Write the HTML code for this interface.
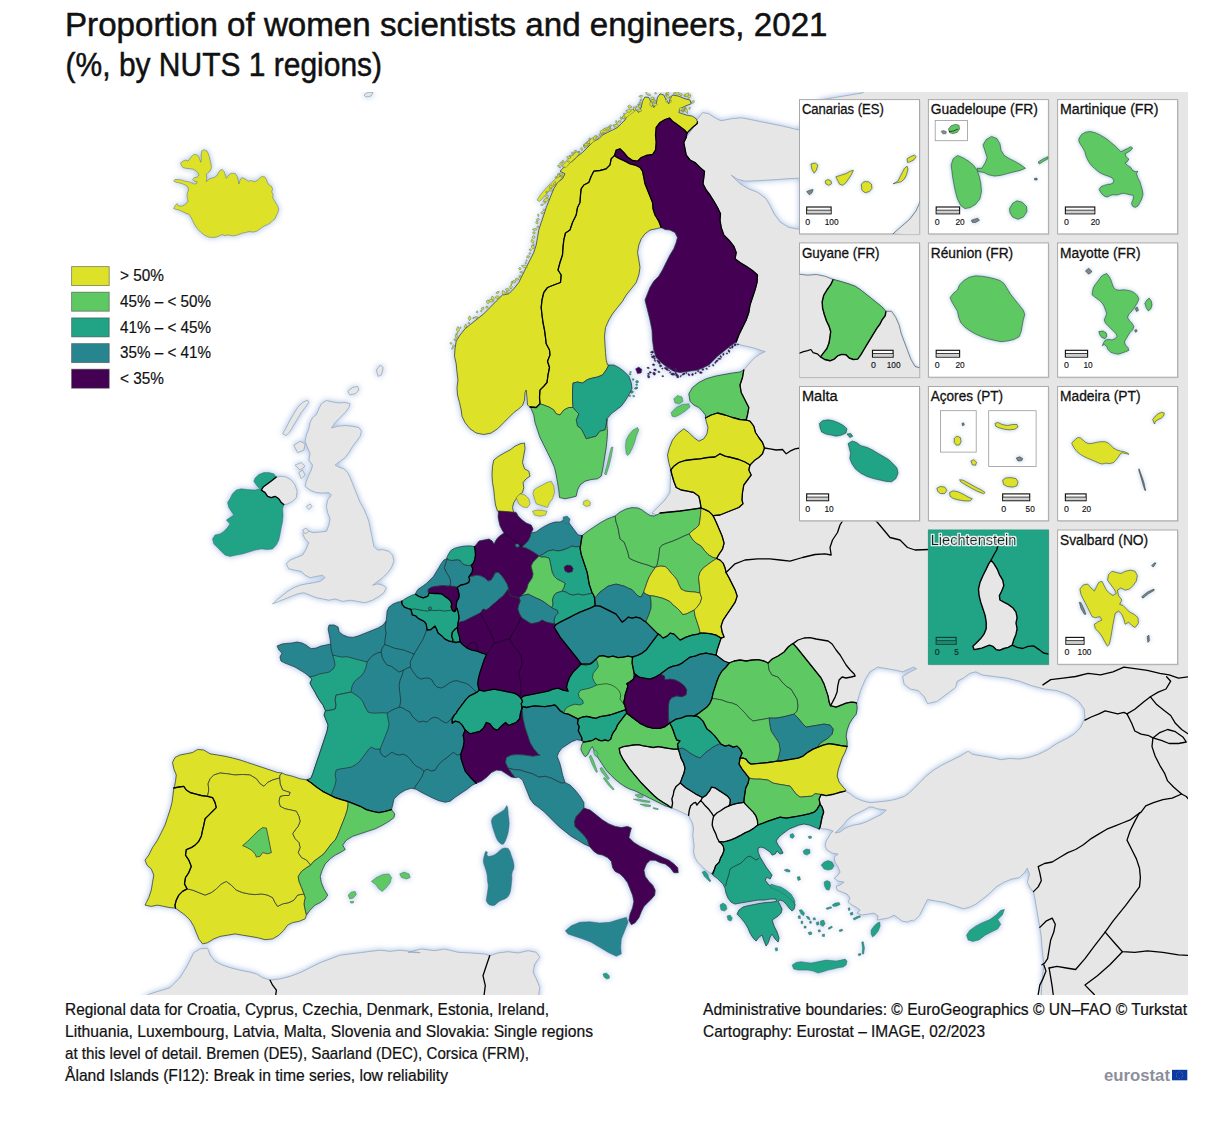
<!DOCTYPE html>
<html lang="en"><head><meta charset="utf-8"><title>Proportion of women scientists and engineers, 2021</title>
<style>html,body{margin:0;padding:0;background:#fff}body{width:1224px;height:1123px;overflow:hidden;position:relative;font-family:"Liberation Sans", sans-serif}svg{position:absolute;left:0;top:0;display:block}text{font-family:"Liberation Sans", sans-serif}</style></head><body>
<svg width="1224" height="1123" viewBox="0 0 1224 1123">
<defs>
<clipPath id="mapclip"><rect x="66" y="92" width="1122" height="903"/></clipPath>
<filter id="glow" x="-5%" y="-5%" width="110%" height="110%" color-interpolation-filters="sRGB">
<feGaussianBlur in="SourceAlpha" stdDeviation="3.3" result="b"/>
<feFlood flood-color="#c2d2ec" flood-opacity="1"/><feComposite in2="b" operator="in" result="g"/>
<feComponentTransfer in="g" result="g2"><feFuncA type="linear" slope="1.6"/></feComponentTransfer>
<feMerge><feMergeNode in="g2"/><feMergeNode in="SourceGraphic"/></feMerge>
</filter>
<filter id="glow2" x="-20%" y="-20%" width="140%" height="140%" color-interpolation-filters="sRGB">
<feGaussianBlur in="SourceAlpha" stdDeviation="2" result="b"/>
<feFlood flood-color="#b9d3ea" flood-opacity="1"/><feComposite in2="b" operator="in" result="g"/>
<feComponentTransfer in="g" result="g2"><feFuncA type="linear" slope="1.5"/></feComponentTransfer>
<feMerge><feMergeNode in="g2"/><feMergeNode in="SourceGraphic"/></feMerge>
</filter>
<filter id="wglow" x="-10%" y="-30%" width="120%" height="160%"><feMorphology in="SourceAlpha" operator="dilate" radius="1.2" result="d"/><feGaussianBlur in="d" stdDeviation="0.6" result="b"/><feFlood flood-color="#fff"/><feComposite in2="b" operator="in" result="w"/><feMerge><feMergeNode in="w"/><feMergeNode in="SourceGraphic"/></feMerge></filter>
</defs>
<g clip-path="url(#mapclip)">
<rect x="66" y="92" width="1122" height="903" fill="#fff"/>
<g filter="url(#glow)">
<g fill="#e6e6e6" stroke="#8ea3b8" stroke-width="0.7" stroke-linejoin="round">
<polygon points="670.8,470 672,475 673.8,481.2 676.2,487.5 681.2,490 687.5,491.2 693.8,492.5 698.8,496.2 700,501.2 701.1,508 690.1,509.6 680.1,511 670.1,512 660.1,513 657.1,515 652.1,513 655.1,510 665,500 670,492.5"/>
<polygon points="276.3,477.1 272.6,480.1 267.6,483.8 263.1,487.1 261.3,490.1 265.1,492.6 267.6,496.3 271.3,497.6 275.1,496.3 278.8,498.8 281.3,502.6 283.8,504.6 287.6,503.9 292.6,501.3 296.3,497.6 297.1,491.3 295.1,485.1 291.3,480.1 286.3,477.1 281.3,476.3"/>
<polygon points="272.6,603.9 278.8,601.4 285.1,598.9 291.3,596.4 297.6,593.9 303.8,592.7 310.1,595.2 316.4,597.7 322.6,598.9 328.9,600.2 335.1,598.9 342.6,601.4 350.1,600.2 357.6,601.4 365.1,602.7 372.6,600.2 378.9,596.4 383.9,592.7 386.4,587.7 382.7,585.2 377.6,583.9 372.6,585.2 377.6,581.4 382.7,577.7 387.7,572.7 391.4,567.6 393.9,561.4 392.7,555.1 388.9,551.4 382.7,549.6 377.6,550.1 373.9,546.4 372.6,540.1 371.4,533.9 370.1,527.6 368.9,521.4 366.4,515.1 363.9,508.9 360.1,502.6 357.6,496.3 355.1,490.1 352.6,483.8 350.1,477.6 347.6,472.6 343.9,468.8 338.9,467.1 335.1,465.1 340.1,461.3 345.1,457.6 348.9,452.6 352.6,446.3 356.4,441.3 360.1,436.3 361.4,431.3 358.9,427.5 352.6,426.3 345.1,425.5 337.6,426.3 331.4,428 335.1,422.5 340.1,417.5 345.1,412.5 348.9,407.5 350.1,403.8 345.1,402.5 338.9,403 332.6,402 326.4,400.5 321.4,403.8 318.9,408.8 316.4,414.5 312.6,417.5 310.1,422.5 308.8,428.8 306.3,435 305.1,441.3 307.6,447.6 310.1,453.8 308.8,460.1 312.6,465.1 311.3,470.1 308.8,475.1 306.3,481.3 305.1,486.3 310.1,490.1 316.4,492.6 322.6,493.1 328.9,492.6 331.4,495.1 327.6,500.1 326.4,506.4 327.6,512.6 330.1,518.9 328.9,525.1 326.4,531.4 320.1,532.1 312.6,532.6 306.3,530.1 302.6,533.9 305.1,538.9 308.8,542.6 306.3,548.9 302.6,555.1 296.3,557.6 290.1,560.1 286.3,563.9 288.8,568.9 295.1,570.2 301.3,571.4 305.1,575.2 310.1,577.7 316.4,576.4 322.6,575.2 325.1,577.7 320.1,581.4 313.9,582.7 306.3,583.9 300.1,585.2 293.8,587.7 287.6,591.4 281.3,596.4 276.3,600.2"/>
<polygon points="282.6,433.8 286.3,427.5 290.1,420 293.8,413.8 297.6,407.5 302.6,402.5 307.6,400 308.8,402.5 305.1,407.5 301.3,412.5 297.6,418.8 293.8,425 290.1,431.3 286.3,435.5"/>
<polygon points="293.8,445.1 300.1,441.3 305.1,443.8 303.8,450.1 297.6,452.6"/>
<polygon points="295.1,465.1 301.3,462.6 305.1,466.3 300.1,470.1"/>
<polygon points="298.8,472.6 302.6,470.1 305.1,475.1 301.3,478.8"/>
<polygon points="347.6,391.3 352.6,387.5 357.6,386.3 358.9,390 355.1,393.8 350.1,395"/>
<polygon points="376.4,370 380.2,365 383.2,367.5 381.4,375 378.1,376.3"/>
<polygon points="306.3,506.4 310.1,503.9 312.1,506.4 308.8,509.6"/>
<polygon points="302.6,530.1 306.3,528.1 308.8,531.4 305.1,533.9"/>
<polygon points="364,95 368,92.3 373,92.6 371,96 366,97"/>
<polygon points="670.8,807.5 667.5,805 663.3,802.5 658.3,799.2 654.2,795.8 650,791.7 645.8,787.5 641.7,783.3 637.5,778.3 633.3,773.3 629.2,768.3 625.8,763.3 622.5,758.3 620,753.3 619.2,748.3 623.3,746.7 628.3,745.8 633.3,745 638.3,744.7 643.3,745.8 648.3,746.7 653.3,747.5 658.3,746.7 663.3,747.5 668.3,748.3 673.3,749.2 678.3,749.2 679.6,753.1 681,758.1 683.6,763.1 685,768.1 684,773.1 682,778.1 680.3,782.9 676.1,786.4 674,790.6 673.3,794.7 671.9,798.9 672.6,803.1 671.7,807.9"/>
<polygon points="680.3,782.9 685.8,787.8 691.4,791.2 696.9,794.7 702.5,797.5 700.7,800.7 699.7,801.7 696.9,805.1 695.6,802.4 693.5,803.1 690.7,805.8 689.3,810 688.6,815.3 684.4,813.5 680.3,811.4 676.1,809.7 671.7,807.9 672.6,803.1 671.9,798.9 673.3,794.7 674,790.6 676.1,786.4 680.3,782.9"/>
<polygon points="702.5,797.5 706,795.4 709.4,791.2 711.5,787.1 715,787.8 719.2,790.6 723.3,793.3 727.5,796.1 730.3,799.6 730,803.8 728.9,805.8 724.7,807.9 720.6,810.7 717.1,812.8 713.6,816.2 711.5,812.8 708.8,809.3 705.3,805.8 702.5,802.4 700.7,800.7"/>
<polygon points="713.6,816.2 717.1,812.8 720.6,810.7 724.7,807.9 728.9,805.8 733.1,804.4 737.2,803.3 740.7,802.8 743.9,802.4 745.6,804.4 749.7,808.6 753.2,812.1 756,816.2 757.4,820.4 757.8,825 753.9,828.1 749.7,830.8 744.9,832.9 740,835.7 735.8,837.8 731,839.9 726.8,841.2 723.3,841.9 719.2,841.7 717.1,837.8 715.7,833.6 713.6,829.4 712.2,825.3 712.5,821.1 713.6,816.2"/>
<polygon points="700.7,800.7 699.7,801.7 696.9,805.1 695.6,802.4 693.5,803.1 690.7,805.8 689.3,810 688.6,815.3 690.7,819.7 692.8,823.9 693.5,829.4 692.8,835 693.5,840.6 694.2,846.1 693.5,851.7 694.9,857.2 697.6,862.1 701.1,865.6 705.3,869.7 709.4,872.5 712.9,873.9 714.3,869.7 715.7,865.6 719.2,862.1 720.6,857.9 722.6,854.4 724,850.3 723.3,846.1 721.2,843.3 719.2,841.7 717.1,837.8 715.7,833.6 713.6,829.4 712.2,825.3 712.5,821.1 713.6,816.2 711.5,812.8 708.8,809.3 705.3,805.8 702.5,802.4 700.7,800.7"/>
<path fill-rule="evenodd" d="M697.5,122 L697,123.8 L693,127 L690,130 L687,133 L702.5,112.6 L708.7,113.7 L714.8,117.8 L721,120.8 L731.2,118.8 L741.4,117.8 L751.7,119.8 L761.9,121.9 L772.1,123.9 L782.4,126 L790.6,128 L798.8,130 L820,100 L862,93 L870,88 L1192,88 L1192,1000 L1041,1000 L1041.9,983.5 L1042.9,974.2 L1043.8,964.8 L1042.9,955.5 L1041.9,946.1 L1041.3,936.8 L1039.8,927.4 L1038.2,918.1 L1036.6,908.7 L1035.1,899.4 L1033.5,891.6 L1030.4,888.5 L1027.3,882.2 L1029.5,874.4 L1027.3,868.2 L1024.2,872.9 L1019.5,877.6 L1011.7,879.1 L1003.9,882.2 L996.1,886.9 L989.9,893.1 L982.1,899.4 L975.9,904.1 L969.6,907.2 L963.4,908.7 L954,905.6 L944.7,902.5 L935.3,900.9 L927.5,899.4 L924.4,905.6 L919.8,915 L913.5,921.2 L912.2,920.1 L907.2,922.1 L902.2,921.1 L898.2,918.1 L894.2,915.1 L888.2,918.1 L882.2,919.1 L877.1,920.1 L878.2,916.1 L874.1,913.1 L868.1,914.1 L862.1,915.1 L857.1,913.1 L860.1,910.1 L856.1,907.1 L852.1,905.1 L848.1,902.1 L850.1,898.1 L847.1,894.1 L842.1,892.1 L837.1,890.1 L836.1,886.1 L840.1,885.1 L844.1,882.1 L838.1,881.1 L834.1,878.1 L837.1,876.1 L840.1,872.1 L838.1,867.1 L835.1,862.1 L834.1,857.1 L838.1,854.1 L832.1,853.1 L827.1,850 L825.1,846 L826.1,841 L828.1,838 L830.1,834.4 L833.1,831 L830.1,830 L827.1,829 L823.1,829 L820.1,828 L819.1,829 L820.1,827 L821.1,822 L822.1,817 L823.7,812 L822.1,807 L820.1,804.1 L800,780 L770,720 L740,680 L718,665 L712,650 L713,628 L715,600 L712,570 L705,540 L708,512 L715,470 L720,440 L725,410 L740,385 L743.8,370 L746.9,366.3 L750.6,361.9 L755,357.5 L760,354.1 L765.3,351.6 L760,350.1 L753.5,347.9 L747.6,346.5 L741.8,345.3 L737,343.5 L736.2,342 L738.8,335 L742.5,327.5 L746.2,320 L748.8,312.5 L750,305 L752.5,297.5 L755,290 L757,282.5 L757.5,275 L752.5,270.5 L746.2,266.2 L740,262.5 L735,258.8 L736.2,252.5 L733.8,246.2 L728.8,240 L723.8,235 L721.2,227.5 L720,220 L720.5,213.8 L717.5,207.5 L713.8,201.2 L710,195 L706.2,190 L703,183.8 L703.8,177.5 L704.5,171.2 L700,167.5 L695,162.5 L690,160 L686.2,155 L685,148.8 L683.8,142.5 L686.2,137.5Z M856.6,703.1 L857.2,708.1 L856.2,714.1 L852.2,719.1 L849.2,724.1 L847.1,730.1 L846.1,736.1 L847.1,742.1 L847.1,746.5 L845.1,752.1 L842.1,758.1 L840.1,764.1 L838.1,770.1 L837.1,776.1 L839.1,782.1 L843.1,787.1 L846.1,790.1 L845.1,791.1 L849.6,793.4 L855.8,798.1 L863.6,801.2 L869.9,802.7 L876.1,802.1 L885.5,801.2 L894.8,799.6 L904.2,796.5 L908.8,793.4 L913.5,788.7 L919.8,782.5 L926,776.2 L933.8,770 L941.6,765.3 L950.9,760.7 L960.3,756 L968.1,751.3 L972.7,754.4 L982.1,756 L991.4,757.5 L1000.8,759.7 L1010.1,758.5 L1019.5,759.1 L1028.9,757.5 L1038.2,754.4 L1047.6,749.8 L1056.9,743.5 L1066.3,738.8 L1074.1,734.2 L1080.3,727.9 L1085,718.6 L1084.3,709.2 L1078.7,701.4 L1069.4,695.2 L1056.9,690.5 L1044.4,689 L1032,685.8 L1019.5,681.2 L1007,678.1 L994.6,676.5 L982.1,674.9 L975.9,671.8 L969.6,673.4 L963.4,678.1 L957.2,681.2 L955.6,687.4 L949.4,692.1 L943.1,696.8 L936.9,701.4 L927.5,703.6 L924.4,696.8 L918.2,690.5 L910.4,689 L904.2,684.3 L902.6,676.5 L910.4,671.8 L916.6,668.7 L913.5,667.1 L902.6,671.8 L896.4,670.3 L887,668.7 L877.7,667.1 L869.9,671.8 L865.2,679.6 L860.5,690.5 L857.4,701.4Z M869.1,807 L864.1,810 L858.1,813 L852.1,816 L847.1,820 L844.1,824 L841.1,827 L838.1,830 L835.1,833 L840.1,832 L844.1,829 L848.1,827 L854.1,825 L860.1,824 L866.1,822 L870.1,820 L876.1,817 L882.2,814 L886.2,810 L878.2,809 L872.1,807Z M731.2,175.1 L737.3,179.2 L745.5,181.2 L755.8,180.8 L766,180.2 L776.2,179.6 L786.5,178.8 L798.8,178.2 L800,178 L800,230 L798.8,229.3 L788.5,227.3 L780.3,222.2 L774.2,214 L770.1,205.8 L766,198.6 L757.8,192.5 L747.6,188.4 L739.4,183.3Z"/>
<polygon points="140,1000 150,993.9 170,987.7 180,977.7 187.6,965.2 193.8,952.7 200.1,948.9 207.6,948.2 210.1,955.2 215.1,961.4 222.6,965.2 230.1,967.7 240.1,970.2 250.1,972.2 256.4,973.9 262.6,977.7 270.1,980.2 280.1,978.9 290.1,976.4 300.1,972.7 310.1,967.7 320.2,962.7 330.2,958.9 340.2,955.2 350.2,953.9 360.2,952.7 370.2,951.4 380.2,950.2 390.2,951.4 400.2,950.2 410.2,951.4 420.2,952.7 408,952.3 421.3,949 434.7,950.7 444.7,949 458,952.3 471.3,953 484.7,954 489.7,955.7 498,953 508,951.7 518,953 528,950.7 536.3,952.3 539.7,957.3 534.7,964 533,972.3 536.3,979 539.7,987.3 538.7,995 538.7,1000"/>
</g>
<g stroke="#26303a" stroke-opacity="0.75" stroke-width="0.95" stroke-linejoin="round">
<polygon fill="#dde228" stroke="#3f566e" stroke-opacity="0.6" stroke-width="0.7" points="180.6,162.9 182.9,161.2 185.7,160 188,161.2 189.7,158.9 192,156 194.3,154.3 197.2,154.9 198.9,157.2 200,160 200.6,162.3 201.4,159.4 201.2,154.9 201.7,150.9 204,149.7 206.9,150.9 208.6,154.3 209.8,158.9 210.9,163.4 211.5,167.5 210.3,170.9 208,172.6 206.3,174.3 206.9,177.7 206.3,181.7 208,180 210.9,178.3 213.8,177.7 216.6,176 218.3,173.2 220,170.3 222.3,169.5 224.1,171.5 225.2,174.9 226.3,178.3 228.1,176 230.3,173.7 233.2,173.2 235.5,173.7 237.2,176.6 238.3,180.6 238.9,184 240.1,180 241.8,177.7 244.1,178.3 246.4,180 248.6,181.2 251.5,180.6 254.4,181.7 257.2,180.6 259.5,178.3 261.8,176.6 264.7,176.8 266.4,179.5 267.5,182.9 269.2,185.2 271.5,186.3 272.7,189.2 271.5,192 273.2,194.3 272.7,197.8 274.4,200.6 276.1,203.5 277.8,206.3 278.7,209.2 277.8,212.6 276.1,216.1 274.9,218.9 272.7,220.6 270.4,222.9 267.5,224.6 264.7,225.8 261.8,227.5 258.9,229.8 256.1,231.5 252.6,232.1 249.2,231.5 245.8,232.4 242.4,233.2 238.9,234.4 235.5,235.5 232.1,235.8 228.6,234.9 225.2,235.5 221.8,234.7 218.9,236.1 216,237.2 212.6,237.4 209.2,237.2 206.3,236.1 203.5,234.4 200.6,232.1 198.3,229.8 196,226.9 194.3,224.1 192.6,220.6 190.9,217.2 189.2,214.3 185.7,213.2 182.3,211.5 178.9,210 175.4,209.2 173.7,208.6 175.4,205.2 177.2,203.5 178.3,205.8 181.2,206.3 184,205.2 186.3,203.5 188,201.2 187.5,198.3 186.9,195.5 187.5,192.6 188.6,189.8 188,186.9 185.7,185.2 182.9,184 179.4,182.9 176,182.3 173.7,181.2 174.9,179.5 178.3,179.5 181.7,180 185.2,181.2 188.6,181.7 191.5,182.9 194.3,184 196.6,183.5 197.2,181.7 194.3,181.2 192.6,179.5 194.3,177.7 197.2,177.2 198.9,175.5 198.3,173.2 196,170.9 193.2,169.2 189.7,168.6 186.3,168.4 182.9,167.5 181.2,165.2"/>
<polygon fill="#440154" points="614.5,155.5 616.2,150 620,148.8 623.8,152.5 627.5,157 632.5,160.5 637.5,161.2 641.2,157.5 646.2,155.5 652.5,154.5 655.5,150 656.2,142.5 655.5,135 656.2,127.5 660,122.5 665,119.5 669.5,118 672.5,121.2 676.2,123.8 680.5,127 684.5,130 687,133 686.2,137.5 683.8,142.5 685,148.8 686.2,155 690,160 695,162.5 700,167.5 704.5,171.2 703.8,177.5 703,183.8 706.2,190 710,195 713.8,201.2 717.5,207.5 720.5,213.8 720,220 721.2,227.5 723.8,235 728.8,240 733.8,246.2 736.2,252.5 735,258.8 740,262.5 746.2,266.2 752.5,270.5 757.5,275 757,282.5 755,290 752.5,297.5 750,305 748.8,312.5 746.2,320 742.5,327.5 738.8,335 736.2,342 736.2,342 730,346.2 723.8,351.2 717.5,356.2 712.5,361.2 708.8,365 702.5,368 697.5,370 680,372.5 673.8,371.2 667.5,367.5 661.2,362.5 656.2,357.5 653.8,350 652.5,340 652,330 650,320 647.5,310 645,300 647.5,293.8 650,287.5 653.8,281.2 658.8,276.2 662.5,270 666.2,262.5 670,255 673.8,248.8 676.2,242.5 677.5,237.5 675,232.5 670,230 665,229.5 661.2,227.5 658.8,221.2 655,215 653,208.8 652.5,202.5 650,196.2 647.5,190 645,183.8 643.8,177.5 642.5,171.2 640,167.5 635,165 630,163.8 625,161.2 620,158.8 616.2,157 614.5,155.5"/>
<polygon fill="#440154" stroke="#3f566e" stroke-opacity="0.6" stroke-width="0.7" points="635.5,368.8 638.8,367 642,369.5 641.2,373 637.5,373.8"/>
<polygon fill="#dde228" points="614.5,155.5 611.2,158.8 610,165 606.2,168.8 600,170.5 593.8,171.2 591.2,176.2 588.8,182.5 583.8,185 581.2,188.8 580.5,195 580,202.5 577.5,207.5 576.2,215 572.5,222.5 570,230 565.5,233 563.8,240 563,247.5 562.5,255 560,262.5 558,270 561.2,275 560.5,282.5 553.8,285 547.5,287.5 543.8,292.5 542,300 541.2,307.5 542,315 543,322.5 544.5,330 545.5,337.5 546.2,343.8 549.5,350 550,355 547.5,361.2 549.5,367.5 548,375 547,382.5 543.8,386.2 540,390 539.5,397.5 540,403.8 536.2,407.5 530,407 527.5,405 527,397.5 526.2,390 525,392.5 524.5,400 522.5,405.5 518.8,408.8 513.8,412.5 508.8,417.5 503.8,422.5 497.5,428.8 491.2,433 483.8,434.5 476.2,433 470,428.8 465,422.5 462,416.2 461.2,410 459.5,402.5 457.5,395 457,387.5 458,380 457,372.5 456.2,363.8 454.5,356.2 455,348.8 456.2,341.2 460,335 465,328.8 471.2,323.8 477.5,318.8 483.8,313.8 490,307.5 496.2,301.2 502.5,295 508.8,293.8 513.8,288.8 518.8,282.5 522.5,275 526.2,267.5 530,260 533.8,252.5 536.2,245 537.5,237.5 538.8,230 541.2,222.5 543.8,215 546.2,207.5 548.8,201.2 551.2,195 553.8,188.8 557.5,182.5 562.5,178.8 565,173.8 560,171.2 563.8,167.5 568.8,163.8 573.8,160 577.5,156.2 582.5,152.5 586.2,148.8 590,145 593.8,141.2 598.8,138.8 602.5,135 607.5,132.5 612.5,130 617.5,127.5 621.2,123.8 625,120 627.5,115 631.2,111.2 635,108.8 638.8,112.5 641.2,107.5 642.5,101.2 645,97 648.8,97.5 651.2,102.5 653.8,107.5 656.2,103.8 657.5,97.5 660,93.8 663.8,95 666.2,100 668.8,103.8 670,98.8 672.5,95 678.8,96.2 685,98.8 690,100 691.2,103.8 685,106.2 680,108.8 678.8,112.5 682.5,113.8 686.2,115 692.5,116.2 696.2,118.8 697.5,122 697,123.8 693,127 690,130 687,133 684.5,130 680.5,127 676.2,123.8 672.5,121.2 669.5,118 665,119.5 660,122.5 656.2,127.5 655.5,135 656.2,142.5 655.5,150 652.5,154.5 646.2,155.5 641.2,157.5 637.5,161.2 632.5,160.5 627.5,157 623.8,152.5 620,148.8 616.2,150 614.5,155.5"/>
<polygon fill="#dde228" stroke="#3f566e" stroke-opacity="0.6" stroke-width="0.7" points="537,200 541.2,193.8 546.2,188 551.2,183 556.2,178 561.2,173.8 563.8,175.5 559.5,180.5 554.5,185.5 549.5,190.5 544.5,196.2 539.5,201.5"/>
<polygon fill="#dde228" stroke="#3f566e" stroke-opacity="0.6" stroke-width="0.7" points="562,166.5 566.5,160.8 571.5,155.8 577,151.5 580.2,152.5 576,157.5 571,162 566,167.5"/>
<polygon fill="#dde228" stroke="#3f566e" stroke-opacity="0.6" stroke-width="0.7" points="583.2,145 588.2,140.8 593.2,137.5 595.8,140 590.8,144 585.8,147.5"/>
<polygon fill="#dde228" stroke="#3f566e" stroke-opacity="0.6" stroke-width="0.7" points="600,131.5 605,128.2 610,126.5 611.2,129 606.2,132 601.2,134.5"/>
<polygon fill="#dde228" stroke="#3f566e" stroke-opacity="0.6" stroke-width="0.7" points="622.5,116.5 627.5,112 632.5,109 634.5,111.5 629.5,115 624.5,119"/>
<polygon fill="#dde228" stroke="#3f566e" stroke-opacity="0.6" stroke-width="0.7" points="451.8,349.2 451.5,348.4 451.9,347.8 452.6,347.6 452.9,348.3 452.7,349"/>
<polygon fill="#dde228" stroke="#3f566e" stroke-opacity="0.6" stroke-width="0.7" points="452.6,346.7 452.6,345.6 453.5,344.9 454.6,345.5 454.4,346.6 453.6,347.4"/>
<polygon fill="#dde228" stroke="#3f566e" stroke-opacity="0.6" stroke-width="0.7" points="451.8,343.8 450.9,344.4 450.2,343.8 449.9,342.9 450.8,342.4 451.6,342.8"/>
<polygon fill="#dde228" stroke="#3f566e" stroke-opacity="0.6" stroke-width="0.7" points="456,340.6 454.9,340.5 454.3,340.1 453.9,339.1 455.1,339.2 455.7,339.5"/>
<polygon fill="#dde228" stroke="#3f566e" stroke-opacity="0.6" stroke-width="0.7" points="456.1,338.8 455.4,336.7 455.2,335.4 456.5,334.1 457.4,335.7 457.4,337"/>
<polygon fill="#dde228" stroke="#3f566e" stroke-opacity="0.6" stroke-width="0.7" points="456.1,334.7 456,333.5 456.5,332.9 457.6,332.2 457.6,333.5 457.2,334.2"/>
<polygon fill="#dde228" stroke="#3f566e" stroke-opacity="0.6" stroke-width="0.7" points="458.2,332 456.7,330.6 456.6,329 457.8,326.5 459.4,328.7 459.3,330.3"/>
<polygon fill="#dde228" stroke="#3f566e" stroke-opacity="0.6" stroke-width="0.7" points="460.6,328.4 460,328.1 459.8,327.4 460.4,327 461,327.3 461.1,328"/>
<polygon fill="#dde228" stroke="#3f566e" stroke-opacity="0.6" stroke-width="0.7" points="465.2,328.4 464.4,326.4 464.8,325.4 465.9,323.9 466.5,325.6 466.5,326.8"/>
<polygon fill="#dde228" stroke="#3f566e" stroke-opacity="0.6" stroke-width="0.7" points="469.6,323.7 468.6,323.9 468.1,323.3 468.2,322.4 469,322.2 469.6,322.8"/>
<polygon fill="#dde228" stroke="#3f566e" stroke-opacity="0.6" stroke-width="0.7" points="469.5,320.7 468.6,318.8 468.3,317.5 469.7,315.8 470.9,317.6 470.8,319.1"/>
<polygon fill="#dde228" stroke="#3f566e" stroke-opacity="0.6" stroke-width="0.7" points="473.1,318.7 472.7,318.2 473,317.5 473.7,317.4 474,318 473.8,318.6"/>
<polygon fill="#dde228" stroke="#3f566e" stroke-opacity="0.6" stroke-width="0.7" points="478.3,317.6 476.5,318.2 475.6,318.2 474.2,317.3 475.8,316.6 476.7,316.7"/>
<polygon fill="#dde228" stroke="#3f566e" stroke-opacity="0.6" stroke-width="0.7" points="477.2,313.1 476.3,312.6 476.3,311.6 477.1,310.7 478,311.5 478,312.5"/>
<polygon fill="#dde228" stroke="#3f566e" stroke-opacity="0.6" stroke-width="0.7" points="481.3,311.9 480.5,311.4 480.7,310.5 481.5,310.2 482.1,310.8 482,311.5"/>
<polygon fill="#dde228" stroke="#3f566e" stroke-opacity="0.6" stroke-width="0.7" points="481.4,309.4 481.4,308.1 482.3,307.2 483.9,307.4 483.8,309 482.8,309.8"/>
<polygon fill="#dde228" stroke="#3f566e" stroke-opacity="0.6" stroke-width="0.7" points="487.3,308.2 486.3,308.1 485.8,307.2 486.3,306.1 487.6,306.2 488,307.4"/>
<polygon fill="#dde228" stroke="#3f566e" stroke-opacity="0.6" stroke-width="0.7" points="488.4,303.6 486.9,303.1 486.4,301.9 486.9,300.2 488.7,300.6 489.4,302.2"/>
<polygon fill="#dde228" stroke="#3f566e" stroke-opacity="0.6" stroke-width="0.7" points="493.7,301.4 491.4,302.1 489.9,301.7 488.6,300 490.7,299.4 492.1,299.5"/>
<polygon fill="#dde228" stroke="#3f566e" stroke-opacity="0.6" stroke-width="0.7" points="493.5,300.6 491.6,299.3 491.3,297.8 492,296.2 493.6,297.1 494.4,298.4"/>
<polygon fill="#dde228" stroke="#3f566e" stroke-opacity="0.6" stroke-width="0.7" points="495.1,297.2 496.6,295.9 498,296 499.5,296.9 498.4,298.4 496.8,298.4"/>
<polygon fill="#dde228" stroke="#3f566e" stroke-opacity="0.6" stroke-width="0.7" points="495.9,293.2 496.9,291.8 497.8,291.4 499.4,291.7 498.5,293.1 497.6,293.4"/>
<polygon fill="#dde228" stroke="#3f566e" stroke-opacity="0.6" stroke-width="0.7" points="504.7,294.8 502.7,294.1 502.2,292.6 502.5,290.4 504.5,291.5 505.1,292.8"/>
<polygon fill="#dde228" stroke="#3f566e" stroke-opacity="0.6" stroke-width="0.7" points="508.1,293.2 507,293.5 506.1,293 506.1,291.9 507.1,291.4 508,292.1"/>
<polygon fill="#dde228" stroke="#3f566e" stroke-opacity="0.6" stroke-width="0.7" points="509.5,290.5 507.8,291 506.4,290.8 505.4,289 507.3,288.4 508.7,288.8"/>
<polygon fill="#dde228" stroke="#3f566e" stroke-opacity="0.6" stroke-width="0.7" points="510.9,289.2 509.8,287.7 509.8,286.4 510.9,285.1 512.1,286.4 512,287.7"/>
<polygon fill="#dde228" stroke="#3f566e" stroke-opacity="0.6" stroke-width="0.7" points="511.4,285 511,283.1 511.2,282.4 512.1,281 512.5,282.6 512.4,283.4"/>
<polygon fill="#dde228" stroke="#3f566e" stroke-opacity="0.6" stroke-width="0.7" points="512.5,282.2 513,280.7 514.4,280.5 515.9,281.1 515.3,282.7 513.9,282.9"/>
<polygon fill="#dde228" stroke="#3f566e" stroke-opacity="0.6" stroke-width="0.7" points="515,279.3 516.4,278.3 517.5,278.3 519,279.2 517.5,280.1 516.5,280.2"/>
<polygon fill="#dde228" stroke="#3f566e" stroke-opacity="0.6" stroke-width="0.7" points="520.2,277.6 519.1,277.3 518.9,276.1 519.8,275.5 521.1,275.6 521.2,276.9"/>
<polygon fill="#dde228" stroke="#3f566e" stroke-opacity="0.6" stroke-width="0.7" points="523.3,272.5 522,273.1 521.1,273.1 519.7,272.1 521.3,271.4 522.2,271.7"/>
<polygon fill="#dde228" stroke="#3f566e" stroke-opacity="0.6" stroke-width="0.7" points="519.2,269.5 518.6,268.5 519.4,267.5 520.5,267.7 521.2,268.7 520.4,269.7"/>
<polygon fill="#dde228" stroke="#3f566e" stroke-opacity="0.6" stroke-width="0.7" points="527.5,267 525.1,267.7 523.7,267.5 521.4,265.7 524.3,265.2 525.5,265.5"/>
<polygon fill="#dde228" stroke="#3f566e" stroke-opacity="0.6" stroke-width="0.7" points="526.3,263.5 525.7,263.8 525.1,263.5 524.9,262.7 525.7,262.4 526.3,262.7"/>
<polygon fill="#dde228" stroke="#3f566e" stroke-opacity="0.6" stroke-width="0.7" points="527,261.1 526.3,261.2 525.9,260.7 526,260.1 526.7,259.8 527.1,260.4"/>
<polygon fill="#dde228" stroke="#3f566e" stroke-opacity="0.6" stroke-width="0.7" points="526.6,257.6 527,256.2 528,255.5 529.4,256 529.1,257.4 528,258"/>
<polygon fill="#dde228" stroke="#3f566e" stroke-opacity="0.6" stroke-width="0.7" points="530.7,253.7 530.1,254.6 529.2,254.2 528.8,253.4 529.5,252.8 530.5,252.7"/>
<polygon fill="#dde228" stroke="#3f566e" stroke-opacity="0.6" stroke-width="0.7" points="531.2,250.7 530.1,250.7 529.4,250.1 529.4,249.1 530.5,248.8 531.3,249.6"/>
<polygon fill="#dde228" stroke="#3f566e" stroke-opacity="0.6" stroke-width="0.7" points="533.9,248.6 532.3,248.4 531.4,247.2 531.7,245.3 533.5,245.8 534.5,247"/>
<polygon fill="#dde228" stroke="#3f566e" stroke-opacity="0.6" stroke-width="0.7" points="533.7,245.5 533.1,245.4 532.9,244.8 533.3,244.1 534.1,244.3 534.4,245.1"/>
<polygon fill="#dde228" stroke="#3f566e" stroke-opacity="0.6" stroke-width="0.7" points="533.2,243.5 531.6,242.3 530.9,241 531.7,239.3 533.2,240.4 534,241.6"/>
<polygon fill="#dde228" stroke="#3f566e" stroke-opacity="0.6" stroke-width="0.7" points="532.2,238.1 532.3,236.6 533.4,235.7 534.9,236.2 534.8,237.8 533.6,238.6"/>
<polygon fill="#dde228" stroke="#3f566e" stroke-opacity="0.6" stroke-width="0.7" points="534.9,233.7 533.7,234.2 532.9,233.3 532.9,232 534.2,231.7 535.3,232.5"/>
<polygon fill="#dde228" stroke="#3f566e" stroke-opacity="0.6" stroke-width="0.7" points="537,229.4 535.2,230.4 534,230.4 532.3,229.4 534.2,228.6 535.2,228.4"/>
<polygon fill="#dde228" stroke="#3f566e" stroke-opacity="0.6" stroke-width="0.7" points="537.1,227.8 536.9,226.7 537.6,226 538.6,226.1 538.8,227.1 538.2,227.8"/>
<polygon fill="#dde228" stroke="#3f566e" stroke-opacity="0.6" stroke-width="0.7" points="538.3,222.8 537.4,223.8 536.2,223.3 535.6,222.1 536.8,221.5 537.8,221.7"/>
<polygon fill="#dde228" stroke="#3f566e" stroke-opacity="0.6" stroke-width="0.7" points="536.9,221.1 536.5,219.6 537.2,218.5 538.6,218.3 539.2,219.6 538.3,220.6"/>
<polygon fill="#dde228" stroke="#3f566e" stroke-opacity="0.6" stroke-width="0.7" points="538.4,216.7 537.7,215.5 537.6,214.8 538.1,213.8 538.9,214.6 538.8,215.3"/>
<polygon fill="#dde228" stroke="#3f566e" stroke-opacity="0.6" stroke-width="0.7" points="540.9,213 541.6,211.9 542.8,211.6 543.7,212.6 543,213.6 541.9,214"/>
<polygon fill="#dde228" stroke="#3f566e" stroke-opacity="0.6" stroke-width="0.7" points="543.8,210.8 543.3,210.1 543.2,209.5 543.8,208.8 544.4,209.4 544.3,210"/>
<polygon fill="#dde228" stroke="#3f566e" stroke-opacity="0.6" stroke-width="0.7" points="540.5,205.1 541.6,204.2 542.3,204 543.5,204.4 542.7,205.4 541.9,205.5"/>
<polygon fill="#dde228" stroke="#3f566e" stroke-opacity="0.6" stroke-width="0.7" points="545.9,202.7 545.1,203.3 544.1,203.3 543.9,202.4 544.5,201.7 545.4,201.8"/>
<polygon fill="#dde228" stroke="#3f566e" stroke-opacity="0.6" stroke-width="0.7" points="543.1,201.3 544.6,199 546.3,198.4 548.9,199 547.3,201.2 545.8,201.4"/>
<polygon fill="#dde228" stroke="#3f566e" stroke-opacity="0.6" stroke-width="0.7" points="546.4,197.8 545.5,196.6 546.4,195.5 547.9,194.9 548.4,196.4 547.8,197.5"/>
<polygon fill="#dde228" stroke="#3f566e" stroke-opacity="0.6" stroke-width="0.7" points="546,193.1 545.7,192 546.2,191.3 547.1,191 547.4,191.9 547.2,192.8"/>
<polygon fill="#dde228" stroke="#3f566e" stroke-opacity="0.6" stroke-width="0.7" points="548.7,190 550,188.9 551.3,188.9 552.9,190 551.4,191.1 550.1,191.2"/>
<polygon fill="#dde228" stroke="#3f566e" stroke-opacity="0.6" stroke-width="0.7" points="549.3,188 549.4,186.1 550.4,185.1 552.2,185 552,186.8 551.1,187.8"/>
<polygon fill="#dde228" stroke="#3f566e" stroke-opacity="0.6" stroke-width="0.7" points="553.7,185.4 553.5,183.7 553.9,182.7 555.4,181.5 555.7,183.4 555.3,184.6"/>
<polygon fill="#dde228" stroke="#3f566e" stroke-opacity="0.6" stroke-width="0.7" points="557.4,177.6 556.2,178.1 555.5,178 554.9,177.3 555.7,176.8 556.4,176.8"/>
<polygon fill="#dde228" stroke="#3f566e" stroke-opacity="0.6" stroke-width="0.7" points="560.3,176.1 558.9,176.6 557.7,175.5 557.8,173.7 559.7,173.5 560.8,174.6"/>
<polygon fill="#dde228" stroke="#3f566e" stroke-opacity="0.6" stroke-width="0.7" points="563.1,174.4 561.6,175.4 560.4,175.1 559,173.9 560.7,173.2 561.8,173.3"/>
<polygon fill="#dde228" stroke="#3f566e" stroke-opacity="0.6" stroke-width="0.7" points="562.8,177.1 561.8,177.6 561.1,177.4 560.3,176.6 561.4,176.2 562.1,176.3"/>
<polygon fill="#dde228" stroke="#3f566e" stroke-opacity="0.6" stroke-width="0.7" points="556.5,176.9 557.3,175.6 558.4,174.8 560.1,175.5 559.1,177 558,177.3"/>
<polygon fill="#dde228" stroke="#3f566e" stroke-opacity="0.6" stroke-width="0.7" points="560.5,167.9 558.7,167.3 558.1,166.6 557.7,165.1 559.2,165.4 560,166.1"/>
<polygon fill="#dde228" stroke="#3f566e" stroke-opacity="0.6" stroke-width="0.7" points="561,165.7 559.9,164.3 559.7,163 561,162.2 562.1,163.1 562.3,164.5"/>
<polygon fill="#dde228" stroke="#3f566e" stroke-opacity="0.6" stroke-width="0.7" points="564.1,162.3 562.9,162.7 561.8,162.1 562,160.8 563.1,160.4 563.9,161.1"/>
<polygon fill="#dde228" stroke="#3f566e" stroke-opacity="0.6" stroke-width="0.7" points="569.6,161.7 568.7,162.3 567.9,162.1 567.2,161.2 568.2,160.7 568.9,161"/>
<polygon fill="#dde228" stroke="#3f566e" stroke-opacity="0.6" stroke-width="0.7" points="570.9,157.6 569.2,158.5 567.9,158.4 566.5,157.1 568.2,156.3 569.3,156.3"/>
<polygon fill="#dde228" stroke="#3f566e" stroke-opacity="0.6" stroke-width="0.7" points="569.4,156 569.8,155.2 570.7,155.1 571.3,155.8 570.7,156.4 570,156.6"/>
<polygon fill="#dde228" stroke="#3f566e" stroke-opacity="0.6" stroke-width="0.7" points="573.2,155.2 572.1,154.5 571.7,153.7 571.8,152 573,153.2 573.3,153.9"/>
<polygon fill="#dde228" stroke="#3f566e" stroke-opacity="0.6" stroke-width="0.7" points="573.7,152.9 574.1,151.4 574.7,150.6 576.3,150.2 575.8,151.8 575.2,152.6"/>
<polygon fill="#dde228" stroke="#3f566e" stroke-opacity="0.6" stroke-width="0.7" points="577.8,153 578.1,151.7 578.7,151.4 579.8,151.1 579.5,152.1 579.1,152.7"/>
<polygon fill="#dde228" stroke="#3f566e" stroke-opacity="0.6" stroke-width="0.7" points="582,150.7 581,149.6 580.6,148.8 581.3,147.6 582.3,148.4 582.5,149.4"/>
<polygon fill="#dde228" stroke="#3f566e" stroke-opacity="0.6" stroke-width="0.7" points="585,148.1 583.8,147.4 583.3,146.6 583.6,145.2 584.8,146 585.1,146.8"/>
<polygon fill="#dde228" stroke="#3f566e" stroke-opacity="0.6" stroke-width="0.7" points="583.9,145.4 585.8,143.4 587,143 589.9,143 588.1,145.3 586.5,145.8"/>
<polygon fill="#dde228" stroke="#3f566e" stroke-opacity="0.6" stroke-width="0.7" points="587.1,144.3 587.2,142 588,141.1 589.8,139.8 589.6,142.1 589.1,143.1"/>
<polygon fill="#dde228" stroke="#3f566e" stroke-opacity="0.6" stroke-width="0.7" points="590.4,139.6 589.5,139.9 588.9,139.2 589,138.2 589.9,138.2 590.7,138.7"/>
<polygon fill="#dde228" stroke="#3f566e" stroke-opacity="0.6" stroke-width="0.7" points="593.4,140.4 593.3,138.2 593.8,136.8 596.2,135.1 596.2,138 595.3,139.1"/>
<polygon fill="#dde228" stroke="#3f566e" stroke-opacity="0.6" stroke-width="0.7" points="595.8,137.4 597,136.6 597.8,136.4 598.9,137.1 597.9,137.9 597,138.1"/>
<polygon fill="#dde228" stroke="#3f566e" stroke-opacity="0.6" stroke-width="0.7" points="599.5,136.1 599,134.9 599.4,133.9 600.6,133.4 601.3,134.6 600.9,135.7"/>
<polygon fill="#dde228" stroke="#3f566e" stroke-opacity="0.6" stroke-width="0.7" points="602.3,134 602,133.1 602.4,132.1 603.5,132.1 603.7,133.1 603.3,133.8"/>
<polygon fill="#dde228" stroke="#3f566e" stroke-opacity="0.6" stroke-width="0.7" points="606.2,130.2 605,130.9 603.9,130.6 603.4,129.4 604.4,128.4 605.5,129"/>
<polygon fill="#dde228" stroke="#3f566e" stroke-opacity="0.6" stroke-width="0.7" points="606.2,129.8 607.4,128.3 608.3,127.8 610.1,128 608.9,129.4 608.1,130.1"/>
<polygon fill="#dde228" stroke="#3f566e" stroke-opacity="0.6" stroke-width="0.7" points="608.9,126.3 609.5,125.3 610.4,124.8 611.8,125.2 611.1,126.5 610.1,126.7"/>
<polygon fill="#dde228" stroke="#3f566e" stroke-opacity="0.6" stroke-width="0.7" points="615.6,126.5 614.4,127.1 613.5,126.3 612.9,125.1 614.2,124.5 615.4,125.1"/>
<polygon fill="#dde228" stroke="#3f566e" stroke-opacity="0.6" stroke-width="0.7" points="614.5,125.8 615.5,124.3 617.1,124.4 619.2,125.5 617.4,127 615.8,127.2"/>
<polygon fill="#dde228" stroke="#3f566e" stroke-opacity="0.6" stroke-width="0.7" points="617,123.9 615.9,122.6 615.7,121.8 615.9,120.4 617,121.3 617.3,122.2"/>
<polygon fill="#dde228" stroke="#3f566e" stroke-opacity="0.6" stroke-width="0.7" points="618.4,122.2 618.7,120.8 620,120.6 621.2,121.2 620.6,122.5 619.5,123.1"/>
<polygon fill="#dde228" stroke="#3f566e" stroke-opacity="0.6" stroke-width="0.7" points="621.5,119.7 620.4,118.9 620.2,117.9 620.7,116.7 621.7,117.6 622.1,118.5"/>
<polygon fill="#dde228" stroke="#3f566e" stroke-opacity="0.6" stroke-width="0.7" points="622.2,118.4 622.4,116.8 623.5,116.1 625.1,116.1 624.9,117.7 623.8,118.4"/>
<polygon fill="#dde228" stroke="#3f566e" stroke-opacity="0.6" stroke-width="0.7" points="623.8,114.6 623.3,113.9 623.7,113.3 624.4,113.2 624.8,113.8 624.5,114.4"/>
<polygon fill="#dde228" stroke="#3f566e" stroke-opacity="0.6" stroke-width="0.7" points="625.7,110.8 628.1,109.7 629.6,109.3 631.4,110.8 629.6,112.2 627.9,112.2"/>
<polygon fill="#dde228" stroke="#3f566e" stroke-opacity="0.6" stroke-width="0.7" points="632,107.1 630.1,107.9 628.6,107.9 627.8,106.2 629.2,105 630.6,105.7"/>
<polygon fill="#dde228" stroke="#3f566e" stroke-opacity="0.6" stroke-width="0.7" points="639.5,106.1 638.4,105.8 637.9,105.3 637.8,104.2 639,104.2 639.6,104.9"/>
<polygon fill="#dde228" stroke="#3f566e" stroke-opacity="0.6" stroke-width="0.7" points="641.8,111.1 639.8,111.5 638.4,111.2 637.5,109.4 639.4,108.9 640.8,109.3"/>
<polygon fill="#dde228" stroke="#3f566e" stroke-opacity="0.6" stroke-width="0.7" points="635.2,110.9 633.6,109.9 633.3,108.6 633.8,106.6 635.4,107.8 635.7,109"/>
<polygon fill="#dde228" stroke="#3f566e" stroke-opacity="0.6" stroke-width="0.7" points="635.7,107.4 635.8,106.5 636.5,106.1 637.4,106.3 637.1,107.2 636.6,107.4"/>
<polygon fill="#dde228" stroke="#3f566e" stroke-opacity="0.6" stroke-width="0.7" points="639.8,108.4 638.5,106.9 638.3,105.9 638.9,104.2 640.1,105.5 640.3,106.5"/>
<polygon fill="#dde228" stroke="#3f566e" stroke-opacity="0.6" stroke-width="0.7" points="641.4,104.4 639.9,104.1 639.1,103.6 638.8,102.2 640.3,102.4 641.2,102.9"/>
<polygon fill="#dde228" stroke="#3f566e" stroke-opacity="0.6" stroke-width="0.7" points="640.1,101.5 640.1,100 640.4,99.3 641.4,98.7 641.6,99.8 641.3,100.5"/>
<polygon fill="#dde228" stroke="#3f566e" stroke-opacity="0.6" stroke-width="0.7" points="638.9,96.6 639.9,95.4 641,95.4 642.7,95.9 641.4,97.1 640.4,97.2"/>
<polygon fill="#dde228" stroke="#3f566e" stroke-opacity="0.6" stroke-width="0.7" points="646.2,93.8 645.8,92.7 645.8,92.1 646.6,91.1 647.1,92.3 647,93"/>
<polygon fill="#dde228" stroke="#3f566e" stroke-opacity="0.6" stroke-width="0.7" points="650.9,95.1 649.1,95.7 648.3,95.3 646.6,94.4 648.4,93.8 649.3,94"/>
<polygon fill="#dde228" stroke="#3f566e" stroke-opacity="0.6" stroke-width="0.7" points="654.2,99.5 653.4,100 652.6,99.8 652.2,98.8 653.1,98.2 654,98.6"/>
<polygon fill="#dde228" stroke="#3f566e" stroke-opacity="0.6" stroke-width="0.7" points="653.6,102.4 653.8,101.1 654.7,100.2 656.1,100.5 656,101.9 655,102.3"/>
<polygon fill="#dde228" stroke="#3f566e" stroke-opacity="0.6" stroke-width="0.7" points="652.7,105 654.1,103.4 655.5,103.4 657.3,104.2 656,105.7 654.5,105.9"/>
<polygon fill="#dde228" stroke="#3f566e" stroke-opacity="0.6" stroke-width="0.7" points="651.6,107.1 649.8,104.8 649.9,103.1 650.9,100.4 652.5,102.8 652.6,104.4"/>
<polygon fill="#dde228" stroke="#3f566e" stroke-opacity="0.6" stroke-width="0.7" points="651.6,103.1 651.8,102.5 652.5,102.1 653.1,102.7 652.8,103.4 652.2,103.5"/>
<polygon fill="#dde228" stroke="#3f566e" stroke-opacity="0.6" stroke-width="0.7" points="651.4,102.2 651.2,100.5 652,99.5 654,98.5 653.9,100.7 653.1,101.9"/>
<polygon fill="#dde228" stroke="#3f566e" stroke-opacity="0.6" stroke-width="0.7" points="650.8,98.4 651.5,97.1 652.7,97 654.2,97.8 653.4,99.4 651.8,99.6"/>
<polygon fill="#dde228" stroke="#3f566e" stroke-opacity="0.6" stroke-width="0.7" points="656.6,93.6 655.7,94 654.9,93.8 654.6,92.9 655.4,92.5 656.2,92.7"/>
<polygon fill="#dde228" stroke="#3f566e" stroke-opacity="0.6" stroke-width="0.7" points="663.3,91.7 661.6,90.9 661.1,89.9 661.1,88.4 662.6,89 663.1,89.9"/>
<polygon fill="#dde228" stroke="#3f566e" stroke-opacity="0.6" stroke-width="0.7" points="666.5,96.3 665.7,94.9 665.6,93.6 666.9,93.1 667.7,94.1 667.7,95.2"/>
<polygon fill="#dde228" stroke="#3f566e" stroke-opacity="0.6" stroke-width="0.7" points="670.8,98.2 670.2,97.3 670.1,96.6 670.7,95.9 671.4,96.6 671.3,97.3"/>
<polygon fill="#dde228" stroke="#3f566e" stroke-opacity="0.6" stroke-width="0.7" points="669.7,102.4 669.5,101.4 670.1,100.8 671.3,100.2 671.3,101.6 670.8,102.3"/>
<polygon fill="#dde228" stroke="#3f566e" stroke-opacity="0.6" stroke-width="0.7" points="667.2,102.3 665.8,101.5 665.7,100.4 665.9,98.8 667.2,99.9 667.7,100.8"/>
<polygon fill="#dde228" stroke="#3f566e" stroke-opacity="0.6" stroke-width="0.7" points="669.6,98 667.6,98 666.4,96.9 666.2,94.8 668.2,95.1 669.2,96"/>
<polygon fill="#dde228" stroke="#3f566e" stroke-opacity="0.6" stroke-width="0.7" points="666.8,94.3 666.5,92.9 667.4,92 668.7,92.3 669,93.5 668.2,94.6"/>
<polygon fill="#dde228" stroke="#3f566e" stroke-opacity="0.6" stroke-width="0.7" points="673.6,94.4 673.7,93 674.2,92.3 675.6,91.6 675.5,93.2 674.9,93.8"/>
<polygon fill="#dde228" stroke="#3f566e" stroke-opacity="0.6" stroke-width="0.7" points="676.1,95.2 676.2,93.4 677,92.3 678.8,92.1 679.1,94 678,95.2"/>
<polygon fill="#dde228" stroke="#3f566e" stroke-opacity="0.6" stroke-width="0.7" points="682.4,95.1 681.2,95.7 680.1,95.4 679.4,94.1 680.8,93.3 681.9,93.8"/>
<polygon fill="#dde228" stroke="#3f566e" stroke-opacity="0.6" stroke-width="0.7" points="684.4,96.3 683.9,95.3 684.3,94.5 685.2,93.9 685.7,94.9 685.3,95.7"/>
<polygon fill="#dde228" stroke="#3f566e" stroke-opacity="0.6" stroke-width="0.7" points="684.8,96.8 685.6,94.3 686.8,93.3 689.1,93.1 688.4,95.2 687.4,96.3"/>
<polygon fill="#dde228" stroke="#3f566e" stroke-opacity="0.6" stroke-width="0.7" points="687.9,98.3 687.9,96.4 688.7,95.3 690.8,94.6 690.5,96.7 689.8,97.9"/>
<polygon fill="#dde228" stroke="#3f566e" stroke-opacity="0.6" stroke-width="0.7" points="691.6,103.1 691.6,101.5 692.8,100.9 694.4,100.8 694,102.3 693.2,103.3"/>
<polygon fill="#dde228" stroke="#3f566e" stroke-opacity="0.6" stroke-width="0.7" points="689.3,109.6 688.8,108.5 689,107.7 689.9,106.9 690.3,108 690.1,108.8"/>
<polygon fill="#dde228" stroke="#3f566e" stroke-opacity="0.6" stroke-width="0.7" points="686,110.7 684.4,109.8 684.1,108.4 684.7,106.7 686.1,107.8 686.6,108.9"/>
<polygon fill="#dde228" stroke="#3f566e" stroke-opacity="0.6" stroke-width="0.7" points="682.9,111.6 682.8,110.4 683.2,109.4 684.7,109 684.8,110.6 684.1,111.3"/>
<polygon fill="#dde228" stroke="#3f566e" stroke-opacity="0.6" stroke-width="0.7" points="684.2,111.9 682.6,112.1 681.8,111.7 680.9,110.5 682.4,110.4 683.3,110.6"/>
<polygon fill="#dde228" stroke="#3f566e" stroke-opacity="0.6" stroke-width="0.7" points="679.1,110 679.5,108.2 680.7,107.7 682.8,107.5 681.9,109.5 680.8,110.5"/>
<polygon fill="#dde228" stroke="#3f566e" stroke-opacity="0.6" stroke-width="0.7" points="683.3,111.7 682.4,111.5 682.3,110.6 682.9,109.8 683.7,110.2 683.9,111.1"/>
<polygon fill="#dde228" stroke="#3f566e" stroke-opacity="0.6" stroke-width="0.7" points="687.6,113.5 685.8,111.7 685,110.7 685.1,108 687.2,109.7 687.5,110.9"/>
<polygon fill="#440154" stroke="#3f566e" stroke-opacity="0.6" stroke-width="0.7" points="739,344.5 738.1,344.9 737.6,344.8 736.9,344.4 737.7,344.1 738.2,344"/>
<polygon fill="#440154" stroke="#3f566e" stroke-opacity="0.6" stroke-width="0.7" points="733.9,345.6 734,344.3 734.9,343.5 736.2,343.9 736.2,345.2 735.2,345.9"/>
<polygon fill="#440154" stroke="#3f566e" stroke-opacity="0.6" stroke-width="0.7" points="732.2,348.5 731.4,347.2 731.6,346.1 732.5,345 733.2,346.3 733.1,347.2"/>
<polygon fill="#440154" stroke="#3f566e" stroke-opacity="0.6" stroke-width="0.7" points="731.2,348.5 730.1,348.7 729.3,348.4 729.1,347.4 730,347 730.7,347.5"/>
<polygon fill="#440154" stroke="#3f566e" stroke-opacity="0.6" stroke-width="0.7" points="729.6,352.7 728.4,351.7 727.8,350.9 728.3,349.5 729.4,350.3 730,351.2"/>
<polygon fill="#440154" stroke="#3f566e" stroke-opacity="0.6" stroke-width="0.7" points="725.9,353.6 726.5,352.8 727.3,353 728.2,353.4 727.4,354.1 726.7,354.1"/>
<polygon fill="#440154" stroke="#3f566e" stroke-opacity="0.6" stroke-width="0.7" points="723.2,355.8 722.6,354.7 722.7,354 723.5,352.8 724.2,354 724,354.8"/>
<polygon fill="#440154" stroke="#3f566e" stroke-opacity="0.6" stroke-width="0.7" points="721.8,357.7 720.5,357.4 719.9,356.7 720,355.6 721,355.8 721.6,356.4"/>
<polygon fill="#440154" stroke="#3f566e" stroke-opacity="0.6" stroke-width="0.7" points="721.4,359 719.6,359.6 718.7,359.4 717.5,358.5 718.9,357.9 719.8,358"/>
<polygon fill="#440154" stroke="#3f566e" stroke-opacity="0.6" stroke-width="0.7" points="715.1,362.4 715.8,360.7 716.6,360.1 718.4,359.8 717.6,361.5 716.8,362.1"/>
<polygon fill="#440154" stroke="#3f566e" stroke-opacity="0.6" stroke-width="0.7" points="714.7,363.3 714.6,362.6 715.1,361.9 716,362.1 716.1,363 715.4,363.5"/>
<polygon fill="#440154" stroke="#3f566e" stroke-opacity="0.6" stroke-width="0.7" points="714,366.2 713,366.1 712.4,365.5 712.4,364.4 713.5,364.4 713.9,365.2"/>
<polygon fill="#440154" stroke="#3f566e" stroke-opacity="0.6" stroke-width="0.7" points="708.4,366.8 708.8,366 709.3,365.7 710.1,365.7 709.9,366.4 709.4,366.8"/>
<polygon fill="#440154" stroke="#3f566e" stroke-opacity="0.6" stroke-width="0.7" points="707.8,369.2 706.7,369.5 706.1,369.3 705.5,368.5 706.4,368 707.1,368.4"/>
<polygon fill="#440154" stroke="#3f566e" stroke-opacity="0.6" stroke-width="0.7" points="703.9,369.9 702.9,370.4 701.9,370.1 701.9,369 702.7,368.5 703.8,368.7"/>
<polygon fill="#440154" stroke="#3f566e" stroke-opacity="0.6" stroke-width="0.7" points="702.5,373.1 701,373.5 699.9,373.4 699.2,372.2 700.4,371.5 701.5,371.8"/>
<polygon fill="#440154" stroke="#3f566e" stroke-opacity="0.6" stroke-width="0.7" points="697.3,371.6 697.2,370.6 698.1,370.3 699.1,370.5 699,371.5 698.2,371.9"/>
<polygon fill="#440154" stroke="#3f566e" stroke-opacity="0.6" stroke-width="0.7" points="695.1,374 694.9,373.1 695.2,372.4 696.1,372.3 696.4,373.1 696,373.8"/>
<polygon fill="#440154" stroke="#3f566e" stroke-opacity="0.6" stroke-width="0.7" points="692.3,375.7 691.4,375 691.7,373.9 692.9,373.1 693.5,374.3 693.3,375.3"/>
<polygon fill="#440154" stroke="#3f566e" stroke-opacity="0.6" stroke-width="0.7" points="689.8,376.1 688.6,375.6 688,374.9 688.1,373.6 689.4,373.9 689.9,374.7"/>
<polygon fill="#440154" stroke="#3f566e" stroke-opacity="0.6" stroke-width="0.7" points="686.6,374 685.8,373.3 685.8,372.7 686,371.6 686.8,372.3 687,373"/>
<polygon fill="#440154" stroke="#3f566e" stroke-opacity="0.6" stroke-width="0.7" points="681.7,375.3 682.7,373.5 683.5,373.1 685.2,372.8 684.7,374.5 683.7,374.9"/>
<polygon fill="#440154" stroke="#3f566e" stroke-opacity="0.6" stroke-width="0.7" points="680.3,377.3 680.1,376.4 680.3,375.8 681.1,375 681.4,376.1 681.1,376.7"/>
<polygon fill="#440154" stroke="#3f566e" stroke-opacity="0.6" stroke-width="0.7" points="679,376.8 677.3,376.6 676.5,375.8 676.2,374.4 677.7,374.5 678.4,375.2"/>
<polygon fill="#440154" stroke="#3f566e" stroke-opacity="0.6" stroke-width="0.7" points="676.4,374.8 675.2,374.1 674.9,373.3 675.2,372.1 676.4,372.4 676.7,373.4"/>
<polygon fill="#440154" stroke="#3f566e" stroke-opacity="0.6" stroke-width="0.7" points="675,375 673.5,375.2 672.8,374.6 672.2,373.5 673.5,373 674.5,373.6"/>
<polygon fill="#440154" stroke="#3f566e" stroke-opacity="0.6" stroke-width="0.7" points="669.4,373.1 669.6,372.1 670.2,371.7 671.2,371.6 670.9,372.6 670.4,372.9"/>
<polygon fill="#440154" stroke="#3f566e" stroke-opacity="0.6" stroke-width="0.7" points="670,370.5 669.2,370.9 668.6,370.8 668,370.2 668.8,369.9 669.4,369.9"/>
<polygon fill="#440154" stroke="#3f566e" stroke-opacity="0.6" stroke-width="0.7" points="668.3,370.4 666.5,370.2 665.7,369.2 665.6,367.6 667.2,367.8 667.9,368.7"/>
<polygon fill="#440154" stroke="#3f566e" stroke-opacity="0.6" stroke-width="0.7" points="663.2,368.6 662.7,369.2 661.9,369.1 661.4,368.4 662.2,368 662.8,367.9"/>
<polygon fill="#440154" stroke="#3f566e" stroke-opacity="0.6" stroke-width="0.7" points="662,366.1 661,367.1 659.7,366.8 659.3,365.6 660.1,364.7 661.4,364.9"/>
<polygon fill="#440154" stroke="#3f566e" stroke-opacity="0.6" stroke-width="0.7" points="660.2,364 659.5,364.3 658.9,364 658.4,363.2 659.3,363.1 659.9,363.2"/>
<polygon fill="#440154" stroke="#3f566e" stroke-opacity="0.6" stroke-width="0.7" points="660.5,363.3 658.2,362.8 657.5,361.9 656.6,360.1 658.6,360.6 659.6,361.1"/>
<polygon fill="#440154" stroke="#3f566e" stroke-opacity="0.6" stroke-width="0.7" points="655.6,361.7 654.4,361.1 654.2,360.3 654.2,359.1 655.2,359.8 655.7,360.4"/>
<polygon fill="#440154" stroke="#3f566e" stroke-opacity="0.6" stroke-width="0.7" points="655.1,357.4 653.8,357.3 653,356.6 653.1,355.2 654.4,355.4 655.2,356.1"/>
<polygon fill="#440154" stroke="#3f566e" stroke-opacity="0.6" stroke-width="0.7" points="650.7,354.7 651.1,354.2 651.6,354.2 652,354.6 651.7,355.1 651.2,355.2"/>
<polygon fill="#440154" stroke="#3f566e" stroke-opacity="0.6" stroke-width="0.7" points="650.1,352.2 651.6,351.2 652.8,351 654.2,352.1 652.8,353.2 651.6,353.1"/>
<polygon fill="#440154" stroke="#3f566e" stroke-opacity="0.6" stroke-width="0.7" points="649.8,374.2 648.7,374.8 647.9,374.5 647.3,373.7 648.4,373.1 649.2,373.4"/>
<polygon fill="#440154" stroke="#3f566e" stroke-opacity="0.6" stroke-width="0.7" points="654.6,357.4 653,358.2 651.9,357.8 651,356.7 652.5,355.9 653.6,356.2"/>
<polygon fill="#440154" stroke="#3f566e" stroke-opacity="0.6" stroke-width="0.7" points="663.9,376.4 663,376.9 662.2,376.7 661.6,375.9 662.6,375.4 663.4,375.6"/>
<polygon fill="#440154" stroke="#3f566e" stroke-opacity="0.6" stroke-width="0.7" points="655.8,373.5 654.4,374.3 653.3,373.9 652.4,372.9 653.9,372.1 654.9,372.4"/>
<polygon fill="#440154" stroke="#3f566e" stroke-opacity="0.6" stroke-width="0.7" points="655.7,358.9 654.8,359.3 654.2,359.1 653.7,358.5 654.5,358 655.2,358.2"/>
<polygon fill="#440154" stroke="#3f566e" stroke-opacity="0.6" stroke-width="0.7" points="669.9,367.6 668.9,368.2 668.1,367.9 667.5,367.2 668.5,366.6 669.3,366.9"/>
<polygon fill="#440154" stroke="#3f566e" stroke-opacity="0.6" stroke-width="0.7" points="656.7,370.2 655.2,370.9 654.2,370.6 653.3,369.5 654.8,368.8 655.8,369.1"/>
<polygon fill="#440154" stroke="#3f566e" stroke-opacity="0.6" stroke-width="0.7" points="676.7,369.5 675.8,370 675.1,369.7 674.5,369 675.4,368.5 676.1,368.7"/>
<polygon fill="#440154" stroke="#3f566e" stroke-opacity="0.6" stroke-width="0.7" points="651.6,372.6 650.4,373.3 649.6,373 648.9,372.1 650,371.5 650.9,371.8"/>
<polygon fill="#440154" stroke="#3f566e" stroke-opacity="0.6" stroke-width="0.7" points="678.1,375.4 676.8,376.1 675.9,375.8 675.2,374.9 676.4,374.2 677.3,374.5"/>
<polygon fill="#440154" stroke="#3f566e" stroke-opacity="0.6" stroke-width="0.7" points="650,376.4 648.7,377 647.8,376.7 647.1,375.8 648.3,375.2 649.2,375.5"/>
<polygon fill="#440154" stroke="#3f566e" stroke-opacity="0.6" stroke-width="0.7" points="655.6,374.7 654.5,375.3 653.7,375 653,374.2 654.1,373.6 655,373.9"/>
<polygon fill="#440154" stroke="#3f566e" stroke-opacity="0.6" stroke-width="0.7" points="655.1,365.1 653.8,365.8 652.8,365.5 652,364.5 653.3,363.8 654.3,364.1"/>
<polygon fill="#440154" stroke="#3f566e" stroke-opacity="0.6" stroke-width="0.7" points="649.6,368.2 648.4,368.8 647.5,368.5 646.8,367.6 648,367 648.8,367.3"/>
<polygon fill="#440154" stroke="#3f566e" stroke-opacity="0.6" stroke-width="0.7" points="674.1,374.5 672.6,375.3 671.4,375 670.5,373.8 672,373 673.2,373.3"/>
<polygon fill="#440154" stroke="#3f566e" stroke-opacity="0.6" stroke-width="0.7" points="660.2,372.2 659.1,372.8 658.3,372.5 657.6,371.7 658.7,371.1 659.5,371.3"/>
<polygon fill="#440154" stroke="#3f566e" stroke-opacity="0.6" stroke-width="0.7" points="679.1,377.3 677.9,378 677,377.7 676.2,376.8 677.5,376.1 678.4,376.4"/>
<polygon fill="#440154" stroke="#3f566e" stroke-opacity="0.6" stroke-width="0.7" points="666.9,368.4 665.7,369.1 664.7,368.8 664,367.9 665.2,367.2 666.2,367.5"/>
<polygon fill="#440154" stroke="#3f566e" stroke-opacity="0.6" stroke-width="0.7" points="649.9,377.5 648.9,378.1 648.1,377.8 647.5,377.1 648.5,376.6 649.3,376.8"/>
<polygon fill="#21a385" stroke="#3f566e" stroke-opacity="0.6" stroke-width="0.7" points="631.2,374.2 630.5,374.9 629.7,374.9 629,374.2 629.7,373.6 630.5,373.6"/>
<polygon fill="#21a385" stroke="#3f566e" stroke-opacity="0.6" stroke-width="0.7" points="630.8,395.8 630.1,396.4 629.5,396.4 628.8,395.8 629.5,395.2 630.1,395.2"/>
<polygon fill="#21a385" stroke="#3f566e" stroke-opacity="0.6" stroke-width="0.7" points="633.2,391.8 632.6,392.3 632,392.3 631.4,391.8 632,391.2 632.6,391.2"/>
<polygon fill="#21a385" stroke="#3f566e" stroke-opacity="0.6" stroke-width="0.7" points="636.9,388.4 636,389.2 635.1,389.2 634.2,388.4 635.1,387.6 636,387.6"/>
<polygon fill="#21a385" stroke="#3f566e" stroke-opacity="0.6" stroke-width="0.7" points="633.5,391.9 632.4,392.9 631.3,392.9 630.2,391.9 631.3,390.9 632.4,390.9"/>
<polygon fill="#21a385" stroke="#3f566e" stroke-opacity="0.6" stroke-width="0.7" points="632.4,392.4 631.7,393 631,393 630.4,392.4 631,391.8 631.7,391.8"/>
<polygon fill="#21a385" stroke="#3f566e" stroke-opacity="0.6" stroke-width="0.7" points="637.8,384.8 637,385.4 636.3,385.4 635.5,384.8 636.3,384.1 637,384.1"/>
<polygon fill="#21a385" stroke="#3f566e" stroke-opacity="0.6" stroke-width="0.7" points="631.6,372.1 630.9,372.7 630.2,372.7 629.5,372.1 630.2,371.6 630.9,371.6"/>
<polygon fill="#21a385" stroke="#3f566e" stroke-opacity="0.6" stroke-width="0.7" points="638,388.1 637.3,388.7 636.6,388.7 635.9,388.1 636.6,387.5 637.3,387.5"/>
<polygon fill="#21a385" stroke="#3f566e" stroke-opacity="0.6" stroke-width="0.7" points="637.8,387.5 637.1,388.1 636.4,388.1 635.7,387.5 636.4,386.9 637.1,386.9"/>
<polygon fill="#21a385" stroke="#3f566e" stroke-opacity="0.6" stroke-width="0.7" points="635,396.1 634.1,396.8 633.3,396.8 632.5,396.1 633.3,395.4 634.1,395.4"/>
<polygon fill="#21a385" stroke="#3f566e" stroke-opacity="0.6" stroke-width="0.7" points="638.4,382.3 637.5,383.1 636.6,383.1 635.7,382.3 636.6,381.5 637.5,381.5"/>
<polygon fill="#21a385" stroke="#3f566e" stroke-opacity="0.6" stroke-width="0.7" points="638.7,381.5 637.7,382.4 636.6,382.4 635.5,381.5 636.6,380.5 637.7,380.5"/>
<polygon fill="#21a385" stroke="#3f566e" stroke-opacity="0.6" stroke-width="0.7" points="634.3,379.5 633.5,380.2 632.7,380.2 631.9,379.5 632.7,378.8 633.5,378.8"/>
<polygon fill="#dde228" points="540,403.8 539.5,397.5 540,390 543.8,386.2 547,382.5 548,375 549.5,367.5 547.5,361.2 550,355 549.5,350 546.2,343.8 545.5,337.5 544.5,330 543,322.5 542,315 541.2,307.5 542,300 543.8,292.5 547.5,287.5 553.8,285 560.5,282.5 561.2,275 558,270 560,262.5 562.5,255 563,247.5 563.8,240 565.5,233 570,230 572.5,222.5 576.2,215 577.5,207.5 580,202.5 580.5,195 581.2,188.8 583.8,185 588.8,182.5 591.2,176.2 593.8,171.2 600,170.5 606.2,168.8 610,165 611.2,158.8 614.5,155.5 616.2,157 620,158.8 625,161.2 630,163.8 635,165 640,167.5 642.5,171.2 643.8,177.5 645,183.8 647.5,190 650,196.2 652.5,202.5 653,208.8 655,215 658.8,221.2 661.2,227.5 661.2,227.5 656.2,228.8 650,230 645,233.8 641.2,238.8 638.8,245 637.5,252.5 638.8,260 640,267.5 638.8,275 636.2,282.5 631.2,288.8 626.2,295 622.5,301.2 617.5,307.5 612.5,313.8 608.8,320 605.5,327.5 604.5,336.2 605,345 605.5,352.5 606.2,360 607.5,365 608.8,365 606.2,370 602.5,375 597.5,377 592.5,378 587.5,379.5 582.5,383 577.5,382 573,383 572.5,390 572.5,400 573,407.5 568.8,407.5 563.8,410 560,415 556.2,413.8 553.8,410 550,407.5 545,405.5 540,403.8"/>
<polygon fill="#21a385" points="608.8,365 613.8,365 618.8,367.5 623.8,371.2 628.8,376.2 631.2,382.5 632,388.8 628.8,395 625,401.2 621.2,406.2 616.2,410 611.2,413.8 607,418.8 606.2,425 605,430 600,431.2 596.2,436.2 591.2,437.5 586.2,438.8 583.8,433.8 581.2,428.8 577.5,426.2 576.2,420 578.8,413.8 575,410 573,407.5 572.5,400 572.5,390 573,383 577.5,382 582.5,383 587.5,379.5 592.5,378 597.5,377 602.5,375 606.2,370 608.8,365"/>
<polygon fill="#5ec962" points="530,407 531.2,408.8 533.8,415 535,422.5 537.5,430 540,437.5 543.8,445 547.5,452.5 551.2,460 554.5,467.5 556.2,475 557.5,482.5 558.8,490 559.5,497.5 565,498.8 571.2,497.5 576.2,496.2 577.5,490 580,485 585,481.2 591.2,479.5 597.5,478.8 601.2,476.2 602.5,470 603.8,462.5 605,455 606.2,447.5 607,440 607.5,432.5 607,425 607,418.8 606.2,425 605,430 600,431.2 596.2,436.2 591.2,437.5 586.2,438.8 583.8,433.8 581.2,428.8 577.5,426.2 576.2,420 578.8,413.8 575,410 573,407.5 568.8,407.5 563.8,410 560,415 556.2,413.8 553.8,410 550,407.5 545,405.5 540,403.8 536.2,407.5 530,407"/>
<polygon fill="#5ec962" stroke="#3f566e" stroke-opacity="0.6" stroke-width="0.7" points="604.5,473.8 607,465 609,456.2 611.2,447.5 613,447 611.2,457 609,466.2 606.2,475"/>
<polygon fill="#5ec962" stroke="#3f566e" stroke-opacity="0.6" stroke-width="0.7" points="626.2,453.8 625.5,446.2 626.2,440 628.8,435 633,430 637.5,427.5 638.8,430 636.2,436.2 634.5,442.5 632,448.8 629.5,453.8 627.5,455.5"/>
<polygon fill="#dde228" points="492.5,466.2 493.8,460 498.8,456.2 505,452.5 510,450 515,446.2 520,443.8 524.5,443 525,448.8 523.8,455 522.5,462.5 524.5,468.8 528.8,471.2 530,476.2 526.2,478.8 523,482.5 523.8,487.5 522.5,492.5 518.8,495 516.2,498.8 513.8,502.5 512.5,507.5 513.8,513.2 505,512.5 497.5,511.2 495.5,505 494.5,497.5 493.8,490 492.5,482.5 492,475"/>
<polygon fill="#dde228" stroke="#3f566e" stroke-opacity="0.6" stroke-width="0.7" points="516.2,497.5 520,493.8 525,495 528.8,498.8 530,503.8 527.5,507.5 523,507 518.8,503.8"/>
<polygon fill="#dde228" stroke="#3f566e" stroke-opacity="0.6" stroke-width="0.7" points="533.8,490 537.5,487.5 542.5,485 547,482.5 551.2,481.2 553.8,486.2 554.5,492.5 552.5,498.8 549.5,502.5 547.5,507.5 543.8,506.2 540,505 536.2,503.8 534.5,498.8 533,493.8"/>
<polygon fill="#dde228" stroke="#3f566e" stroke-opacity="0.6" stroke-width="0.7" points="532.5,511.2 537.5,510 542.5,510.5 547,511.2 545.5,515 540,516.2 534.5,515"/>
<polygon fill="#dde228" stroke="#3f566e" stroke-opacity="0.6" stroke-width="0.7" points="583.8,501.2 587.5,500 590.5,502.5 590,505.5 586.2,506.5 583.2,504.5"/>
<polygon fill="#440154" points="498.5,511 507.1,511.6 516.1,512.4 518.1,516 522.1,520 526.1,523 531.1,525 533.1,529 531.1,533 530.1,537 528.1,541 525.1,544 522.1,547 526.1,548 530.1,550 534.1,552.4 538.1,555.1 539.1,556.1 536.1,559.1 533.1,562.1 531.1,566.1 532.1,570.1 533.1,574.1 532.1,578.1 530.1,581.1 528.1,584.1 527.1,588.1 525.1,592.1 522.1,595.1 519.1,597.7 515.1,597.1 511.1,596.1 509.1,593.1 508.5,588.5 507.1,584.1 504.1,579.1 501.1,575.1 498.1,572.1 495.1,573.1 493.1,577.1 491.1,580.1 488.1,581.1 485.1,578.1 481.1,576.1 477.1,575.1 473.1,576.1 468.8,576.8 470.5,574.6 472.2,572 472.6,568.6 471.3,565.3 473.5,563 474.8,559.2 475.5,554.9 475.2,550.6 474.4,546.7 479.1,541 484.1,540 489.1,539 492.1,541 494.1,544 496.1,540 498.5,537 501.1,535 504.1,533 502.1,530 500.1,526 499.1,522 498.1,517 498.5,511"/>
<polygon fill="#27858f" points="531.1,533 536.1,532 540.1,529 545.1,526 550.1,523.6 555.1,522 560.1,522 564.1,520 569.1,523 572.1,527 575.1,531 578.1,535 582.1,535.6 581.1,542 580.5,546 576.1,547 572.1,546 568.1,548 563.1,550 558.1,551 553.1,550 548.1,551 543.1,554.1 539.1,556.1 538.1,555.1 534.1,552.4 530.1,550 526.1,548 522.1,547 525.1,544 528.1,541 530.1,537 531.1,533"/>
<polygon fill="#27858f" stroke="#3f566e" stroke-opacity="0.6" stroke-width="0.7" points="563.1,517 567.1,516 570.1,519 569.1,523 565.7,524 563.1,521"/>
<polygon fill="#21a385" points="539.1,556.1 543.1,554.1 548.1,551 553.1,550 558.1,551 563.1,550 568.1,548 572.1,546 576.1,547 580.5,546 580.1,548 581.1,554.1 583.1,560.1 585.1,566.1 587.1,572.1 588.2,578.1 589.2,584.1 591.2,590.1 592.2,593.1 588.2,594.1 583.1,595.1 578.1,594.1 573.1,595.1 569.1,594.1 566.1,592.1 562.1,591.1 564.1,587.1 565.1,583.1 561.1,581.1 557.1,579.1 554.1,576.1 552.1,572.1 551.1,567.1 550.1,562.1 549.1,558.1 545.1,557.1 541.1,557.1 539.1,556.1"/>
<polygon fill="#440154" points="564.1,567.1 567.1,565.1 571.1,565.7 573.1,568.5 572.1,571.7 568.1,572.5 565.1,571.1"/>
<polygon fill="#5ec962" points="539.1,556.1 541.1,557.1 545.1,557.1 549.1,558.1 550.1,562.1 551.1,567.1 552.1,572.1 554.1,576.1 557.1,579.1 561.1,581.1 565.1,583.1 564.1,587.1 562.1,591.1 559.1,592.1 556.1,593.1 553.7,596.1 552.5,600.1 553.1,604.1 551.7,607.7 548.1,605.1 544.1,602.1 540.1,599.7 536.1,598.1 532.1,596.1 528.1,594.1 524.1,595.1 521.1,596.1 519.1,597.7 522.1,595.1 525.1,592.1 527.1,588.1 528.1,584.1 530.1,581.1 532.1,578.1 533.1,574.1 532.1,570.1 531.1,566.1 533.1,562.1 536.1,559.1 539.1,556.1"/>
<polygon fill="#21a385" points="562.1,591.1 566.1,592.1 569.1,594.1 573.1,595.1 578.1,594.1 583.1,595.1 588.2,594.1 592.2,593.1 593.2,594.1 594.6,598.1 595.2,605.7 590.2,608.1 585.1,610.1 580.1,612.1 575.1,614.5 570.1,617.1 565.1,619.7 560.1,622.1 556.1,624.5 554.1,623.7 554.1,620.1 555.1,616.1 558.1,613.1 557.1,610.1 554.1,609.1 551.7,607.7 553.1,604.1 552.5,600.1 553.7,596.1 556.1,593.1 559.1,592.1 562.1,591.1"/>
<polygon fill="#27858f" points="519.1,597.7 521.1,596.1 524.1,595.1 528.1,594.1 532.1,596.1 536.1,598.1 540.1,599.7 544.1,602.1 548.1,605.1 551.7,607.7 554.1,609.1 557.1,610.1 558.1,613.1 555.1,616.1 554.1,620.1 554.1,623.7 550.1,623.1 546.1,622.1 542.1,620.1 539.1,622.1 535.1,623.1 531.1,623.7 528.1,622.1 525.1,620.1 522.1,618.1 521.1,617.1 519.1,613.1 517.7,609.1 518.5,605.1 520.1,601.1 519.1,597.7"/>
<polygon fill="#27858f" points="468.8,576.8 473.1,576.1 477.1,575.1 481.1,576.1 485.1,578.1 488.1,581.1 491.1,580.1 493.1,577.1 495.1,573.1 498.1,572.1 501.1,575.1 504.1,579.1 507.1,584.1 508.5,588.5 506.1,592.1 503.1,596.1 499.1,599.1 496.1,602.1 492.1,605.1 489.1,608.1 486.1,610.1 483.1,609.1 481.1,612.1 480.1,613.1 476.1,615.1 472.1,617.1 468.1,619.1 464.1,621.1 460,622.1 458,623.1 459,618.1 458.4,613.1 457,608.1 454.2,611.5 455.5,611.1 456.1,608.1 456.3,604.6 456.8,601.2 458.5,598.6 459.2,595.2 458.5,591.8 457.2,587.5 458.9,586.2 461.1,584.9 463.6,584.5 466.2,583.6 468.8,582.3 469.6,579.8 468.8,576.8"/>
<polygon fill="#440154" points="458,623.1 460,622.1 464.1,621.1 468.1,619.1 472.1,617.1 476.1,615.1 480.1,613.1 481.1,612.1 483.1,609.1 486.1,610.1 489.1,608.1 492.1,605.1 496.1,602.1 499.1,599.1 503.1,596.1 506.1,592.1 508.5,588.5 509.1,593.1 511.1,596.1 515.1,597.1 519.1,597.7 520.1,601.1 518.5,605.1 517.7,609.1 519.1,613.1 521.1,617.1 522.1,618.1 525.1,620.1 528.1,622.1 531.1,623.7 535.1,623.1 539.1,622.1 542.1,620.1 546.1,622.1 550.1,623.1 554.1,623.7 556.1,624.5 554.1,627.1 557.1,632.1 560.1,637.1 564.1,642.1 568.1,647.1 572.1,652.1 576.1,657.1 579.1,661.1 581.1,664.1 577.1,668.1 573.1,672.1 569.7,677.1 567.7,682.2 566.5,687.2 568.1,691.2 563.1,690.2 558.1,688.2 553.1,689.2 548.1,691.2 543.1,692.2 538.1,693.2 533.1,694.2 528.1,695.2 523.1,696.2 521.1,698.2 518.1,695.2 514.1,693.2 509.1,692.2 504.1,691.2 499.1,690.2 494.1,689.2 489.1,690.2 484.1,691.2 479.1,690.2 477.7,684.2 478.5,678.2 480.1,672.1 482.1,666.1 484.1,660.1 486.5,654.5 482.1,653.1 477.1,651.1 472.1,650.1 467.1,648.1 463.1,645.1 460,641.7 459.6,637.1 458,632.1 457.4,627.7 458,623.1"/>
<polygon fill="#27858f" points="515.2,544.2 517.5,543.4 519.6,544.6 519.4,546.8 517.2,547.4 515.4,546.4"/>
<polygon fill="#21a385" points="474.4,546.7 471.3,545.9 467.1,545.9 462.8,546.3 458.5,547.2 454.2,548.4 450.8,550.6 448.6,554 446.9,557.5 446.9,558.7 448.6,560 451.6,560.5 455,560.2 457.6,560 460.2,560.5 461.1,562.2 462.8,563.9 465.3,565.2 468.8,565.6 471.3,565.3 473.5,563 474.8,559.2 475.5,554.9 475.2,550.6 474.4,546.7"/>
<polygon fill="#27858f" points="471.3,565.3 468.8,565.6 465.3,565.2 462.8,563.9 461.1,562.2 460.2,560.5 457.6,560 455,560.2 451.6,560.5 448.6,560 446.9,558.7 446.5,560.9 445.2,564.3 444.3,567.7 445.6,571.2 447.3,573.8 449,576.8 450.3,579.8 450.6,582.3 449.9,585.9 451.6,586.2 455,586.6 457.2,587.5 458.9,586.2 461.1,584.9 463.6,584.5 466.2,583.6 468.8,582.3 469.6,579.8 468.8,576.8 470.5,574.6 472.2,572 472.6,568.6 471.3,565.3"/>
<polygon fill="#27858f" points="446.9,558.7 443.9,560 441.3,563.5 438.8,567.7 436.2,572 433.6,576.3 430.2,579.8 426.7,583.2 423.3,585.8 420.7,587.5 418.2,589.2 416.4,591.8 415.6,594.2 419,596.5 423.3,597.8 428,596.1 428.9,593.1 428,590.9 428.5,589.2 431,587.5 434.5,586.6 437.9,586.2 441.3,585.8 444.8,585.8 448.2,586.2 449.9,585.9 450.6,582.3 450.3,579.8 449,576.8 447.3,573.8 445.6,571.2 444.3,567.7 445.2,564.3 446.5,560.9 446.9,558.7"/>
<polygon fill="#440154" points="428.9,593.1 428,590.9 428.5,589.2 431,587.5 434.5,586.6 437.9,586.2 441.3,585.8 444.8,585.8 448.2,586.2 449.9,585.9 451.6,586.2 455,586.6 457.2,587.5 458.5,591.8 459.2,595.2 458.5,598.6 456.8,601.2 456.3,604.6 456.1,608.1 455.5,611.1 454.2,611.5 452.5,610.6 451.2,607.2 451.6,603.8 450.8,601.2 448.2,598.6 445.6,596.9 443.5,595.2 441.3,593.9 437.9,593.5 434.5,593.5 431,593.1 428.9,593.1"/>
<polygon fill="#21a385" points="401.4,601.2 407,597.8 412.2,595.2 415.6,594.2 419,596.5 423.3,597.8 428,596.1 428.9,593.1 431,593.1 434.5,593.5 437.9,593.5 441.3,593.9 443.5,595.2 445.6,596.9 448.2,598.6 450.8,601.2 451.6,603.8 451.2,607.2 452.5,610.6 454.2,611.5 457,608.1 458.4,613.1 459,618.1 458,623.1 457.4,627.7 455,629.1 452.4,632.1 451.6,636.1 453,640.1 452.4,641.7 449,641.1 445,639.1 442,636.1 438,633 436.5,629 435,626 431,629.5 427,630 426.3,624.4 424.6,621.8 421.6,620.1 418.2,618.4 415.6,615.8 412.2,614.9 411.7,612.4 410.9,609.4 407.9,608.5 404.4,607.2 402.3,604.6 401.4,601.2"/>
<polygon fill="#21a385" points="457.4,627.7 458,632.1 459.6,637.1 460,641.7 456,642.5 452.4,641.7 453,640.1 451.6,636.1 452.4,632.1 455,629.1 457.4,627.7"/>
<polygon fill="#27858f" points="428.5,607.6 429.7,606.8 431.2,607.4 431.5,608.9 430.2,610 428.7,609.4"/>
<polygon fill="#5ec962" points="582.1,535.6 588,531 594,527 600,523 607.1,519 615.1,516 616.1,522 618.1,528 619.1,534 620.1,539 624.1,542 626.1,547.1 628.1,553.1 629.1,558.1 633.1,560.1 638.1,562.1 643.1,563.7 648.1,565.1 653.1,567.1 655.7,567.1 652.1,572.1 649.1,577.1 647.1,582.1 645.1,588.1 643.7,592.1 641.1,597.1 638.1,596.1 635.1,593.1 632.1,589.7 628.1,588.1 624.1,586.1 620.1,585.1 616.1,584.1 612.1,585.1 608.1,586.1 604.1,589.1 600,592.1 597,595.7 594.6,598.1 593.2,594.1 592.2,593.1 591.2,590.1 589.2,584.1 588.2,578.1 587.1,572.1 585.1,566.1 583.1,560.1 581.1,554.1 580.1,548 580.5,546 581.1,542 582.1,535.6"/>
<polygon fill="#27858f" points="594.6,598.1 597,595.7 600,592.1 604.1,589.1 608.1,586.1 612.1,585.1 616.1,584.1 620.1,585.1 624.1,586.1 628.1,588.1 632.1,589.7 635.1,593.1 638.1,596.1 641.1,597.1 643.7,592.1 646.1,594.1 650.1,595.7 651.1,602.1 651.1,608.1 649.1,614.1 647.1,619.1 645.7,621.7 644.1,621.1 640.1,618.1 636.1,617.1 632.1,618.1 628.1,617.1 625.1,620.1 622.1,622.1 619.1,618.1 616.1,614.1 612.1,612.1 608.1,610.1 604.1,608.1 600,606.1 595.2,605.7 594.6,598.1"/>
<polygon fill="#5ec962" points="615.1,516 620.1,512 626.1,509 632.1,507.6 638.1,508 642.1,510 646.1,513 650.1,515.6 654.1,516 658.1,514.4 660.1,513 670.1,512 680.1,511 690.1,509.6 701.1,508 700.7,513 700.1,519 699.1,525 696.1,528 692.1,531 689.1,534 684.1,536 679.1,538.4 673.1,541 667.1,543.1 662.1,545.1 659.7,548.1 659.1,554.1 658.1,560.1 657.1,565.1 655.7,567.1 653.1,567.1 648.1,565.1 643.1,563.7 638.1,562.1 633.1,560.1 629.1,558.1 628.1,553.1 626.1,547.1 624.1,542 620.1,539 619.1,534 618.1,528 616.1,522 615.1,516"/>
<polygon fill="#dde228" points="701.1,508 700.7,513 700.1,519 699.1,525 696.1,528 692.1,531 689.1,534 692.1,539 696.1,543.1 701.1,546.1 704.1,550.1 708.1,554.5 712.1,557.1 716.5,558.5 719.1,554.1 722.5,549.1 724.1,543.1 722.1,536 719.1,529 716.1,522 713.1,515.6 709.1,511.6 705.1,509.6 701.1,508"/>
<polygon fill="#5ec962" points="655.7,567.1 657.1,565.1 658.1,560.1 659.1,554.1 659.7,548.1 662.1,545.1 667.1,543.1 673.1,541 679.1,538.4 684.1,536 689.1,534 692.1,539 696.1,543.1 701.1,546.1 704.1,550.1 708.1,554.5 712.1,557.1 716.5,558.5 714.1,560.1 711.1,562.1 707.1,565.1 703.1,568.1 700.1,572.1 698.5,577.1 699.1,582.1 699.7,588.1 700.1,593.1 695.1,592.1 690.1,591.7 685.1,591.1 681.1,589.1 679.1,585.1 677.1,580.1 674.1,576.1 671.1,573.1 668.1,569.1 665.1,566.5 660.1,566.1 655.7,567.1"/>
<polygon fill="#dde228" points="655.7,567.1 660.1,566.1 665.1,566.5 668.1,569.1 671.1,573.1 674.1,576.1 677.1,580.1 679.1,585.1 681.1,589.1 685.1,591.1 690.1,591.7 695.1,592.1 700.1,593.1 701.7,598.1 700.1,603.1 697.1,607.1 694.1,610.1 690.1,612.1 686.1,614.1 682.5,614.5 680.1,611.1 677.1,608.1 673.1,605.1 670.1,601.7 666.1,599.7 662.1,598.1 658.1,597.1 654.1,596.1 650.1,595.7 650.1,595.7 646.1,594.1 643.7,592.1 645.1,588.1 647.1,582.1 649.1,577.1 652.1,572.1 655.7,567.1"/>
<polygon fill="#5ec962" points="650.1,595.7 654.1,596.1 658.1,597.1 662.1,598.1 666.1,599.7 670.1,601.7 673.1,605.1 677.1,608.1 680.1,611.1 682.5,614.5 686.1,614.1 690.1,612.1 694.1,610.1 695.1,616.1 697.1,622.1 699.1,628.1 700.1,633.1 700.1,633.1 698.1,634.1 692.1,635.1 686.1,637.1 680.1,640.1 677.1,637.1 674.1,634.1 670.1,633.1 667.1,636.1 663.1,638.1 660.1,635.1 658.1,634.1 654.1,630.1 651.1,627.1 648.1,624.1 645.7,621.7 645.7,621.7 647.1,619.1 649.1,614.1 651.1,608.1 651.1,602.1"/>
<polygon fill="#dde228" points="700.1,593.1 699.7,588.1 699.1,582.1 698.5,577.1 700.1,572.1 703.1,568.1 707.1,565.1 711.1,562.1 714.1,560.1 716.5,558.5 720.1,560.1 723.1,563.1 725.1,568.1 726.1,572.5 729.2,578.1 732.2,584.1 735.2,590.1 737.2,596.1 735.2,602.1 731.2,608.1 727.1,614.1 723.1,620.1 721.1,626.1 722.1,632.1 724.1,637.1 721.1,638.1 716.1,635.1 710.1,633.7 704.1,633.1 700.1,633.1 699.1,628.1 697.1,622.1 695.1,616.1 694.1,610.1 697.1,607.1 700.1,603.1 701.7,598.1 700.1,593.1"/>
<polygon fill="#27858f" points="595.2,605.7 600,606.1 604.1,608.1 608.1,610.1 612.1,612.1 616.1,614.1 619.1,618.1 622.1,622.1 625.1,620.1 628.1,617.1 632.1,618.1 636.1,617.1 640.1,618.1 644.1,621.1 645.7,621.7 648.1,624.1 651.1,627.1 654.1,630.1 658.1,634.1 655.1,638.1 652.1,642.1 649.1,646.1 646.1,650.1 642.1,653.1 638.1,655.1 632.5,657.1 628.1,656.1 623.1,657.1 618.1,657.7 613.1,656.1 608.1,657.1 603.1,655.7 599,656.1 596,659.1 593,662.1 590,664.1 581.1,664.1 579.1,661.1 576.1,657.1 572.1,652.1 568.1,647.1 564.1,642.1 560.1,637.1 557.1,632.1 554.1,627.1 556.1,624.5 560.1,622.1 565.1,619.7 570.1,617.1 575.1,614.5 580.1,612.1 585.1,610.1 590.2,608.1 595.2,605.7"/>
<polygon fill="#21a385" points="658.1,634.1 660.1,635.1 663.1,638.1 667.1,636.1 670.1,633.1 674.1,634.1 677.1,637.1 680.1,640.1 686.1,637.1 692.1,635.1 698.1,634.1 700.1,633.1 704.1,633.1 710.1,633.7 716.1,635.1 721.1,638.1 719.1,644.1 717.1,650.1 716.1,655.1 711.1,654.1 706.1,653.1 700.1,654.1 695.1,656.1 690.1,657.1 686.1,660.1 682.1,663.1 678.1,665.1 673.1,666.1 668.1,668.2 664.1,671.2 660.1,674.2 655.1,677.2 650.1,679.2 644.1,678.2 639.1,677.2 634.1,673.2 633.1,668.2 632.1,663.1 632.5,657.1 638.1,655.1 642.1,653.1 646.1,650.1 649.1,646.1 652.1,642.1 655.1,638.1 658.1,634.1"/>
<polygon fill="#5ec962" points="705.5,418 705.5,415 702.5,411.2 698.8,407.5 693.8,405 690,401.2 688.8,393.8 692.5,387.5 698.8,382.5 706.2,378.8 715,376.2 723.8,374.5 732.5,373 740,372 743.8,370 742.5,377.5 740,385 741.2,392.5 745,400 748.8,407.5 747.5,415 746.2,420 740,419.5 732.5,417.5 725,415 717.5,413 711.2,415 705.5,418"/>
<polygon fill="#5ec962" stroke="#3f566e" stroke-opacity="0.6" stroke-width="0.7" points="673.8,398.8 677.5,395.5 682,397 683,401.2 679.5,403.8 675,403"/>
<polygon fill="#5ec962" stroke="#3f566e" stroke-opacity="0.6" stroke-width="0.7" points="671.2,412.5 676.2,407.5 682.5,404.5 688.8,403.8 690,407 685,411.2 680,414.5 675,417 672,416.2"/>
<polygon fill="#dde228" points="705.5,418 711.2,415 717.5,413 725,415 732.5,417.5 740,419.5 746.2,420 750,421.2 753.8,426.2 755.5,432.5 758.8,437.5 762.5,442.5 764.5,448 762.5,453.8 758.8,457.5 755,460 750,465 745,462 738.8,459.5 731.2,457.5 725,456.2 720,453.8 715,457 707.5,457.5 700,458.8 692.5,459.5 685,460.5 678.8,462.5 673.8,466.2 670.8,470 668.8,462.5 667.5,455 669.5,447.5 672.5,440 677.5,433.8 683.8,428.8 688.8,432.5 693.8,437.5 698.8,441.2 703.8,438.8 707,433.8 708,427.5 706.2,421.2 705.5,418"/>
<polygon fill="#dde228" points="670.8,470 673.8,466.2 678.8,462.5 685,460.5 692.5,459.5 700,458.8 707.5,457.5 715,457 720,453.8 725,456.2 731.2,457.5 738.8,459.5 745,462 750,465 748.8,470 751.2,475 747.5,480 743.8,485 742.5,492.5 742,500 743,503.8 738.8,507.5 732.5,510 726.2,512.5 720,515 713.1,515.6 709.1,511.6 705.1,509.6 701.1,508 700,501.2 698.8,496.2 693.8,492.5 687.5,491.2 681.2,490 676.2,487.5 673.8,481.2 672,475 670.8,470"/>
<polygon fill="#27858f" points="403.1,601.6 398.1,602 393.1,604 389.1,607 387.1,611 386.7,616 386.1,621 383.1,625 378.1,628 373.1,630 368.1,632 363.1,634 358.1,636 353.1,637.4 348.1,637 343.1,635 339.1,632 338.1,627 334.1,625 329.1,625 328.1,629 329.1,634 330.1,639 330.7,644 326.1,645 321.1,646 316,648.1 311,648.7 306,645 302,643 297,642 292,643 287,643.4 282,644 277,646 279,650.1 282,653.1 280,657.1 281,661.1 285,663.1 290,665.1 295,667.1 300,670.1 305,673.1 309.4,676.7 312,679.1 310,683.1 312,687.1 315,692.1 317,696.1 320.1,701.1 323.1,705.1 325.5,710.7 324.1,715.1 326.1,720.1 328.1,725.1 327.1,731.1 325.1,737.1 323.1,743.1 321.1,749.1 319.1,755.1 317,761.1 315,767.1 313,773.2 311,778.2 307.1,780 311.4,783 316.4,787 322.7,791.3 328.9,794.5 335.2,797.6 341.4,799.6 347.7,801.3 353.9,803.8 360.2,806.3 366.4,809.6 372.7,811.3 378.9,812.6 385.2,811.3 391.5,809.6 392.7,805.1 394,798.8 397.5,795.6 400.1,793.2 405.1,790.2 411.1,788.2 414.1,788.8 416.1,789.2 421.1,792.2 427.1,795.2 433.1,798.2 439.1,800.8 445.2,802.2 450.2,801.2 455.2,797.2 461.2,793.2 467.2,789.2 472.2,785.2 476.2,783.2 470.2,777.2 465.2,771.1 463.2,765.1 461.2,759.1 460.8,754.1 463.2,747.1 464.2,741.1 463.2,735.1 465.2,730.1 462.2,725.1 459.2,722.1 455.2,721.1 452.2,723.1 452.2,719.1 454.2,715.1 456.2,713.1 457.2,711.1 460.2,707.1 463.2,703.1 466.2,699.1 469.2,696.1 473.2,694.1 477.2,692.1 479.1,690.2 477.7,684.2 478.5,678.2 480.1,672.1 482.1,666.1 484.1,660.1 486.5,654.5 482.1,653.1 477.1,651.1 472.1,650.1 467.1,648.1 463.1,645.1 460,641.7 456,642.5 452.4,641.7 449,641.1 445,639.1 442,636.1 438,633 436.5,629 435,626 431,629.5 427,630 426.3,624.4 424.6,621.8 421.6,620.1 418.2,618.4 415.6,615.8 412.2,614.9 411.7,612.4 410.9,609.4 407.9,608.5 404.4,607.2 402.3,604.6 401.4,601.2"/>
<polygon fill="#21a385" points="332.7,655.1 337.1,656.1 342.1,657.1 347.1,656.7 352.1,658.1 357.1,659.5 362.1,660.7 367.1,662.1 366.1,667.1 364.1,672.1 361.1,676.1 357.1,679.1 354.1,682.1 352.1,686.1 351.1,691.1 350.7,692.1 346.1,693.1 341.1,694.1 336.1,695.1 335.1,700.1 336.1,705.1 335.1,709.1 331.1,710.1 327.1,710.7 325.5,710.7 323.1,705.1 320.1,701.1 317,696.1 315,692.1 312,687.1 310,683.1 312,679.1 309.4,676.7 314,676.1 319.1,674.1 324.1,673.1 329.1,672.1 333.1,669.1 335.1,665.1 334.1,660.1 332.7,655.1"/>
<polygon fill="#21a385" points="350.7,692.1 353.1,693.1 356.1,695.1 360.1,698.1 363.1,702.1 365.1,707.1 368.1,712.1 372.1,713.1 377.1,713.1 382.1,712.7 387.1,713.1 388.1,719.1 389.1,724.1 388.1,729.1 386.1,734.1 384.1,739.1 382.1,744.1 380.1,749.1 375.1,749.1 371.1,747.1 368.1,750.1 365.1,754.1 362.1,758.1 359.1,762.1 355.1,765.1 351.1,767.1 346.1,768.1 341.1,768.7 336.1,770.1 335.1,775.2 336.1,780.2 335.1,785.2 333.1,790.2 331.1,795.2 330.7,796.2 341.4,799.6 335.2,797.6 328.9,794.5 322.7,791.3 316.4,787 311.4,783 307.1,780 311,778.2 313,773.2 315,767.1 317,761.1 319.1,755.1 321.1,749.1 323.1,743.1 325.1,737.1 327.1,731.1 328.1,725.1 326.1,720.1 324.1,715.1 325.5,710.7 327.1,710.7 331.1,710.1 335.1,709.1 336.1,705.1 335.1,700.1 336.1,695.1 341.1,694.1 346.1,693.1 350.7,692.1"/>
<polygon fill="#27858f" stroke="#3f566e" stroke-opacity="0.6" stroke-width="0.7" points="506.8,805.6 507.6,807.4 508,810.9 508.2,814.9 508.8,819 509.2,823.6 508.8,828.2 508,832.9 506.8,836.9 505.3,841 503.6,843.9 501.9,844.4 499.5,842.7 497.6,840.4 496.1,837.5 494.9,834 493.7,830.5 492.6,827.1 491.8,823.6 491.4,820.7 492.2,818.4 493.7,816.6 496.1,814.9 499,813.2 501.9,811.4 504.2,809.7 505.7,807.4"/>
<polygon fill="#dde228" points="173.8,788 173,795 172,802.6 170,810.1 167.5,817.6 165,825.1 161.3,832.6 157.5,840.1 152.5,847.6 148.8,855.1 145,860.1 147,865.1 151.3,868.9 153.8,875.1 152.5,882.6 151.3,890.1 148.8,897.6 146.3,902.6 145,905.1 151.3,906.4 157.5,905.1 163.8,906.4 170,907.6 175.5,908.1 175,905.1 176.3,900.1 178.8,895.1 182.5,891.4 187.1,888.9 184.5,883.9 185.5,877.6 188.8,872.6 191.3,866.4 188.8,860.1 185.5,855.1 186.3,849.6 191.3,847.6 195.1,845.1 198.8,841.3 201.3,836.3 202.6,830.1 203.8,825.1 205.1,818.8 208.8,815.1 212.6,811.3 216.3,807.6 215.1,802.6 212.6,797.6 207.6,796.3 201.3,795.5 195.1,793.8 190.1,792.5 186.3,790 183.8,786.3 178.8,787 173.8,788"/>
<polygon fill="#dde228" points="282.1,773 277.6,772.5 270.1,770 262.6,767.5 255.1,765 247.6,762.5 240.1,760 232.6,758 225.1,756.3 217.6,755 210.1,753.8 203.8,750 197.6,749.5 192.6,752.5 186.3,753.8 180,755 175,757.5 172.5,762.5 173.8,768.8 176.3,775 175.5,781.3 174.5,786.3 173.8,788 178.8,787 183.8,786.3 186.3,790 190.1,792.5 195.1,793.8 201.3,795.5 207.6,796.3 208.8,790 208.1,783.8 210.1,778.8 213.8,775 220.1,773 227.6,773.8 235.1,775 242.6,774.5 250.1,775 256.4,778.8 260.1,783.8 263.9,786.3 267.6,782.5 272.6,780 279.6,778 280.1,775 282.1,773"/>
<polygon fill="#dde228" points="282.1,773 285.1,774.5 292.6,776.3 300.1,778.8 307.1,780 311.4,783 316.4,787 322.7,791.3 328.9,794.5 335.2,797.6 341.4,799.6 347.7,801.3 348.2,803.8 347.2,810.1 345.2,816.3 342.7,822.6 340.2,828.8 337.7,835.1 335.2,840.1 331.4,843.8 327.7,848.8 323.9,853.8 318.9,857.6 313.9,861.3 310.6,865.1 306.4,860.1 301.4,857.6 298.1,852.6 300.1,847.6 298.9,842.6 295.1,838.8 292.6,833.8 295.1,830.1 298.1,826.3 300.1,821.3 298.9,816.3 296.4,811.3 291.4,810.1 285.1,808.8 280.1,806.3 278.9,801.3 280.1,796.3 283.9,795.5 288.9,795.5 290.1,792.5 286.4,791.3 282.6,790 280.1,783.8 279.6,778 280.1,775 282.1,773"/>
<polygon fill="#5ec962" points="347.7,801.3 353.9,803.8 360.2,806.3 366.4,809.6 372.7,811.3 378.9,812.6 385.2,811.3 391.5,809.6 394.7,813.8 394,817.6 389,821.3 382.7,825.1 375.2,828.8 367.7,831.3 360.2,833.8 352.7,836.3 346.4,840.1 342.7,845.1 345.2,849.6 340.2,852.6 335.2,855.1 330.2,858.8 325.2,863.9 322.2,870.1 320.2,876.4 321.4,882.6 323.9,888.9 327.7,895.1 325.2,898.9 320.2,902.6 315.1,905.1 310.1,910.1 306.4,915.1 305.1,910.1 303.9,903.9 305.1,897.6 303.9,893.9 301.4,887.6 298.9,881.4 298.1,876.4 301.4,871.4 306.4,867.6 310.6,865.1 313.9,861.3 318.9,857.6 323.9,853.8 327.7,848.8 331.4,843.8 335.2,840.1 337.7,835.1 340.2,828.8 342.7,822.6 345.2,816.3 347.2,810.1 348.2,803.8 347.7,801.3"/>
<polygon fill="#dde228" points="175.5,908.1 180,911.4 185,915.1 190.1,920.1 193.8,926.4 196.3,932.7 198.8,938.9 202.6,943.9 207.6,942.7 213.8,938.9 220.1,936.4 227.6,935.2 235.1,933.9 242.6,935.2 250.1,936.4 257.6,937.7 265.1,939.7 272.6,938.9 278.9,935.2 283.9,930.2 287.6,925.1 292.6,922.6 298.9,921.4 305.1,918.9 306.4,915.1 305.1,910.1 303.9,903.9 305.1,897.6 303.9,893.9 297.6,895.1 293.9,900.1 288.9,902.6 282.6,903.9 277.6,906.4 275.1,902.6 272.6,897.6 267.6,895.1 261.4,893.9 255.1,894.6 248.8,893.9 242.6,892.6 236.3,890.1 231.3,885.1 226.3,881.4 221.3,883.9 216.3,888.9 211.3,892.6 205.1,895.1 198.8,892.6 192.6,890.1 187.1,888.9 187.1,888.9 182.5,891.4 178.8,895.1 176.3,900.1 175,905.1 175.5,908.1"/>
<polygon fill="#dde228" points="279.6,778 272.6,780 267.6,782.5 263.9,786.3 260.1,783.8 256.4,778.8 250.1,775 242.6,774.5 235.1,775 227.6,773.8 220.1,773 213.8,775 210.1,778.8 208.1,783.8 208.8,790 207.6,796.3 207.6,796.3 212.6,797.6 215.1,802.6 216.3,807.6 212.6,811.3 208.8,815.1 205.1,818.8 203.8,825.1 202.6,830.1 201.3,836.3 198.8,841.3 195.1,845.1 191.3,847.6 186.3,849.6 185.5,855.1 188.8,860.1 191.3,866.4 188.8,872.6 185.5,877.6 184.5,883.9 187.1,888.9 192.6,890.1 198.8,892.6 205.1,895.1 211.3,892.6 216.3,888.9 221.3,883.9 226.3,881.4 231.3,885.1 236.3,890.1 242.6,892.6 248.8,893.9 255.1,894.6 261.4,893.9 267.6,895.1 272.6,897.6 275.1,902.6 277.6,906.4 282.6,903.9 288.9,902.6 293.9,900.1 297.6,895.1 303.9,893.9 301.4,887.6 298.9,881.4 298.1,876.4 301.4,871.4 306.4,867.6 310.6,865.1 306.4,860.1 301.4,857.6 298.1,852.6 300.1,847.6 298.9,842.6 295.1,838.8 292.6,833.8 295.1,830.1 298.1,826.3 300.1,821.3 298.9,816.3 296.4,811.3 291.4,810.1 285.1,808.8 280.1,806.3 278.9,801.3 280.1,796.3 283.9,795.5 288.9,795.5 290.1,792.5 286.4,791.3 282.6,790 280.1,783.8 279.6,778"/>
<polygon fill="#5ec962" points="242.6,845.6 247.6,841.3 252.6,836.3 257.6,831.3 262.6,827.6 266.4,828.1 267.6,833.8 268.9,840.1 270.1,846.3 271.4,852.6 267.6,853.8 262.6,852.6 260.1,856.3 256.4,857.1 255.1,853.8 251.3,850.1 247.1,847.6"/>
<polygon fill="#5ec962" stroke="#3f566e" stroke-opacity="0.6" stroke-width="0.7" points="371.4,881.4 376.4,877.6 382.7,874.6 389,873.9 391.5,877.6 390.2,882.6 386.4,887.6 382.2,891.4 378.9,888.9 375.7,884.6"/>
<polygon fill="#5ec962" stroke="#3f566e" stroke-opacity="0.6" stroke-width="0.7" points="399.7,873.9 404,872.1 409,873.9 410.2,877.6 406.5,878.9 401.5,877.6"/>
<polygon fill="#5ec962" stroke="#3f566e" stroke-opacity="0.6" stroke-width="0.7" points="348.2,895.1 351.4,892.1 355.2,891.4 356.4,894.6 353.2,898.1 349.7,898.9"/>
<polygon fill="#5ec962" stroke="#3f566e" stroke-opacity="0.6" stroke-width="0.7" points="350.2,901.4 353.9,901.4 353.2,903.1 350.7,903.1"/>
<polygon fill="#21a385" stroke="#3f566e" stroke-opacity="0.6" stroke-width="0.7" points="283.8,504.6 282.6,508.9 283.1,515.1 282.6,521.4 281.3,527.6 280.1,533.9 278.8,540.1 276.3,545.1 272.6,548.9 267.6,549.6 261.3,548.9 255.1,550.1 248.8,552.1 242.5,553.9 236.3,555.1 230,556.4 225,555.1 221.3,551.4 217.5,547.6 213.8,543.9 212.5,538.9 215,535.1 220,533.9 223.8,531.4 227.5,527.6 230,523.9 226.3,520.1 230,517.6 233.8,515.1 231.3,511.4 228.8,507.6 227.5,502.6 230,498.8 232.5,493.8 236.3,490.1 241.3,488.8 247.6,489.6 255.1,490.1 259.6,488.8 256.3,485.1 253.8,481.3 255.1,478.1 258.8,474.6 263.8,472.6 268.8,472.6 273.8,473.8 276.3,477.1 272.6,480.1 267.6,483.8 263.1,487.1 261.3,490.1 265.1,492.6 267.6,496.3 271.3,497.6 275.1,496.3 278.8,498.8 281.3,502.6"/>
<polygon fill="#21a385" points="479.1,690.2 477.2,692.1 473.2,694.1 469.2,696.1 466.2,699.1 463.2,703.1 460.2,707.1 457.2,711.1 456.2,713.1 454.2,715.1 452.2,719.1 452.2,723.1 455.2,721.1 459.2,722.1 462.2,725.1 465.2,730.1 470,733.8 475,732.6 480,731.3 483.8,727.6 486.3,722.5 490,723.8 493.8,728.8 497.5,730.1 501.3,726.3 505.5,722.5 508.8,725.5 512.6,723.8 516.3,722.5 519.6,718.8 520.6,712.5 522.1,708 521.3,703.8 522.6,701.3 521.1,698.2 518.1,695.2 514.1,693.2 509.1,692.2 504.1,691.2 499.1,690.2 494.1,689.2 489.1,690.2 484.1,691.2 479.1,690.2"/>
<polygon fill="#5ec962" points="521.1,698.2 523.1,696.2 528.1,695.2 533.1,694.2 538.1,693.2 543.1,692.2 548.1,691.2 553.1,689.2 558.1,688.2 563.1,690.2 568.1,691.2 566.5,687.2 567.7,682.2 569.7,677.1 573.1,672.1 577.1,668.1 581.1,664.1 590,664.1 593,662.1 596,659.1 599,656.1 603.1,655.7 608.1,657.1 613.1,656.1 618.1,657.7 623.1,657.1 628.1,656.1 632.5,657.1 632.1,663.1 633.1,668.2 634.1,673.2 633.3,679.2 630,681.7 626.7,683.7 628,685.8 626.7,690 625.3,694.2 624.7,698.3 623.7,702.5 625,705.8 625.8,709.7 620,711.7 615,713.3 610,715 605,715.8 600,716.7 595.8,718.3 591.7,717.5 586.7,716.3 582.5,717 579.2,718.3 578.3,719.2 573.3,716.7 568.3,714.2 564.2,713.3 560,710.8 557.5,707.5 555,705 550,705.8 545,706.7 540,706.3 535,705.8 530,706.7 526.7,707.5 523.3,706.7 522.1,708 521.3,703.8 522.6,701.3 521.1,698.2"/>
<polygon fill="#21a385" points="521.1,698.2 523.1,696.2 528.1,695.2 533.1,694.2 538.1,693.2 543.1,692.2 548.1,691.2 553.1,689.2 558.1,688.2 563.1,690.2 568.1,691.2 566.5,687.2 567.7,682.2 569.7,677.1 573.1,672.1 577.1,668.1 581.1,664.1 583.3,665 586.7,665.8 590,663.3 593.3,660.8 595.8,658.3 597.5,662.5 598.3,666.7 595.8,670 593.3,673.3 592.5,677.5 594.2,681.7 596.7,685 593.3,686.7 589.2,688.3 585,689.2 580.8,690 578.3,693.3 579.2,697.5 582.5,700 583.3,703.3 580,705 575,704.2 570,705.8 565.8,708.3 563.7,713 557.5,707.5 555,705 550,705.8 545,706.7 540,706.3 535,705.8 530,706.7 526.7,707.5 523.3,706.7 522.1,708 521.3,703.8 522.6,701.3 521.1,698.2"/>
<polygon fill="#440154" points="476.2,783.2 470.2,777.2 465.2,771.1 463.2,765.1 461.2,759.1 460.8,754.1 463.2,747.1 464.2,741.1 463.2,735.1 465.2,730.1 470,733.8 475,732.6 480,731.3 483.8,727.6 486.3,722.5 490,723.8 493.8,728.8 497.5,730.1 501.3,726.3 505.5,722.5 508.8,725.5 512.6,723.8 516.3,722.5 519.6,718.8 520.6,712.5 522.1,708 523.1,718.8 525.1,727.6 527.6,735.1 530.1,742.6 533.8,748.8 538.8,754.6 540.1,755.1 532.6,756.3 525.1,755.1 517.6,754.6 511.3,755.1 506.3,757.6 505.5,762.6 508.1,768.1 511.3,772.6 515.1,777.6 511.3,777.1 506.3,773.8 501.3,770.6 496.3,770.1 491.3,772.6 486.3,777.6 481.3,781.3 476.3,783.3"/>
<polygon fill="#27858f" points="508.1,768.1 505.5,762.6 506.3,757.6 511.3,755.1 517.6,754.6 525.1,755.1 532.6,756.3 540.1,755.1 538.8,754.6 533.8,748.8 530.1,742.6 527.6,735.1 525.1,727.6 523.1,718.8 522.1,708 523.3,706.7 526.7,707.5 530,706.7 535,705.8 540,706.3 545,706.7 550,705.8 555,705 557.5,707.5 560,710.8 564.2,713.3 568.3,714.2 573.3,716.7 578.3,719.2 577.5,723.3 579.2,726.7 578.3,730.8 580,734.2 581.7,737.5 582,740.5 576.7,739.7 571.7,741.7 566.7,745 561.7,748.3 558.7,752.5 557.1,756.3 559.6,762.6 561.3,768.8 562.6,775.1 565.1,782.6 561.3,783.1 556.3,780.6 551.3,778.1 545.1,776.3 538.8,777.1 532.6,773.8 526.3,772.1 520.1,770.1 513.8,769.6 508.1,768.1"/>
<polygon fill="#27858f" points="508.1,768.1 513.8,769.6 520.1,770.1 526.3,772.1 532.6,773.8 538.8,777.1 545.1,776.3 551.3,778.1 556.3,780.6 561.3,783.1 565.1,782.6 570.1,785.1 575.1,790.1 580.1,796.4 583.9,802.6 583.9,808.1 580.1,812.6 576.4,816.4 574.6,821.4 575.1,826.4 580.1,831.4 583.9,835.1 587.6,840.1 589.6,846.4 583.9,843.9 577.6,840.1 571.3,836.4 565.1,831.4 558.8,826.4 553.8,821.4 548.8,816.4 543.8,811.4 538.8,807.6 533.8,803.9 530.1,798.9 527.6,792.6 525.1,786.3 522.6,780.1 518.8,777.1 515.1,777.6 511.3,772.6 508.1,768.1"/>
<polygon fill="#440154" points="583.9,808.1 590.1,810.1 596.4,815.1 602.6,820.1 608.9,823.9 615.1,826.4 621.4,827.6 627.6,826.4 631.4,828.1 630.1,832.6 628.9,837.6 633.9,842.6 640.2,846.4 647.7,850.1 655.2,853.9 662.7,857.6 668.9,860.2 673.9,863.9 677.7,867.7 678.2,872.7 673.9,872.7 670.2,867.7 665.2,863.9 660.2,862.7 655.2,860.2 650.2,860.2 646.4,863.9 643.9,870.2 645.2,876.4 648.9,881.4 652.7,885.2 655.2,890.2 654.7,895.2 651.4,898.9 647.7,902.7 643.9,906.4 641.4,911.4 638.9,917.7 635.1,922.7 631.4,924.7 628.9,920.2 630.1,913.9 632.6,907.7 633.9,901.4 632.6,895.2 630.1,888.9 627.6,882.7 623.9,877.7 620.1,873.9 615.1,871.4 612.6,867.7 611.4,861.4 607.6,857.6 602.6,855.1 597.6,853.9 593.9,851.4 589.6,846.4 587.6,840.1 583.9,835.1 580.1,831.4 575.1,826.4 574.6,821.4 576.4,816.4 580.1,812.6 583.9,808.1"/>
<polygon fill="#27858f" stroke="#3f566e" stroke-opacity="0.6" stroke-width="0.7" points="502.4,848.5 505.3,847.9 508.2,848.5 510,851.4 511.1,854.9 512.3,858.3 513.4,861.8 514,865.3 513.8,868.8 512.3,871.7 511.7,875.1 511.9,878.6 511.5,882.7 511.1,886.7 510.5,890.8 509.4,894.3 507.6,897.1 504.8,898.9 501.9,900 499.5,901.2 497.2,902.9 494.9,905.3 492,905.6 489.1,904.7 487.4,902.9 486.2,900.6 486.8,897.1 487.4,893.1 488,889 488.3,885 487.6,881.5 487.4,878 487.1,874.6 486.2,871.1 485.1,867.6 483.9,864.1 483.3,860.7 483.9,857.2 484.8,853.7 485.6,851.4 487.4,852 486.8,854.9 488.5,856.6 491.4,856 494.3,854.9 497.2,853.1 499.5,850.8"/>
<polygon fill="#27858f" stroke="#3f566e" stroke-opacity="0.6" stroke-width="0.7" points="565.3,930.7 571.3,925.7 579.7,922.3 589.7,921.7 599.7,923 609.7,922.3 618,919.7 626.3,917.3 628,922.3 624.7,930.7 621.3,939 620.7,947.3 621.3,954 616.3,956.3 608,952.3 599.7,947.3 591.3,942.3 583,939 574.7,936.3 568,934"/>
<polygon fill="#21a385" points="578.3,719.2 579.2,718.3 582.5,717 586.7,716.3 591.7,717.5 595.8,718.3 600,716.7 605,715.8 610,715 615,713.3 620,711.7 625.8,709.7 626.7,713.3 625,715 622.5,718.3 620,721.7 617.5,725 615.8,729.2 613.3,732.5 611.7,735.8 610.8,739.2 608.3,740.8 605,740 601.7,740.8 598.3,740 595.8,738.3 593.3,740 590.8,740.8 586.7,741.7 583.3,742 582,740.5 581.7,737.5 580,734.2 578.3,730.8 579.2,726.7 577.5,723.3 578.3,719.2"/>
<polygon fill="#5ec962" points="583.3,742 581.7,745 580.8,749.2 582.5,753.3 585,756.7 587.5,755 589.2,751.7 590.8,748.3 592.5,746.7 594.2,750.8 596.7,755.8 600,760.8 603.3,765.8 606.7,770.8 610.8,775 615,779.2 620,783.3 625,786.7 630,789.2 635,790.8 640,793.3 645,795.8 650,798.3 655,800.8 660,803.3 665,805.8 670.8,807.5 667.5,805 663.3,802.5 658.3,799.2 654.2,795.8 650,791.7 645.8,787.5 641.7,783.3 637.5,778.3 633.3,773.3 629.2,768.3 625.8,763.3 622.5,758.3 620,753.3 619.2,748.3 623.3,746.7 628.3,745.8 633.3,745 638.3,744.7 643.3,745.8 648.3,746.7 653.3,747.5 658.3,746.7 663.3,747.5 668.3,748.3 673.3,749.2 678.3,749.2 677.5,744.2 680,740.8 676.7,740 675,735.8 673.3,730.8 671.7,726.7 669.7,723 665,726.7 660,728.3 653.3,728.3 646.7,726.7 640,723.3 633.3,718.3 626.7,713.3 625,715 622.5,718.3 620,721.7 617.5,725 615.8,729.2 613.3,732.5 611.7,735.8 610.8,739.2 608.3,740.8 605,740 601.7,740.8 598.3,740 595.8,738.3 593.3,740 590.8,740.8 586.7,741.7 583.3,742"/>
<polygon fill="#5ec962" stroke="#3f566e" stroke-opacity="0.6" stroke-width="0.7" points="589.2,756.7 590.8,755 593.3,760 595.8,766.7 597.5,771.7 596.3,772.5 593.7,767.5 591.3,762.5"/>
<polygon fill="#5ec962" stroke="#3f566e" stroke-opacity="0.6" stroke-width="0.7" points="593.3,751.3 595.8,750 598,753.3 596.7,756.7 594.7,755.3"/>
<polygon fill="#5ec962" stroke="#3f566e" stroke-opacity="0.6" stroke-width="0.7" points="600,768.3 602,767.5 605.8,773.3 609.2,778.3 608,779.7 604.2,775 601.3,771.7"/>
<polygon fill="#5ec962" stroke="#3f566e" stroke-opacity="0.6" stroke-width="0.7" points="603.3,778.3 605,777.5 610,784.2 614.2,789.2 613,790 608.3,785"/>
<polygon fill="#5ec962" stroke="#3f566e" stroke-opacity="0.6" stroke-width="0.7" points="635,795 639.2,794.2 643.3,795.8 642.5,797.5 638.3,797.5"/>
<polygon fill="#5ec962" stroke="#3f566e" stroke-opacity="0.6" stroke-width="0.7" points="633.3,799.2 638.3,799.2 644.2,800.3 650,801.3 649.7,802.5 644.2,802 638.3,800.8"/>
<polygon fill="#5ec962" stroke="#3f566e" stroke-opacity="0.6" stroke-width="0.7" points="640,804.2 645,804.2 650.8,805.3 650.3,806.7 645,806.3"/>
<polygon fill="#5ec962" stroke="#3f566e" stroke-opacity="0.6" stroke-width="0.7" points="653.3,807.5 658.3,808.7 658,809.7 653.3,808.7"/>
<polygon fill="#27858f" points="660.1,674.2 664.1,671.2 668.1,668.2 673.1,666.1 678.1,665.1 682.1,663.1 686.1,660.1 690.1,657.1 695.1,656.1 700.1,654.1 706.1,653.1 711.1,654.1 716.1,655.1 720,658 724.1,661 729.1,663 726.1,667 722,671 719,676 717,681 715,687.1 713,693.1 712,698.5 710,703.1 707,707.1 703,710.1 699,713.1 694,716.1 691,715.7 686,716.1 681,718.1 676,719.1 669.7,723 668.3,717.5 668.3,711.7 668.3,705.8 669.2,700.8 671.7,697.5 676.7,695.8 681.7,696.7 685.8,695 686.7,690 684.2,685.8 680,682.5 675,680 670,679.2 665,680 664.2,675.8"/>
<polygon fill="#440154" points="660.1,674.2 655.1,677.2 650.1,679.2 644.1,678.2 639.1,677.2 634.1,673.2 633.3,679.2 630,681.7 626.7,683.7 628,685.8 626.7,690 625.3,694.2 624.7,698.3 623.7,702.5 625,705.8 625.8,709.7 626.7,713.3 633.3,718.3 640,723.3 646.7,726.7 653.3,728.3 660,728.3 665,726.7 669.7,723 668.8,723 668.3,717.5 668.3,711.7 668.3,705.8 669.2,700.8 671.7,697.5 676.7,695.8 681.7,696.7 685.8,695 686.7,690 684.2,685.8 680,682.5 675,680 670,679.2 665,680 664.2,675.8"/>
<polygon fill="#21a385" points="669.7,723 676,719.1 681,718.1 686,716.1 691,715.7 694,716.1 697,716.1 700,718.1 703,721.1 705,725.1 707,729.1 711,732.1 715,736.1 718,740.1 721,744.1 720,743.7 717,745.1 713,747.1 709,750.1 705,753.1 702,756.1 700,758.1 695,756.1 690,753.1 686,750.1 682,748.1 678.3,749.2 677.5,744.2 680,740.8 676.7,740 675,735.8 673.3,730.8 671.7,726.7 669.7,723"/>
<polygon fill="#27858f" points="678.3,749.2 682,748.1 686,750.1 690,753.1 695,756.1 700,758.1 702,756.1 705,753.1 709,750.1 713,747.1 717,745.1 720,743.7 721,744.1 725.1,746.1 729.1,745.1 733.1,747.1 737.1,746.1 740.1,749.1 742.1,753.1 740.1,758.1 739.1,764.1 742.1,769.1 746.1,774.1 749.1,778.1 748.1,783.1 745.7,788.1 744.9,793.3 744.2,798.2 743.9,802.4 740.7,802.8 737.2,803.3 733.1,804.4 728.9,805.8 730,803.8 730.3,799.6 727.5,796.1 723.3,793.3 719.2,790.6 715,787.8 711.5,787.1 709.4,791.2 706,795.4 702.5,797.5 696.9,794.7 691.4,791.2 685.8,787.8 680.3,782.9 682,778.1 684,773.1 685,768.1 683.6,763.1 681,758.1 679.6,753.1"/>
<polygon fill="#5ec962" points="729.1,663 734.1,661 740.1,660 746.1,661 752.1,660 758.1,659.6 764.1,661 768.1,663 769.1,670 772.1,675 778.1,677 782.1,682 786.1,686.1 791.1,689.1 794.1,694.1 797.1,699.1 798.1,706.1 797.1,711.1 794.1,714.1 788.1,715.7 782.1,717.1 776.1,718.1 769.1,718.1 764.1,719.1 758.1,720.1 753.1,721.1 749.1,718.1 745.1,713.1 741.1,709.1 737.1,705.1 732.1,703.1 727.1,702.1 722,700.1 717,699.1 712,698.5 713,693.1 715,687.1 717,681 719,676 722,671 726.1,667 729.1,663"/>
<polygon fill="#5ec962" points="768.1,663 772.1,659 778.1,656 784.1,652 788.1,647 792.1,644 793.1,643.6 797.1,648 801.1,653 805.1,658 809.1,663 813.1,668 817.1,673 821.1,678 824.1,684.1 826.1,690.1 828.1,696.1 829.1,702.1 830.5,705.7 836.1,707.1 841.1,705.1 846.1,703.1 851.2,702.1 855.2,702.5 856.6,703.1 857.2,708.1 856.2,714.1 852.2,719.1 849.2,724.1 847.1,730.1 846.1,736.1 847.1,742.1 847.1,746.5 841.1,745.7 835.1,744.5 829.1,743.7 823.1,745.1 818.1,747.1 819.1,744.1 823.1,741.1 828.1,738.1 832.1,734.1 833.1,729.1 830.1,725.1 824.1,724.1 818.1,725.1 812.1,726.1 806.1,727.1 802.1,723.1 798.1,718.1 794.1,714.1 797.1,711.1 798.1,706.1 797.1,699.1 794.1,694.1 791.1,689.1 786.1,686.1 782.1,682 778.1,677 772.1,675 769.1,670 768.1,663"/>
<polygon fill="#27858f" points="794.1,714.1 788.1,715.7 782.1,717.1 776.1,718.1 769.1,718.1 769.7,724.1 771.1,731.1 775.1,737.1 779.1,743.1 780.1,750.1 778.5,757.1 777.1,761.1 780.1,761.1 786.1,760.1 792.1,759.1 798.1,758.1 803.1,756.1 808.1,752.1 813.1,749.1 818.1,747.1 819.1,744.1 823.1,741.1 828.1,738.1 832.1,734.1 833.1,729.1 830.1,725.1 824.1,724.1 818.1,725.1 812.1,726.1 806.1,727.1 802.1,723.1 798.1,718.1 794.1,714.1"/>
<polygon fill="#5ec962" points="712,698.5 717,699.1 722,700.1 727.1,702.1 732.1,703.1 737.1,705.1 741.1,709.1 745.1,713.1 749.1,718.1 753.1,721.1 758.1,720.1 764.1,719.1 769.1,718.1 769.7,724.1 771.1,731.1 775.1,737.1 779.1,743.1 780.1,750.1 778.5,757.1 777.1,761.1 774.1,761.7 768.1,762.5 762.1,763.1 756.1,763.7 751.1,764.1 748.1,762.1 746.1,759.1 743.1,758.1 740.1,758.1 742.1,753.1 740.1,749.1 737.1,746.1 733.1,747.1 729.1,745.1 725.1,746.1 721,744.1 718,740.1 715,736.1 711,732.1 707,729.1 705,725.1 703,721.1 700,718.1 697,716.1 694,716.1 699,713.1 703,710.1 707,707.1 710,703.1 712,698.5"/>
<polygon fill="#dde228" points="740.1,758.1 743.1,758.1 746.1,759.1 748.1,762.1 751.1,764.1 756.1,763.7 762.1,763.1 768.1,762.5 774.1,761.7 777.1,761.1 780.1,761.1 786.1,760.1 792.1,759.1 798.1,758.1 803.1,756.1 808.1,752.1 813.1,749.1 818.1,747.1 823.1,745.1 829.1,743.7 835.1,744.5 841.1,745.7 847.1,746.5 845.1,752.1 842.1,758.1 840.1,764.1 838.1,770.1 837.1,776.1 839.1,782.1 843.1,787.1 846.1,790.1 845.1,791.1 839.1,792.5 832.1,794.5 826.1,795.7 821.1,794.5 815.1,793.7 812.1,796.1 807.1,796.5 800.1,797.1 796.1,794.1 793.1,790.1 790.1,786.1 784.1,785.1 778.1,784.1 773.1,783.1 768.1,780.1 760.1,779.1 754.1,779.1 749.1,778.1 746.1,774.1 742.1,769.1 739.1,764.1 740.1,758.1"/>
<polygon fill="#5ec962" points="749.1,778.1 754.1,779.1 760.1,779.1 768.1,780.1 773.1,783.1 778.1,784.1 784.1,785.1 790.1,786.1 793.1,790.1 796.1,794.1 800.1,797.1 807.1,796.5 812.1,796.1 815.1,793.7 821.1,794.5 819.1,799.1 820.1,804.1 817.1,809.2 814.1,812.2 809.1,813.8 803.1,815.2 798.1,816.2 792.1,817.2 786.1,818.2 780.1,817.2 774.1,819.2 768.1,821.2 763.1,823.2 757.8,825 757.4,820.4 756,816.2 753.2,812.1 749.7,808.6 745.6,804.4 743.9,802.4 744.2,798.2 744.9,793.3 745.7,788.1 748.1,783.1 749.1,778.1"/>
<polygon fill="#21a385" points="757.8,825 763.1,823.2 768.1,821.2 774.1,819.2 780.1,817.2 786.1,818.2 792.1,817.2 798.1,816.2 803.1,815.2 809.1,813.8 814.1,812.2 817.1,809.2 820.1,804.1 822.1,807 823.7,812 822.1,817 821.1,822 820.1,827 819.1,829 814.1,827 809.1,825 804.1,824 799.1,825 794.1,827 789.1,829 785.1,832 781.1,835 778.1,838 776.1,841 778.1,845 781.1,849 783.1,853.1 780.1,854.1 777.1,851 775.1,854.1 772.1,855.1 770.1,852 767.1,850 764.1,848 761.1,847 758.1,848 758.1,852 760.1,857.1 763.1,862.1 766.1,867.1 769.1,871.1 772.1,875.1 770.1,879.1 767.1,877.1 765.1,880.1 768.1,884.1 772.1,887.1 776.1,888.5 780.1,890.1 784.1,892.1 788.1,894.1 791.1,897.1 793.1,900.1 795.1,904.5 794.1,909.1 792.1,911.1 789.1,908.1 786.1,904.1 783.1,901.1 780.1,900.1 778.1,901.1 780.1,905.1 782.1,909.1 781.1,913.1 778.1,916.1 775.1,918.1 772.1,920.1 774.1,926.1 777.1,932.1 779.1,938.1 778.1,942.1 775.1,939.1 772.1,934.1 770.1,937.1 768.1,943.1 766.1,946.1 764.1,941.1 762.1,935.1 759.1,937.1 756.1,941.1 753.1,938.1 750,933.1 748,928.1 745,923.1 741,918.1 737,914.1 739,910.1 743,907.1 748,905.7 754.1,904.5 760.1,903.3 766.1,902.5 772.1,902.1 776.5,901.3 776.1,899.1 770.1,899.1 764.1,900.1 758.1,900.1 752,901.1 746,902.1 740,903.1 735,904.1 731,902.1 728,898.1 726,893.1 725,888.1 723,884.1 720,881.1 717,878.1 714,876.1 711.6,873.7 714.3,869.7 715.7,865.6 719.2,862.1 720.6,857.9 722.6,854.4 724,850.3 723.3,846.1 721.2,843.3 719.2,841.7 723.3,841.9 726.8,841.2 731,839.9 735.8,837.8 740,835.7 744.9,832.9 749.7,830.8 753.9,828.1 757.8,825"/>
<polygon fill="#21a385" stroke="#3f566e" stroke-opacity="0.6" stroke-width="0.7" points="792.1,965.1 796.1,962.5 801.1,961.7 806.1,962.5 811.1,963.1 816.1,962.1 821.1,961.1 826.1,960.1 831.1,960.5 836.1,961.1 841.1,960.1 845.1,959.1 847.1,961.1 846.1,965.1 843.1,967.1 838.1,967.7 833.1,969.1 828.1,970.1 823.1,971.7 818.1,973.1 813.1,971.1 808.1,970.1 803.1,970.1 798.1,970.1 793.7,969.1"/>
<polygon fill="#21a385" stroke="#3f566e" stroke-opacity="0.6" stroke-width="0.7" points="871.1,930.1 874.1,926.1 877.1,923.1 879.8,922.1 880.2,926.1 878.2,931.1 875.1,935.1 872.5,937.1 871.1,934.1"/>
<polygon fill="#21a385" stroke="#3f566e" stroke-opacity="0.6" stroke-width="0.7" points="821.1,865.1 824.1,862.1 828.1,860.5 832.1,862.1 834.1,865.7 832.1,869.1 828.1,870.1 824.1,869.1"/>
<polygon fill="#21a385" stroke="#3f566e" stroke-opacity="0.6" stroke-width="0.7" points="824.1,882.1 827.1,880.5 830.1,882.1 830.5,886.1 829.1,890.1 826.5,889.7 824.5,886.1"/>
<polygon fill="#21a385" stroke="#3f566e" stroke-opacity="0.6" stroke-width="0.7" points="832.1,905.1 835.1,903.1 839.1,902.5 840.1,904.5 837.1,906.1 833.7,906.5"/>
<polygon fill="#21a385" stroke="#3f566e" stroke-opacity="0.6" stroke-width="0.7" points="803.1,851 806.1,849 809.7,849.6 810.1,853.1 807.1,855.1 804.1,854.1"/>
<polygon fill="#21a385" stroke="#3f566e" stroke-opacity="0.6" stroke-width="0.7" points="790.1,834.4 793.1,833.6 794.5,836.4 792.5,838.4 790.1,837.2"/>
<polygon fill="#21a385" stroke="#3f566e" stroke-opacity="0.6" stroke-width="0.7" points="808.1,836.4 811.1,836 811.7,838 809.1,838.6"/>
<polygon fill="#21a385" stroke="#3f566e" stroke-opacity="0.6" stroke-width="0.7" points="702,872.1 705,871.1 707.6,874.1 709,878.1 711,881.1 709.6,881.7 707,879.1 704.4,876.5"/>
<polygon fill="#21a385" stroke="#3f566e" stroke-opacity="0.6" stroke-width="0.7" points="720,905.1 723,903.1 726,905.1 727,909.1 724.4,911.1 721,910.1"/>
<polygon fill="#21a385" stroke="#3f566e" stroke-opacity="0.6" stroke-width="0.7" points="727,916.1 730,915.1 732.4,918.1 731,921.1 728,920.1"/>
<polygon fill="#21a385" stroke="#3f566e" stroke-opacity="0.6" stroke-width="0.7" points="771.1,884.1 776.1,885.7 781.1,887.1 786.1,890.1 791.1,894.1 794.1,899.1 795.1,902.1 792.5,901.7 789.1,898.1 784.1,894.1 779.1,891.1 774.1,889.1 770.1,887.1"/>
<polygon fill="#21a385" stroke="#3f566e" stroke-opacity="0.6" stroke-width="0.7" points="799.1,910.1 801.7,909.7 804.5,913.1 803.7,915.7 801.1,914.1"/>
<polygon fill="#21a385" stroke="#3f566e" stroke-opacity="0.6" stroke-width="0.7" points="806.1,916.1 809.1,917.1 810.1,919.7 807.7,919.1"/>
<polygon fill="#21a385" stroke="#3f566e" stroke-opacity="0.6" stroke-width="0.7" points="820.5,921.1 823.7,920.1 825.1,923.7 823.1,926.5 820.5,925.1"/>
<polygon fill="#21a385" stroke="#3f566e" stroke-opacity="0.6" stroke-width="0.7" points="816.1,922.5 818.5,921.7 819.1,924.5 816.9,925.3"/>
<polygon fill="#21a385" stroke="#3f566e" stroke-opacity="0.6" stroke-width="0.7" points="808.1,932.5 811.1,931.7 812.1,934.1 809.3,934.9"/>
<polygon fill="#21a385" stroke="#3f566e" stroke-opacity="0.6" stroke-width="0.7" points="822.1,934.5 824.5,934.1 824.5,936.5 822.5,936.5"/>
<polygon fill="#21a385" stroke="#3f566e" stroke-opacity="0.6" stroke-width="0.7" points="818.1,930.1 820.1,929.7 820.5,931.7 818.5,932.1"/>
<polygon fill="#21a385" stroke="#3f566e" stroke-opacity="0.6" stroke-width="0.7" points="809.7,921.1 811.3,921.1 811.3,923.3 809.7,923.3"/>
<polygon fill="#21a385" stroke="#3f566e" stroke-opacity="0.6" stroke-width="0.7" points="798.1,916.1 800.1,915.7 800.5,918.5 798.5,918.5"/>
<polygon fill="#21a385" stroke="#3f566e" stroke-opacity="0.6" stroke-width="0.7" points="801.1,921.1 802.7,921.1 802.7,923.7 801.1,923.7"/>
<polygon fill="#21a385" stroke="#3f566e" stroke-opacity="0.6" stroke-width="0.7" points="804.1,926.1 806.1,926.1 806.1,928.1 804.1,928.1"/>
<polygon fill="#21a385" stroke="#3f566e" stroke-opacity="0.6" stroke-width="0.7" points="828.1,928.1 831.7,926.1 832.5,927.3 828.9,929.5"/>
<polygon fill="#21a385" stroke="#3f566e" stroke-opacity="0.6" stroke-width="0.7" points="826.1,908.1 831.1,906.7 831.7,908.1 826.9,909.5"/>
<polygon fill="#21a385" stroke="#3f566e" stroke-opacity="0.6" stroke-width="0.7" points="853.1,918.5 857.1,916.5 860.1,915.7 860.5,917.1 857.1,918.5 854.1,920.1"/>
<polygon fill="#21a385" stroke="#3f566e" stroke-opacity="0.6" stroke-width="0.7" points="850.1,913.1 852.5,912.1 853.1,914.5 850.7,915.3"/>
<polygon fill="#21a385" stroke="#3f566e" stroke-opacity="0.6" stroke-width="0.7" points="861.7,942.1 863.3,941.7 864.5,948.1 863.7,954.1 862.1,953.7 862.5,948.1"/>
<polygon fill="#21a385" stroke="#3f566e" stroke-opacity="0.6" stroke-width="0.7" points="858.1,954.1 860.5,953.3 861.1,954.9 858.7,955.7"/>
<polygon fill="#21a385" stroke="#3f566e" stroke-opacity="0.6" stroke-width="0.7" points="797.1,877.1 799.7,876.5 800.5,879.7 798.1,880.5"/>
<polygon fill="#21a385" stroke="#3f566e" stroke-opacity="0.6" stroke-width="0.7" points="784.1,870.1 787.1,869.1 790.1,870.5 789.7,872.1 786.5,871.7"/>
<polygon fill="#21a385" stroke="#3f566e" stroke-opacity="0.6" stroke-width="0.7" points="775.1,948.1 777.3,947.7 777.7,950.5 775.7,951.1"/>
<polygon fill="#21a385" stroke="#3f566e" stroke-opacity="0.6" stroke-width="0.7" points="839.1,930.1 842.1,929.1 842.7,930.7 839.7,931.7"/>
<polygon fill="#21a385" stroke="#3f566e" stroke-opacity="0.6" stroke-width="0.7" points="848.1,908.1 849.7,907.7 850.1,910.1 848.5,910.5"/>
<polygon fill="#21a385" stroke="#3f566e" stroke-opacity="0.6" stroke-width="0.7" points="813.1,918.1 815.1,917.7 815.5,919.7 813.5,920.1"/>
<polygon fill="#21a385" stroke="#3f566e" stroke-opacity="0.6" stroke-width="0.7" points="966.5,935.2 969.6,930.5 975.9,925.9 982.1,922.8 989.9,919.6 996.1,915 1000.8,910.3 1004.5,909.4 1002.4,915 997.7,919.6 1000.8,924.3 997.7,929 991.4,932.1 985.2,935.2 979,939.9 972.7,941.5 968.1,939.9"/>
<polygon fill="#21a385" stroke="#3f566e" stroke-opacity="0.6" stroke-width="0.7" points="603,974 606.3,973 609.3,975.7 609.3,978.3 606.7,979 604,977"/>
</g>
</g>
<g fill="none" stroke="#1a1a1a" stroke-opacity="0.75" stroke-width="0.8" stroke-linejoin="round">
<polyline points="410.9,609.4 414.7,608.9 419,609.8 423.3,610.6 427.6,611.1 431,610.2 435.3,610.6 439.6,610.2 443.9,611.1 448.2,610.6 451.2,610.2"/>
<polyline points="386.1,621 385.1,627 386.1,633 385.1,639 384.7,644.6 389.1,646 394.1,648.1 399.1,649.1 404.1,650.1 409.1,652.1 414.1,654.1 417.1,649.1 420.1,644 423.1,639 425.1,634 426.7,629.4"/>
<polyline points="330.7,644 331.1,649.1 332.7,655.1"/>
<polyline points="367.1,662.1 370.1,658.1 373.1,655.1 377.1,653.1 381.1,652.1 382.1,648.1 384.7,644.6"/>
<polyline points="381.1,652.1 382.1,657.1 384.1,661.1 387.1,665.1 391.1,666.1 395.1,669.1 399.1,672.1 403.5,670.1 407.1,668.1 410.1,667.1 410.7,666.1 410.1,662.1 412.1,658.1 414.1,654.1"/>
<polyline points="403.5,670.1 402.1,675.1 400.1,680.1 399.1,685.1 399.5,690.1 400.1,695.1 400.7,701.1 399.5,707.1 395.1,708.7 391.1,710.7 387.1,713.1"/>
<polyline points="410.1,667.1 412.1,670.1 414.1,673.1 417.1,677.1 421.1,679.1 425.1,678.1 429.1,678.1 432.1,680.1 434.1,684.1 437.1,687.1 441.1,688.1 445.2,686.1 449.2,683.1 453.2,681.1 457.2,680.7 461.2,682.1 465.2,683.1 469.2,685.1 472.2,688.1 475.2,691.1 477.2,692.1"/>
<polyline points="399.5,707.1 403.1,708.1 406.1,710.1 410.1,712.1 412.1,716.1 415.1,719.1 419.1,722.1 423.1,721.1 427.1,722.1 430.1,719.1 434.1,717.1 438.1,718.1 442.1,721.1 446.2,723.1 449.2,721.1 452.2,717.1 456.2,713.1"/>
<polyline points="380.1,749.1 380.1,752.1 382.1,755.1 385.1,757.1 388.1,755.1 392.1,752.1 395.1,754.1 399.1,755.1 403.1,754.1 407.1,756.1 410.1,759.1 413.1,763.1 416.1,766.1 420.1,768.1 424.1,771.1 427.1,769.1 431.1,771.1 435.1,770.1 438.1,765.1 442.1,761.1 446.2,758.1 450.2,755.1 453.2,752.1 457.2,755.1 460.8,754.1"/>
<polyline points="424.1,771.1 422.1,776.2 419.1,781.2 416.1,785.2 414.1,788.8"/>
<polyline points="596.7,685 601.7,684.2 606.7,683.7 611.7,685 615.8,687.5 619.2,690.8 620.8,695 620,699.2 622.5,702.5 625,705.8"/>
<polyline points="725.6,886.1 727,880.1 729,874.1 730,869.1 733,867.1 737,865.1 741,863.1 744,860.1 747,857.1 750,856.1 753.1,858.1 756.1,860.1 759.1,858.1"/>
</g>
<g fill="none" stroke="#1d0029" stroke-width="0.8" stroke-linejoin="round">
<polyline points="480.1,613.1 483.1,618.1 486.1,623.1 488.1,628.1 491.1,633.1 493.1,638.1 494.1,643.1"/>
<polyline points="494.1,643.1 499.1,642.1 504.1,640.1 509.7,639.1 512.1,634.1 515.1,629.1 518.1,624.1 521.1,617.1"/>
<polyline points="509.7,639.1 513.1,645.1 517.1,650.1 521.1,656.1 522.1,664.1 519.1,672.1 520.1,680.2 521.1,688.2 520.1,696.2"/>
<polyline points="494.1,643.1 491.1,648.1 488.1,652.1 486.5,654.5"/>
<polyline points="467.1,648.1 469.1,644.1 473.1,642.1 477.1,644.1 477.1,651.1"/>
<polyline points="504.1,533 509.1,537 515.1,541 522.1,547"/>
</g>
<g fill="none" stroke="#000" stroke-width="1.3" stroke-linejoin="round" stroke-linecap="round">
<polyline points="614.5,155.5 611.2,158.8 610,165 606.2,168.8 600,170.5 593.8,171.2 591.2,176.2 588.8,182.5 583.8,185 581.2,188.8 580.5,195 580,202.5 577.5,207.5 576.2,215 572.5,222.5 570,230 565.5,233 563.8,240 563,247.5 562.5,255 560,262.5 558,270 561.2,275 560.5,282.5 553.8,285 547.5,287.5 543.8,292.5 542,300 541.2,307.5 542,315 543,322.5 544.5,330 545.5,337.5 546.2,343.8 549.5,350 550,355 547.5,361.2 549.5,367.5 548,375 547,382.5 543.8,386.2 540,390 539.5,397.5 540,403.8 536.2,407.5 530,407"/>
<polyline points="614.5,155.5 616.2,150 620,148.8 623.8,152.5 627.5,157 632.5,160.5 637.5,161.2 641.2,157.5 646.2,155.5 652.5,154.5 655.5,150 656.2,142.5 655.5,135 656.2,127.5 660,122.5 665,119.5 669.5,118 672.5,121.2 676.2,123.8 680.5,127 684.5,130 687,133"/>
<polyline points="687,133 690,130 693,127 697,123.8 697.5,122"/>
<polyline points="687,133 686.2,137.5 683.8,142.5 685,148.8 686.2,155 690,160 695,162.5 700,167.5 704.5,171.2 703.8,177.5 703,183.8 706.2,190 710,195 713.8,201.2 717.5,207.5 720.5,213.8 720,220 721.2,227.5 723.8,235 728.8,240 733.8,246.2 736.2,252.5 735,258.8 740,262.5 746.2,266.2 752.5,270.5 757.5,275 757,282.5 755,290 752.5,297.5 750,305 748.8,312.5 746.2,320 742.5,327.5 738.8,335 736.2,342"/>
<polyline points="661.2,227.5 658.8,221.2 655,215 653,208.8 652.5,202.5 650,196.2 647.5,190 645,183.8 643.8,177.5 642.5,171.2 640,167.5 635,165 630,163.8 625,161.2 620,158.8 616.2,157 614.5,155.5"/>
<polyline points="582.1,535.6 581.1,542 580.5,546 580.1,548 581.1,554.1 583.1,560.1 585.1,566.1 587.1,572.1 588.2,578.1 589.2,584.1 591.2,590.1 592.2,593.1 593.2,594.1 594.6,598.1 595.2,605.7"/>
<polyline points="595.2,605.7 590.2,608.1 585.1,610.1 580.1,612.1 575.1,614.5 570.1,617.1 565.1,619.7 560.1,622.1 556.1,624.5 554.1,627.1 557.1,632.1 560.1,637.1 564.1,642.1 568.1,647.1 572.1,652.1 576.1,657.1 579.1,661.1 581.1,664.1"/>
<polyline points="581.1,664.1 577.1,668.1 573.1,672.1 569.7,677.1 567.7,682.2 566.5,687.2 568.1,691.2 563.1,690.2 558.1,688.2 553.1,689.2 548.1,691.2 543.1,692.2 538.1,693.2 533.1,694.2 528.1,695.2 523.1,696.2 521.1,698.2"/>
<polyline points="521.1,698.2 518.1,695.2 514.1,693.2 509.1,692.2 504.1,691.2 499.1,690.2 494.1,689.2 489.1,690.2 484.1,691.2 479.1,690.2"/>
<polyline points="479.1,690.2 477.7,684.2 478.5,678.2 480.1,672.1 482.1,666.1 484.1,660.1 486.5,654.5 482.1,653.1 477.1,651.1 472.1,650.1 467.1,648.1 463.1,645.1 460,641.7"/>
<polyline points="460,641.7 459.6,637.1 458,632.1 457.4,627.7"/>
<polyline points="457.4,627.7 458,623.1 459,618.1 458.4,613.1 457,608.1 454.2,611.5"/>
<polyline points="454.2,611.5 455.5,611.1 456.1,608.1 456.3,604.6 456.8,601.2 458.5,598.6 459.2,595.2 458.5,591.8 457.2,587.5 458.9,586.2 461.1,584.9 463.6,584.5 466.2,583.6 468.8,582.3 469.6,579.8 468.8,576.8 470.5,574.6 472.2,572 472.6,568.6 471.3,565.3 473.5,563 474.8,559.2 475.5,554.9 475.2,550.6 474.4,546.7"/>
<polyline points="415.6,594.2 419,596.5 423.3,597.8 428,596.1 428.9,593.1 431,593.1 434.5,593.5 437.9,593.5 441.3,593.9 443.5,595.2 445.6,596.9 448.2,598.6 450.8,601.2 451.6,603.8 451.2,607.2 452.5,610.6 454.2,611.5"/>
<polyline points="457.4,627.7 455,629.1 452.4,632.1 451.6,636.1 453,640.1 452.4,641.7"/>
<polyline points="452.4,641.7 449,641.1 445,639.1 442,636.1 438,633 436.5,629 435,626 431,629.5 427,630 426.3,624.4 424.6,621.8 421.6,620.1 418.2,618.4 415.6,615.8 412.2,614.9 411.7,612.4 410.9,609.4 407.9,608.5 404.4,607.2 402.3,604.6 401.4,601.2"/>
<polyline points="460,641.7 456,642.5 452.4,641.7"/>
<polyline points="660.1,513 670.1,512 680.1,511 690.1,509.6 701.1,508"/>
<polyline points="701.1,508 705.1,509.6 709.1,511.6 713.1,515.6"/>
<polyline points="713.1,515.6 716.1,522 719.1,529 722.1,536 724.1,543.1 722.5,549.1 719.1,554.1 716.5,558.5 720.1,560.1 723.1,563.1 725.1,568.1 726.1,572.5"/>
<polyline points="726.1,572.5 729.2,578.1 732.2,584.1 735.2,590.1 737.2,596.1 735.2,602.1 731.2,608.1 727.1,614.1 723.1,620.1 721.1,626.1 722.1,632.1 724.1,637.1 721.1,638.1"/>
<polyline points="721.1,638.1 716.1,635.1 710.1,633.7 704.1,633.1 700.1,633.1 698.1,634.1 692.1,635.1 686.1,637.1 680.1,640.1 677.1,637.1 674.1,634.1 670.1,633.1 667.1,636.1 663.1,638.1 660.1,635.1 658.1,634.1"/>
<polyline points="658.1,634.1 654.1,630.1 651.1,627.1 648.1,624.1 645.7,621.7 644.1,621.1 640.1,618.1 636.1,617.1 632.1,618.1 628.1,617.1 625.1,620.1 622.1,622.1 619.1,618.1 616.1,614.1 612.1,612.1 608.1,610.1 604.1,608.1 600,606.1 595.2,605.7"/>
<polyline points="658.1,634.1 655.1,638.1 652.1,642.1 649.1,646.1 646.1,650.1 642.1,653.1 638.1,655.1 632.5,657.1"/>
<polyline points="632.5,657.1 628.1,656.1 623.1,657.1 618.1,657.7 613.1,656.1 608.1,657.1 603.1,655.7 599,656.1 596,659.1 593,662.1 590,664.1 581.1,664.1"/>
<polyline points="721.1,638.1 719.1,644.1 717.1,650.1 716.1,655.1"/>
<polyline points="716.1,655.1 711.1,654.1 706.1,653.1 700.1,654.1 695.1,656.1 690.1,657.1 686.1,660.1 682.1,663.1 678.1,665.1 673.1,666.1 668.1,668.2 664.1,671.2 660.1,674.2 655.1,677.2 650.1,679.2 644.1,678.2 639.1,677.2 634.1,673.2"/>
<polyline points="634.1,673.2 633.1,668.2 632.1,663.1 632.5,657.1"/>
<polyline points="743.8,370 742.5,377.5 740,385 741.2,392.5 745,400 748.8,407.5 747.5,415 746.2,420"/>
<polyline points="746.2,420 740,419.5 732.5,417.5 725,415 717.5,413 711.2,415 705.5,418"/>
<polyline points="746.2,420 750,421.2 753.8,426.2 755.5,432.5 758.8,437.5 762.5,442.5 764.5,448"/>
<polyline points="764.5,448 762.5,453.8 758.8,457.5 755,460 750,465"/>
<polyline points="750,465 745,462 738.8,459.5 731.2,457.5 725,456.2 720,453.8 715,457 707.5,457.5 700,458.8 692.5,459.5 685,460.5 678.8,462.5 673.8,466.2 670.8,470"/>
<polyline points="750,465 748.8,470 751.2,475 747.5,480 743.8,485 742.5,492.5 742,500 743,503.8 738.8,507.5 732.5,510 726.2,512.5 720,515 713.1,515.6"/>
<polyline points="701.1,508 700,501.2 698.8,496.2 693.8,492.5 687.5,491.2 681.2,490 676.2,487.5 673.8,481.2 672,475 670.8,470"/>
<polyline points="307.1,780 311.4,783 316.4,787 322.7,791.3 328.9,794.5 335.2,797.6 341.4,799.6 347.7,801.3 353.9,803.8 360.2,806.3 366.4,809.6 372.7,811.3 378.9,812.6 385.2,811.3 391.5,809.6"/>
<polyline points="476.2,783.2 470.2,777.2 465.2,771.1 463.2,765.1 461.2,759.1 460.8,754.1 463.2,747.1 464.2,741.1 463.2,735.1 465.2,730.1"/>
<polyline points="465.2,730.1 462.2,725.1 459.2,722.1 455.2,721.1 452.2,723.1 452.2,719.1 454.2,715.1 456.2,713.1 457.2,711.1 460.2,707.1 463.2,703.1 466.2,699.1 469.2,696.1 473.2,694.1 477.2,692.1 479.1,690.2"/>
<polyline points="173.8,788 178.8,787 183.8,786.3 186.3,790 190.1,792.5 195.1,793.8 201.3,795.5 207.6,796.3 212.6,797.6 215.1,802.6 216.3,807.6 212.6,811.3 208.8,815.1 205.1,818.8 203.8,825.1 202.6,830.1 201.3,836.3 198.8,841.3 195.1,845.1 191.3,847.6 186.3,849.6 185.5,855.1 188.8,860.1 191.3,866.4 188.8,872.6 185.5,877.6 184.5,883.9 187.1,888.9 182.5,891.4 178.8,895.1 176.3,900.1 175,905.1 175.5,908.1"/>
<polyline points="276.3,477.1 272.6,480.1 267.6,483.8 263.1,487.1 261.3,490.1 265.1,492.6 267.6,496.3 271.3,497.6 275.1,496.3 278.8,498.8 281.3,502.6 283.8,504.6"/>
<polyline points="465.2,730.1 470,733.8 475,732.6 480,731.3 483.8,727.6 486.3,722.5 490,723.8 493.8,728.8 497.5,730.1 501.3,726.3 505.5,722.5 508.8,725.5 512.6,723.8 516.3,722.5 519.6,718.8 520.6,712.5 522.1,708"/>
<polyline points="522.1,708 521.3,703.8 522.6,701.3 521.1,698.2"/>
<polyline points="522.1,708 523.3,706.7 526.7,707.5 530,706.7 535,705.8 540,706.3 545,706.7 550,705.8 555,705 557.5,707.5 560,710.8 564.2,713.3 568.3,714.2 573.3,716.7 578.3,719.2"/>
<polyline points="578.3,719.2 579.2,718.3 582.5,717 586.7,716.3 591.7,717.5 595.8,718.3 600,716.7 605,715.8 610,715 615,713.3 620,711.7 625.8,709.7"/>
<polyline points="625.8,709.7 625,705.8 623.7,702.5 624.7,698.3 625.3,694.2 626.7,690 628,685.8 626.7,683.7 630,681.7 633.3,679.2 635.5,675.8"/>
<polyline points="578.3,719.2 577.5,723.3 579.2,726.7 578.3,730.8 580,734.2 581.7,737.5 582,740.5"/>
<polyline points="625.8,709.7 626.7,713.3 625,715 622.5,718.3 620,721.7 617.5,725 615.8,729.2 613.3,732.5 611.7,735.8 610.8,739.2 608.3,740.8 605,740 601.7,740.8 598.3,740 595.8,738.3 593.3,740 590.8,740.8 586.7,741.7 583.3,742"/>
<polyline points="670.8,807.5 667.5,805 663.3,802.5 658.3,799.2 654.2,795.8 650,791.7 645.8,787.5 641.7,783.3 637.5,778.3 633.3,773.3 629.2,768.3 625.8,763.3 622.5,758.3 620,753.3 619.2,748.3 623.3,746.7 628.3,745.8 633.3,745 638.3,744.7 643.3,745.8 648.3,746.7 653.3,747.5 658.3,746.7 663.3,747.5 668.3,748.3 673.3,749.2 678.3,749.2"/>
<polyline points="678.3,749.2 677.5,744.2 680,740.8 676.7,740 675,735.8 673.3,730.8 671.7,726.7 669.7,723"/>
<polyline points="669.7,723 665,726.7 660,728.3 653.3,728.3 646.7,726.7 640,723.3 633.3,718.3 626.7,713.3"/>
<polyline points="716.1,655.1 720,658 724.1,661 729.1,663"/>
<polyline points="729.1,663 726.1,667 722,671 719,676 717,681 715,687.1 713,693.1 712,698.5 710,703.1 707,707.1 703,710.1 699,713.1 694,716.1"/>
<polyline points="694,716.1 691,715.7 686,716.1 681,718.1 676,719.1 669.7,723"/>
<polyline points="694,716.1 697,716.1 700,718.1 703,721.1 705,725.1 707,729.1 711,732.1 715,736.1 718,740.1 721,744.1 725.1,746.1 729.1,745.1 733.1,747.1 737.1,746.1 740.1,749.1 742.1,753.1 740.1,758.1"/>
<polyline points="678.3,749.2 679.6,753.1 681,758.1 683.6,763.1 685,768.1 684,773.1 682,778.1 680.3,782.9"/>
<polyline points="680.3,782.9 685.8,787.8 691.4,791.2 696.9,794.7 702.5,797.5"/>
<polyline points="702.5,797.5 706,795.4 709.4,791.2 711.5,787.1 715,787.8 719.2,790.6 723.3,793.3 727.5,796.1 730.3,799.6 730,803.8 728.9,805.8"/>
<polyline points="728.9,805.8 733.1,804.4 737.2,803.3 740.7,802.8 743.9,802.4"/>
<polyline points="740.1,758.1 739.1,764.1 742.1,769.1 746.1,774.1 749.1,778.1 748.1,783.1 745.7,788.1 744.9,793.3 744.2,798.2 743.9,802.4"/>
<polyline points="680.3,782.9 676.1,786.4 674,790.6 673.3,794.7 671.9,798.9 672.6,803.1 671.7,807.9"/>
<polyline points="700.7,800.7 699.7,801.7 696.9,805.1 695.6,802.4 693.5,803.1 690.7,805.8 689.3,810 688.6,815.3"/>
<polyline points="702.5,797.5 700.7,800.7"/>
<polyline points="728.9,805.8 724.7,807.9 720.6,810.7 717.1,812.8 713.6,816.2"/>
<polyline points="713.6,816.2 711.5,812.8 708.8,809.3 705.3,805.8 702.5,802.4 700.7,800.7"/>
<polyline points="743.9,802.4 745.6,804.4 749.7,808.6 753.2,812.1 756,816.2 757.4,820.4 757.8,825"/>
<polyline points="757.8,825 753.9,828.1 749.7,830.8 744.9,832.9 740,835.7 735.8,837.8 731,839.9 726.8,841.2 723.3,841.9 719.2,841.7"/>
<polyline points="713.6,816.2 712.5,821.1 712.2,825.3 713.6,829.4 715.7,833.6 717.1,837.8 719.2,841.7"/>
<polyline points="719.2,841.7 721.2,843.3 723.3,846.1 724,850.3 722.6,854.4 720.6,857.9 719.2,862.1 715.7,865.6 714.3,869.7 712.9,873.9"/>
<polyline points="729.1,663 734.1,661 740.1,660 746.1,661 752.1,660 758.1,659.6 764.1,661 768.1,663 772.1,659 778.1,656 784.1,652 788.1,647 792.1,644 793.1,643.6"/>
<polyline points="793.1,643.6 797.1,648 801.1,653 805.1,658 809.1,663 813.1,668 817.1,673 821.1,678 824.1,684.1 826.1,690.1 828.1,696.1 829.1,702.1 830.5,705.7"/>
<polyline points="830.5,705.7 836.1,707.1 841.1,705.1 846.1,703.1 851.2,702.1 855.2,702.5 856.6,703.1"/>
<polyline points="847.1,746.5 841.1,745.7 835.1,744.5 829.1,743.7 823.1,745.1 818.1,747.1 813.1,749.1 808.1,752.1 803.1,756.1 798.1,758.1 792.1,759.1 786.1,760.1 780.1,761.1 777.1,761.1 774.1,761.7 768.1,762.5 762.1,763.1 756.1,763.7 751.1,764.1 748.1,762.1 746.1,759.1 743.1,758.1 740.1,758.1"/>
<polyline points="845.1,791.1 839.1,792.5 832.1,794.5 826.1,795.7 821.1,794.5 819.1,799.1 820.1,804.1"/>
<polyline points="820.1,804.1 817.1,809.2 814.1,812.2 809.1,813.8 803.1,815.2 798.1,816.2 792.1,817.2 786.1,818.2 780.1,817.2 774.1,819.2 768.1,821.2 763.1,823.2 757.8,825"/>
<polyline points="820.1,804.1 822.1,807 823.7,812 822.1,817 821.1,822 820.1,827 819.1,829"/>
<polyline points="270.1,980.2 272.6,985.2 276.4,990.2 275.6,995.7"/>
<polyline points="489.7,955.7 486.3,965.7 483,975.7 485.3,985.7 484,995.7"/>
<polyline points="764.5,448 770,448.8 776.2,450 782.5,449.5 786.2,453.8 790,451.2 795,448.8 800,448"/>
<polyline points="726.1,572.5 735,563.8 745,560 757.5,558.8 770,558.8 780,560 790,561.2 802.5,557.5 815,554.5 825,553.8 831.2,555 830,547.5 832.5,540 837.5,532.5 840,525 843.8,518.8"/>
<polyline points="873.8,518.8 877.5,522.5 883.8,530 890,537.5 900,540 907.5,547.5 915,550 928.8,549.5"/>
<polyline points="793.1,643.6 798.1,640 804.1,638 810.1,637.6 816.1,639 822.1,640 828.1,641 832.1,644 836.1,650 840.1,655 843.1,660 846.1,665 850.2,670 854.2,674 855.2,676 851.2,677 846.1,678 842.1,677 839.1,680 837.7,686.1 837.1,692.1 835.1,697.1 832.5,702.1 830.5,705.7"/>
<polyline points="1042.9,684.9 1050.7,679.6 1063.1,678.1 1075.6,676.5 1088.1,673.4 1100.5,674.9 1113,671.8 1123.9,667.1 1134.8,668.7 1147.3,670.3 1159.8,673.4 1169.1,674.9 1178.5,678.1 1190.9,676.5"/>
<polyline points="1085,720.1 1091.2,717 1099,713.9 1105.2,710.8 1111.5,712.3 1117.7,713.9 1123.9,712.3 1127,713.9 1131.7,723.3 1134.8,731 1141.1,734.2 1148.9,735.7 1152.9,737.9 1152,746.6 1155.1,756 1159.8,765.3 1164.5,773.1 1167.6,780.9 1173.8,787.2 1181.6,794 1186.3,796.5 1190.9,802.1"/>
<polyline points="1127,713.9 1134.8,709.2 1144.2,701.4 1150.4,696.8 1158.2,692.1 1166,689 1170.7,681.2 1166.6,676.8"/>
<polyline points="1150.4,696.8 1156.7,704.6 1164.5,710.8 1170.7,715.5 1175.4,723.3 1181.6,729.5 1190.9,735.7"/>
<polyline points="1152.9,737.9 1159.8,732.6 1167.6,729.5 1175.4,731.7 1183.2,737.3 1186.3,742 1178.5,743.5 1169.1,743.5 1161.3,740.4 1152.9,737.9"/>
<polyline points="1033.5,891.6 1038.2,886.9 1041.3,880.7 1039.8,872.9 1038.2,866.6 1044.4,863.5 1052.2,862 1060,857.3 1067.8,852.6 1075.6,849.5 1083.4,844.8 1091.2,838.6 1099,833.9 1106.8,829.2 1114.6,826.1 1122.4,823 1130.2,819.9 1136.4,815.2 1141.1,812.1 1145.7,805.9 1153.5,802.7 1162.9,799.6 1172.2,798.1 1181.6,794"/>
<polyline points="1139.5,812.7 1134.8,821.4 1130.2,830.8 1127,840.1 1131.7,849.5 1136.4,858.9 1139.5,868.2 1140.4,877.6 1139.5,886.9 1125.5,905.6 1113,921.2 1105.2,932.1"/>
<polyline points="1105.2,932.1 1094.3,946.1 1085,958.6 1075.6,969.5 1066.3,968 1056.9,966.4 1049.1,968"/>
<polyline points="1105.2,932.1 1114.6,943 1122.4,951.7 1134.8,952.4 1147.3,950.8 1162.9,952.4 1178.5,954.9 1190.9,955.5"/>
<polyline points="1122.4,951.7 1109.9,964.8 1097.4,975.7 1085,985.1 1094.3,994.5"/>
<polyline points="1039.8,927.4 1046,921.2 1052.2,918.1 1055.3,924.3 1053.8,932.1 1050.7,939.9 1049.1,949.3 1047.6,958.6 1044.4,963.3 1041.9,964.8"/>
<polyline points="1049.1,968 1050.7,977.3 1052.2,986.7 1053.2,994.5"/>
<polyline points="1043.8,964.8 1046,971.1 1042.9,978.9 1039.8,985.1 1038.2,994.5"/>
</g>
<g fill="none" stroke="#8ea3b8" stroke-width="0.7">
</g>
</g>
<g><clipPath id="ic1"><rect x="799.5" y="99.6" width="120" height="134.3"/></clipPath>
<rect x="800.7" y="100.8" width="120" height="134.3" fill="#c9c9c9" opacity="0.6"/>
<rect x="799.5" y="99.6" width="120" height="134.3" fill="#fff" stroke="#a9a9a9" stroke-width="1"/>
<g clip-path="url(#ic1)">
<g filter="url(#glow2)" stroke="#222" stroke-opacity="0.7" stroke-width="0.7" stroke-linejoin="round">
<polygon fill="#dde228" points="810.9,164 815.2,163 817.9,165.1 816.2,170.4 814.1,173.2 812,169.3"/>
<polygon fill="#dde228" points="825.2,181 827.9,179.5 831.1,181 831.5,183.8 828.6,185.3 825.8,183.8"/>
<polygon fill="#7d8a8a" points="806.7,191.6 809.9,190.2 813.1,189.5 812,192.7 809.4,194.8"/>
<polygon fill="#dde228" points="835.8,176.8 840.7,175.3 846,173.6 850.6,171 853.4,170.4 851.3,174.7 848.5,178.9 846,182.5 842.8,185.3 839.6,184.2 837.5,180"/>
<polygon fill="#dde228" points="861.3,184.2 864,181.7 868.3,181.7 871.5,184.2 871.9,188.5 869.3,191.6 865.1,192.7 861.9,190.2"/>
<polygon fill="#dde228" points="898,181 900.1,176.8 902.3,172.5 904.4,168.3 907.1,166.2 908,169.3 906.5,174.7 904.4,178.9 901.2,181.7 895.9,183.1 893.1,183.8"/>
<polygon fill="#dde228" points="907.1,158.7 910.8,156.6 914.4,155.1 916.1,156.6 913.9,159.8 909.7,161.9 907.6,162.5"/>
<polygon fill="#e6e6e6" points="892.7,234.1 901.2,226.7 909.7,219.3 916.1,210.8 920.3,201.2 920.3,235.2"/>
</g>

</g>
<text x="801.9" y="114.4" font-size="14.7" fill="#111" stroke="#111" stroke-width="0.3" textLength="82" lengthAdjust="spacingAndGlyphs">Canarias (ES)</text>
<rect x="806.7" y="207.0" width="24.4" height="6.8" fill="#fff" stroke="#111" stroke-width="1.15"/>
<rect x="807.2" y="210.4" width="23.4" height="2.9" fill="#cfcfcf"/>
<line x1="806.7" y1="210.2" x2="831.1" y2="210.2" stroke="#111" stroke-width="0.8"/>
<text x="805.2" y="224.8" font-size="8.8" fill="#111" stroke="#111" stroke-width="0.15">0</text>
<text x="824.7" y="224.8" font-size="8.8" fill="#111" stroke="#111" stroke-width="0.15" textLength="13.8" lengthAdjust="spacingAndGlyphs">100</text>
</g>
<g><clipPath id="ic2"><rect x="928.4" y="99.6" width="120" height="134.3"/></clipPath>
<rect x="929.6" y="100.8" width="120" height="134.3" fill="#c9c9c9" opacity="0.6"/>
<rect x="928.4" y="99.6" width="120" height="134.3" fill="#fff" stroke="#a9a9a9" stroke-width="1"/>
<g clip-path="url(#ic2)">
<g filter="url(#glow2)" stroke="#222" stroke-opacity="0.7" stroke-width="0.7" stroke-linejoin="round">
<polygon fill="#5ec962" points="951.1,165.1 953.2,158.7 957.5,155.5 962.8,157.7 968.1,160.8 973.4,165.1 977.2,170.4 979.4,176.8 980.9,184.2 981.5,191.6 979.8,199.1 975.5,204.4 970.2,207.6 964.9,208.6 960.7,205.5 957.5,199.1 955.4,191.6 953.9,184.2 952.6,176.8 951.8,170.4"/>
<polygon fill="#5ec962" points="981.9,168.3 985.1,163 987.2,157.7 985.1,151.3 983,144.9 986.2,139.6 991.5,136.4 996.8,138.5 1000,143.9 1001,150.2 1004.2,155.5 1009.5,158.7 1015.9,161.9 1021.2,165.1 1025.5,168.3 1020.1,170.4 1013.8,171.9 1007.4,173.6 1001,175.3 994.7,176.1 988.3,174.7 984,172.5 978.1,171.5 977.2,168.3"/>
<polygon fill="#5ec962" points="1009.5,208.6 1012.7,203.3 1017,200.8 1022.3,202.3 1026.5,206.5 1026.9,211.8 1023.3,217.1 1018,219.3 1012.7,217.1 1010,212.9"/>
<polygon fill="#5ec962" points="1038.2,161.9 1043.5,158.7 1048.2,156.6 1048.2,158.7 1043.5,161.3 1039.3,164"/>
<polygon fill="#7d8a8a" points="971.3,220.3 974.5,219.3 977.7,218.2 979.4,220.3 975.5,222.4 972.4,222.4"/>
<polygon fill="#7d8a8a" points="1034.6,178.3 1037.1,178.3 1037.1,180 1034.6,180"/>
</g>
<rect x="935.2" y="120.5" width="32.3" height="20.2" fill="#fff" stroke="#999" stroke-width="0.8"/><polygon fill="#5ec962" stroke="#333" stroke-width="0.5" points="948.4,129 951.1,125.8 955.4,124.3 959,125.2 959.6,129 957.5,132.2 953.2,133.7 949.6,132.8"/><polygon fill="#7d8a8a" points="940.5,131.1 943.7,130 946.9,131.5 946.2,134.3 942.6,134.3"/><polyline fill="none" stroke="#111" stroke-width="0.7" points="949,131.5 953.2,131.1 958.1,129"/>
</g>
<text x="930.8" y="114.4" font-size="14.7" fill="#111" stroke="#111" stroke-width="0.3" textLength="107" lengthAdjust="spacingAndGlyphs">Guadeloupe (FR)</text>
<rect x="936.2" y="207.0" width="23.4" height="6.8" fill="#fff" stroke="#111" stroke-width="1.15"/>
<rect x="936.7" y="210.4" width="22.4" height="2.9" fill="#cfcfcf"/>
<line x1="936.2" y1="210.2" x2="959.6" y2="210.2" stroke="#111" stroke-width="0.8"/>
<text x="934.7" y="224.8" font-size="8.8" fill="#111" stroke="#111" stroke-width="0.15">0</text>
<text x="955.5" y="224.8" font-size="8.8" fill="#111" stroke="#111" stroke-width="0.15" textLength="9.2" lengthAdjust="spacingAndGlyphs">20</text>
</g>
<g><clipPath id="ic3"><rect x="1057.6" y="99.6" width="120" height="134.3"/></clipPath>
<rect x="1058.8" y="100.8" width="120" height="134.3" fill="#c9c9c9" opacity="0.6"/>
<rect x="1057.6" y="99.6" width="120" height="134.3" fill="#fff" stroke="#a9a9a9" stroke-width="1"/>
<g clip-path="url(#ic3)">
<g filter="url(#glow2)" stroke="#222" stroke-opacity="0.7" stroke-width="0.7" stroke-linejoin="round">
<polygon fill="#5ec962" points="1079.1,138.3 1081.6,134.4 1085.5,132.2 1090,131.5 1094.6,132.5 1099.1,134.4 1103.6,137 1107.5,139.6 1111.3,142.8 1115.2,146 1118.4,149.2 1121,151.8 1124.3,149.9 1127.5,148.6 1130.7,146.7 1132.7,148 1130.7,150.5 1127.5,152.5 1124.9,153.8 1126.2,157 1128.8,158.9 1127.5,161.5 1124.9,162.8 1127.5,165.4 1130.7,167.3 1132.7,170.6 1135.9,171.8 1137.8,171.2 1136.5,173.8 1137.8,177.7 1139.8,181.5 1141,185.4 1142.3,189.9 1143,194.4 1141.7,199 1139.8,202.8 1137.8,206.1 1135.2,207.4 1132.7,206.3 1131.4,203.5 1132.7,200.3 1133.9,197 1132.7,195.1 1129.4,194.7 1126.2,193.8 1123,193.2 1119.7,194.2 1116.5,195.1 1113.3,194.7 1110.1,195.5 1107.5,197 1104.9,196.4 1102.3,194.4 1100.4,191.9 1099.1,189.3 1101,186.7 1104.2,185.4 1107.5,184.4 1110.7,184.1 1113.3,182.8 1113.9,180.2 1112,177.7 1108.8,176.4 1105.5,175.3 1102.3,174 1099.1,172.2 1095.8,169.6 1092.6,166.7 1089.8,163.4 1087.5,159.6 1085.9,155.7 1084.9,151.8 1082.9,148 1080.3,144.1 1078.7,140.8"/>
</g>

</g>
<text x="1060.0" y="114.4" font-size="14.7" fill="#111" stroke="#111" stroke-width="0.3" textLength="98.5" lengthAdjust="spacingAndGlyphs">Martinique (FR)</text>
<rect x="1065.4" y="207.0" width="29.4" height="6.8" fill="#fff" stroke="#111" stroke-width="1.15"/>
<rect x="1065.9" y="210.4" width="28.4" height="2.9" fill="#cfcfcf"/>
<line x1="1065.4" y1="210.2" x2="1094.8" y2="210.2" stroke="#111" stroke-width="0.8"/>
<text x="1063.9" y="224.8" font-size="8.8" fill="#111" stroke="#111" stroke-width="0.15">0</text>
<text x="1090.7" y="224.8" font-size="8.8" fill="#111" stroke="#111" stroke-width="0.15" textLength="9.2" lengthAdjust="spacingAndGlyphs">20</text>
</g>
<g><clipPath id="ic4"><rect x="799.5" y="242.9" width="120" height="134.3"/></clipPath>
<rect x="800.7" y="244.1" width="120" height="134.3" fill="#c9c9c9" opacity="0.6"/>
<rect x="799.5" y="242.9" width="120" height="134.3" fill="#fff" stroke="#a9a9a9" stroke-width="1"/>
<g clip-path="url(#ic4)">
<g filter="url(#glow2)" stroke="#222" stroke-opacity="0.7" stroke-width="0.7" stroke-linejoin="round">
<polygon fill="#e6e6e6" points="798.2,274.1 807.7,275.2 816.2,274.5 824.7,276.2 833.2,279.4 840.7,281.5 848.1,283.7 855.5,286.4 860.8,290 866.2,294.3 871.5,298.5 876.8,302.8 882.1,307 885.9,311.3 891.6,311.3 895.9,317.7 899.1,325.1 901.2,333.6 904.4,342.1 907.6,350.6 910.8,359.1 915,366.5 920.3,368 920.3,378.2 798.2,378.2"/>
<polygon fill="#5ec962" points="833.2,279.4 840.7,281.5 848.1,283.7 855.5,286.4 860.8,290 866.2,294.3 871.5,298.5 876.8,302.8 882.1,307 885.9,311.3 885.3,315.5 882.1,319.8 880,324 876.8,328.3 873.6,333.6 870.4,338.9 867.2,344.2 864,349.5 860.8,354.8 857.7,359.1 853.4,359.5 849.2,358 846,354.8 841.7,354.4 837.5,355.9 834.3,359.1 830,360.8 824.7,359.5 820.5,356.9 823.7,352.7 826.9,348.5 829,343.1 830,336.8 830.7,331.5 829,326.1 826.4,320.8 824.3,314.5 822.6,308.1 822.2,301.7 823.7,295.3 826.9,290 830.7,284.7"/>
</g>
<polyline fill="none" stroke="#000" stroke-width="1.4" stroke-linejoin="round" points="833.2,279.4 830.7,284.7 826.9,290 823.7,295.3 822.2,301.7 822.6,308.1 824.3,314.5 826.4,320.8 829,326.1 830.7,331.5 830,336.8 829,343.1 826.9,348.5 823.7,352.7 820.5,356.9 824.7,359.5 830,360.8 834.3,359.1 837.5,355.9 841.7,354.4 846,354.8 849.2,358 853.4,359.5 857.7,359.1 860.8,354.8 864,349.5 867.2,344.2 870.4,338.9 873.6,333.6 876.8,328.3 880,324 882.1,319.8 885.3,315.5 885.9,311.3"/><polyline fill="none" stroke="#000" stroke-width="1.2" stroke-linejoin="round" points="798.2,353.8 803.5,351.6 807.7,350.6 810.9,349.5 813.1,352.7 817.3,353.8 820.5,356.9"/>
</g>
<text x="801.9" y="257.7" font-size="14.7" fill="#111" stroke="#111" stroke-width="0.3" textLength="77.7" lengthAdjust="spacingAndGlyphs">Guyane (FR)</text>
<rect x="872.5" y="350.3" width="20.6" height="6.8" fill="#fff" stroke="#111" stroke-width="1.15"/>
<rect x="873.0" y="353.7" width="19.6" height="2.9" fill="#cfcfcf"/>
<line x1="872.5" y1="353.5" x2="893.1" y2="353.5" stroke="#111" stroke-width="0.8"/>
<text x="871.0" y="368.1" font-size="8.8" fill="#111" stroke="#111" stroke-width="0.15">0</text>
<text x="886.7" y="368.1" font-size="8.8" fill="#111" stroke="#111" stroke-width="0.15" textLength="13.8" lengthAdjust="spacingAndGlyphs">100</text>
</g>
<g><clipPath id="ic5"><rect x="928.4" y="242.9" width="120" height="134.3"/></clipPath>
<rect x="929.6" y="244.1" width="120" height="134.3" fill="#c9c9c9" opacity="0.6"/>
<rect x="928.4" y="242.9" width="120" height="134.3" fill="#fff" stroke="#a9a9a9" stroke-width="1"/>
<g clip-path="url(#ic5)">
<g filter="url(#glow2)" stroke="#222" stroke-opacity="0.7" stroke-width="0.7" stroke-linejoin="round">
<polygon fill="#5ec962" points="950.1,297.5 953.2,293.6 957.5,290 959.6,284.7 963.9,280.5 969.2,277.3 975.5,275.8 981.9,276.2 988.3,277.3 994.7,278.8 1000,280.5 1004.2,283.7 1007.4,289 1010.6,294.3 1014.8,299.6 1019.1,304.9 1023.3,310.2 1024.8,314.5 1023.3,319.8 1022.3,325.1 1021.2,331.5 1019.1,336.8 1013.8,339.5 1007.4,341 1001,341.7 994.7,340.4 988.3,338.9 981.9,336.8 975.5,334 970.2,331 964.9,327.2 960.7,322.5 958.6,317 957.5,311.3 954.3,306 951.8,301.7"/>
</g>

</g>
<text x="930.8" y="257.7" font-size="14.7" fill="#111" stroke="#111" stroke-width="0.3" textLength="82.4" lengthAdjust="spacingAndGlyphs">Réunion (FR)</text>
<rect x="936.2" y="350.3" width="23.4" height="6.8" fill="#fff" stroke="#111" stroke-width="1.15"/>
<rect x="936.7" y="353.7" width="22.4" height="2.9" fill="#cfcfcf"/>
<line x1="936.2" y1="353.5" x2="959.6" y2="353.5" stroke="#111" stroke-width="0.8"/>
<text x="934.7" y="368.1" font-size="8.8" fill="#111" stroke="#111" stroke-width="0.15">0</text>
<text x="955.5" y="368.1" font-size="8.8" fill="#111" stroke="#111" stroke-width="0.15" textLength="9.2" lengthAdjust="spacingAndGlyphs">20</text>
</g>
<g><clipPath id="ic6"><rect x="1057.6" y="242.9" width="120" height="134.3"/></clipPath>
<rect x="1058.8" y="244.1" width="120" height="134.3" fill="#c9c9c9" opacity="0.6"/>
<rect x="1057.6" y="242.9" width="120" height="134.3" fill="#fff" stroke="#a9a9a9" stroke-width="1"/>
<g clip-path="url(#ic6)">
<g filter="url(#glow2)" stroke="#222" stroke-opacity="0.7" stroke-width="0.7" stroke-linejoin="round">
<polygon fill="#5ec962" points="1101,276.7 1103.6,274.8 1106.8,273.5 1108.8,276.1 1110.7,279.3 1112,283.2 1113.3,287.1 1115.9,289.7 1119.7,290.3 1123.6,289.7 1127.5,290.3 1131.4,291.2 1134.6,292.9 1137.2,295.5 1138.9,298.7 1137.8,301.9 1135.9,305.2 1133.9,308.4 1131.4,311.6 1128.8,314.2 1127.5,317.4 1129.4,320.7 1132,323.2 1133.9,326.5 1132.7,329.7 1130.1,332.3 1128.1,335.5 1126.2,338.7 1124.3,342 1125.6,345.2 1128.1,347.8 1128.8,350.4 1125.6,351.7 1122.3,352.9 1118.4,354.2 1114.6,353.6 1110.7,352.3 1108.1,349.7 1106.8,346.5 1104.2,344.5 1102.3,345.8 1103.6,342.6 1105.5,340 1108.8,339.4 1112,340 1115.2,338.7 1117.2,336.2 1115.9,333.6 1113.3,331 1110.7,328.4 1108.1,325.8 1105.5,323.2 1104.2,320 1105.5,316.8 1106.8,313.6 1105.5,310.3 1104.2,306.4 1102.3,303.2 1099.7,300.6 1097.1,298.7 1094.6,296.8 1092,294.8 1092.6,291 1093.3,287.7 1095.2,284.5 1097.8,281.3 1099.7,278.7"/>
<polygon fill="#5ec962" points="1144.9,303.2 1146.9,300 1149.2,298.1 1151.4,301.3 1152,305.2 1150.7,309 1148.4,311 1146.2,307.7"/>
<polygon fill="#7d8a8a" points="1085.5,270.9 1088.7,268.3 1092,271.6 1088.7,274.2"/>
<polygon fill="#5ec962" points="1098.8,331.6 1103,331 1106.2,332.9 1106.8,336.2 1104.9,338.7 1101.7,337.4 1099.7,334.6"/>
<polygon fill="#7d8a8a" points="1135.2,308.4 1137.2,307.1 1138.5,310.3 1136.5,311.6"/>
<polygon fill="#7d8a8a" points="1134.6,330.3 1136.3,329.4 1137.2,331.2 1135.5,332.3"/>
</g>

</g>
<text x="1060.0" y="257.7" font-size="14.7" fill="#111" stroke="#111" stroke-width="0.3" textLength="80.5" lengthAdjust="spacingAndGlyphs">Mayotte (FR)</text>
<rect x="1065.4" y="350.3" width="22.2" height="6.8" fill="#fff" stroke="#111" stroke-width="1.15"/>
<rect x="1065.9" y="353.7" width="21.2" height="2.9" fill="#cfcfcf"/>
<line x1="1065.4" y1="353.5" x2="1087.6" y2="353.5" stroke="#111" stroke-width="0.8"/>
<text x="1063.9" y="368.1" font-size="8.8" fill="#111" stroke="#111" stroke-width="0.15">0</text>
<text x="1083.5" y="368.1" font-size="8.8" fill="#111" stroke="#111" stroke-width="0.15" textLength="9.2" lengthAdjust="spacingAndGlyphs">10</text>
</g>
<g><clipPath id="ic7"><rect x="799.5" y="386.5" width="120" height="134.3"/></clipPath>
<rect x="800.7" y="387.7" width="120" height="134.3" fill="#c9c9c9" opacity="0.6"/>
<rect x="799.5" y="386.5" width="120" height="134.3" fill="#fff" stroke="#a9a9a9" stroke-width="1"/>
<g clip-path="url(#ic7)">
<g filter="url(#glow2)" stroke="#222" stroke-opacity="0.7" stroke-width="0.7" stroke-linejoin="round">
<polygon fill="#21a385" points="819.4,423.4 822.6,420.7 827.9,419.8 833.2,420.7 838.5,422.8 843.4,425.5 847,428.7 846,433 841.7,435.1 836.4,436.2 831.1,435.1 825.8,434 821.6,431.9 820.1,427.7"/>
<polygon fill="#21a385" points="847,434 850.6,433.4 852.8,436.2 849.8,437.6"/>
<polygon fill="#21a385" points="848.1,443.6 852.3,441 856.6,442.5 860.8,445.7 867.2,447.4 872.5,450 877.8,453.2 883.1,456.3 888.5,459.5 893.1,463.8 897,468 898,473.3 895.9,478.6 891.6,481.8 886.3,481.4 880,480.1 873.6,478.6 867.2,476.5 860.8,473.3 855.5,469.1 851.9,463.8 849.8,458.5 850.6,453.2 849.2,447.8"/>
</g>

</g>
<text x="801.9" y="401.3" font-size="14.7" fill="#111" stroke="#111" stroke-width="0.3" textLength="35.7" lengthAdjust="spacingAndGlyphs">Malta</text>
<rect x="806.7" y="493.9" width="21.9" height="6.8" fill="#fff" stroke="#111" stroke-width="1.15"/>
<rect x="807.2" y="497.3" width="20.9" height="2.9" fill="#cfcfcf"/>
<line x1="806.7" y1="497.1" x2="828.6" y2="497.1" stroke="#111" stroke-width="0.8"/>
<text x="805.2" y="511.7" font-size="8.8" fill="#111" stroke="#111" stroke-width="0.15">0</text>
<text x="824.5" y="511.7" font-size="8.8" fill="#111" stroke="#111" stroke-width="0.15" textLength="9.2" lengthAdjust="spacingAndGlyphs">10</text>
</g>
<g><clipPath id="ic8"><rect x="928.4" y="386.5" width="120" height="134.3"/></clipPath>
<rect x="929.6" y="387.7" width="120" height="134.3" fill="#c9c9c9" opacity="0.6"/>
<rect x="928.4" y="386.5" width="120" height="134.3" fill="#fff" stroke="#a9a9a9" stroke-width="1"/>
<g clip-path="url(#ic8)">
<g filter="url(#glow2)" stroke="#222" stroke-opacity="0.7" stroke-width="0.7" stroke-linejoin="round">
<polygon fill="#dde228" points="954.3,438.3 956.9,436.2 960.3,437.6 961.1,441.5 959.6,444.7 956.4,445.3 954.3,442.5"/>
<polygon fill="#7d8a8a" points="961.9,423.4 963.6,422.8 964.3,424.9 962.6,425.8"/>
<polygon fill="#dde228" points="995.1,423.4 997.8,422.4 1002.1,424.5 1007.4,425.5 1012.7,424.5 1017,424.5 1018,427 1014.8,429.2 1009.5,429.8 1004.2,429.2 998.9,427.7 995.7,426.2"/>
<polygon fill="#7d8a8a" points="1016.3,458 1019.7,456.8 1022.7,458.5 1021.8,460.6 1018,461"/>
<polygon fill="#dde228" points="970.9,461 973.8,459.7 976.6,462.3 975.5,465.3 972.4,464.8"/>
<polygon fill="#dde228" points="959.6,479.7 962.8,480.1 969.2,483.5 975.5,487.1 981.9,490.3 985.1,492.5 983.6,493.7 977.7,491.4 971.3,488.2 964.9,484.4 960.7,481.8"/>
<polygon fill="#dde228" points="936.9,488.2 940.5,486.5 944.7,487.1 946.9,490.3 944.7,493.5 940.5,493.5 937.7,491.4"/>
<polygon fill="#dde228" points="949.6,492.5 953.2,490.8 958.6,492 963.9,494.6 968.1,497.1 972.4,498.8 970.2,500.9 964.9,500.9 958.6,499.9 953.2,498.4 950.1,496.3"/>
<polygon fill="#dde228" points="1002.7,480.1 1005.7,478 1010.6,477.6 1015.9,478.6 1018,481.8 1017,485.7 1012.7,487.1 1007.4,486.5 1003.6,484.4"/>
</g>
<rect x="940.5" y="410.7" width="35.7" height="41.4" fill="none" stroke="#9a9a9a" stroke-width="0.8"/><rect x="988.7" y="410.7" width="47.4" height="55.8" fill="none" stroke="#9a9a9a" stroke-width="0.8"/>
</g>
<text x="930.8" y="401.3" font-size="14.7" fill="#111" stroke="#111" stroke-width="0.3" textLength="72.2" lengthAdjust="spacingAndGlyphs">Açores (PT)</text>
<rect x="1002.7" y="493.9" width="27" height="6.8" fill="#fff" stroke="#111" stroke-width="1.15"/>
<rect x="1003.2" y="497.3" width="26" height="2.9" fill="#cfcfcf"/>
<line x1="1002.7" y1="497.1" x2="1029.7" y2="497.1" stroke="#111" stroke-width="0.8"/>
<text x="1001.2" y="511.7" font-size="8.8" fill="#111" stroke="#111" stroke-width="0.15">0</text>
<text x="1025.6" y="511.7" font-size="8.8" fill="#111" stroke="#111" stroke-width="0.15" textLength="9.2" lengthAdjust="spacingAndGlyphs">50</text>
</g>
<g><clipPath id="ic9"><rect x="1057.6" y="386.5" width="120" height="134.3"/></clipPath>
<rect x="1058.8" y="387.7" width="120" height="134.3" fill="#c9c9c9" opacity="0.6"/>
<rect x="1057.6" y="386.5" width="120" height="134.3" fill="#fff" stroke="#a9a9a9" stroke-width="1"/>
<g clip-path="url(#ic9)">
<g filter="url(#glow2)" stroke="#222" stroke-opacity="0.7" stroke-width="0.7" stroke-linejoin="round">
<polygon fill="#dde228" points="1071.7,443.3 1074.5,440.1 1077.8,437.5 1080.3,437.8 1082.9,440.1 1085.5,442.4 1088.7,443.7 1092.6,443.3 1096.5,442.4 1101,441.7 1104.9,441.7 1108.1,443 1110.7,445.3 1113.3,447.9 1116.5,449.8 1120.4,451.1 1124.3,451.7 1127.5,453 1129,454.3 1126.2,453.7 1122.3,452.8 1120.4,453.7 1118.4,456.9 1115.9,460.1 1113.3,462.7 1109.4,463.6 1105.5,463.1 1102.3,464 1099.1,463.1 1095.2,461.4 1091.3,459.7 1087.5,458.2 1083.6,456.3 1080.3,454.3 1077.1,451.7 1074.5,448.5 1073,445.9"/>
<polygon fill="#dde228" points="1152.7,419.5 1155.3,416.2 1158.5,413.6 1161.7,412.3 1164.3,413 1163.7,415.8 1161.1,418.2 1157.8,419.7 1155.3,421.4 1154.6,424 1153.6,422"/>
<polygon fill="#7d8a8a" points="1139.1,468.8 1140.4,472.4 1142.3,477.6 1144,482.7 1144.9,487.3 1145.8,490.2 1144.9,490.5 1143.2,485.3 1141.4,478.9 1139.8,473.7 1138.6,469.8"/>
</g>

</g>
<text x="1060.0" y="401.3" font-size="14.7" fill="#111" stroke="#111" stroke-width="0.3" textLength="80.5" lengthAdjust="spacingAndGlyphs">Madeira (PT)</text>
<rect x="1065.4" y="493.9" width="20.7" height="6.8" fill="#fff" stroke="#111" stroke-width="1.15"/>
<rect x="1065.9" y="497.3" width="19.7" height="2.9" fill="#cfcfcf"/>
<line x1="1065.4" y1="497.1" x2="1086.1" y2="497.1" stroke="#111" stroke-width="0.8"/>
<text x="1063.9" y="511.7" font-size="8.8" fill="#111" stroke="#111" stroke-width="0.15">0</text>
<text x="1082.0" y="511.7" font-size="8.8" fill="#111" stroke="#111" stroke-width="0.15" textLength="9.2" lengthAdjust="spacingAndGlyphs">20</text>
</g>
<g><clipPath id="ic10"><rect x="928.4" y="530.0" width="120" height="134.3"/></clipPath>
<rect x="929.6" y="531.2" width="120" height="134.3" fill="#c9c9c9" opacity="0.6"/>
<rect x="928.4" y="530.0" width="120" height="134.3" fill="#21a385" stroke="#2a9a80" stroke-width="1"/>
<g clip-path="url(#ic10)">
<polygon fill="#e6e6e6" stroke="#000" stroke-width="1.4" stroke-linejoin="round" points="991,560.3 993.9,563.6 997.2,569.1 999.4,574.6 1002.7,580.2 1003.8,585.7 1001.6,591.2 999.4,595.6 999.9,600 1003.8,602.2 1008.2,604.4 1012.7,607.7 1016,612.1 1017.1,617.7 1016,623.2 1017.1,628.7 1016,634.2 1013.8,639.7 1012.2,645.2 1008.2,647.4 1003.8,648.5 999.4,650.3 996.1,649.6 992.8,646.3 989.5,645.2 986.2,646.3 981.8,648.1 977.4,649 974,649.6 972.9,646.3 976.3,643 980.7,638.6 984,634.2 986.2,628.7 986.2,622.1 985.1,615.4 982.9,608.8 980.7,602.2 979.1,595.6 978.5,589 980,582.4 982.9,575.7 986.2,569.1 988.8,563.6"/><polyline fill="none" stroke="#000" stroke-width="1.3" points="991,560.3 993.9,554.8 996.8,549.7 997.7,546"/><polyline fill="none" stroke="#000" stroke-width="1.3" stroke-linejoin="round" points="1012.2,645.2 1017.1,647.4 1022.6,648.5 1028.1,646.3 1033.6,645.9 1039.1,649.6 1043.5,653 1050.2,654.3"/>
</g>
<text x="930.8" y="544.8" font-size="14.7" fill="#0c2a24" stroke="#0c2a24" stroke-width="0.3" textLength="85.6" lengthAdjust="spacingAndGlyphs" filter="url(#wglow)">Liechtenstein</text>
<rect x="936.2" y="637.4" width="19.9" height="6.8" fill="#21a385" stroke="#123c33" stroke-width="1.15"/>
<rect x="936.7" y="640.8" width="18.9" height="2.9" fill="#1d8a70"/>
<line x1="936.2" y1="640.6" x2="956.1" y2="640.6" stroke="#123c33" stroke-width="0.8"/>
<text x="934.7" y="655.2" font-size="8.8" fill="#0c2a24" stroke="#0c2a24" stroke-width="0.15">0</text>
<text x="954.3" y="655.2" font-size="8.8" fill="#0c2a24" stroke="#0c2a24" stroke-width="0.15" textLength="4.6" lengthAdjust="spacingAndGlyphs">5</text>
</g>
<g><clipPath id="ic11"><rect x="1057.6" y="530.0" width="120" height="134.3"/></clipPath>
<rect x="1058.8" y="531.2" width="120" height="134.3" fill="#c9c9c9" opacity="0.6"/>
<rect x="1057.6" y="530.0" width="120" height="134.3" fill="#fff" stroke="#a9a9a9" stroke-width="1"/>
<g clip-path="url(#ic11)">
<g filter="url(#glow2)" stroke="#222" stroke-opacity="0.7" stroke-width="0.7" stroke-linejoin="round">
<polygon fill="#dde228" points="1079.9,589 1083.2,585 1087.7,584.1 1091,587.9 1094.3,591.2 1096.5,586.8 1098.7,582.4 1102,581.3 1104.2,585.7 1106.4,590.1 1109.7,593.4 1113,595.6 1116.3,593.4 1114.1,589 1110.8,584.6 1107.5,580.2 1108.6,574.6 1111.9,571.3 1116.3,572.4 1120.8,573.5 1125.2,571.3 1130.7,570.2 1135.1,571.3 1137.3,575.7 1136.2,581.3 1132.9,585.7 1129.6,589 1125.2,590.1 1120.8,587.9 1117.4,590.1 1118.5,595.6 1121.9,600 1119.6,604.4 1123,605.5 1126.3,608.8 1129.6,612.1 1134,614.3 1138,617.7 1138.4,623.2 1135.1,627.6 1131.8,625.4 1128.5,622.1 1125.2,624.3 1124.1,619.9 1121.9,614.3 1118.5,611 1115.2,613.2 1114.1,618.8 1113,624.3 1111.9,630.9 1110.8,637.5 1109.3,644.1 1107.5,646.3 1104.9,641.9 1102,636.4 1098.7,632 1095.4,628.7 1094.3,624.3 1097.6,622.1 1102,619.9 1099.8,616.6 1095.4,617.7 1092.1,616.6 1089.9,612.1 1087.7,607.7 1085.5,603.3 1083.2,598.9 1081,594.5"/>
<polygon fill="#7d8a8a" points="1151.6,565.8 1154.3,562.9 1156,562.9 1153.4,566.9"/>
<polygon fill="#7d8a8a" points="1141.7,596.7 1147.2,592.3 1153.8,589 1154.3,590.3 1148.3,593.8 1142.8,598.2"/>
<polygon fill="#7d8a8a" points="1147.2,636.4 1149,635.3 1149.4,640.8 1147.9,642.4"/>
<polygon fill="#7d8a8a" points="1079.3,602.2 1081,602.7 1084.4,609.9 1085.9,614.3 1084.4,614.3 1081,608.4"/>
</g>

</g>
<text x="1060.0" y="544.8" font-size="14.7" fill="#111" stroke="#111" stroke-width="0.3" textLength="88.2" lengthAdjust="spacingAndGlyphs">Svalbard (NO)</text>
<rect x="1065.9" y="637.4" width="18.1" height="6.8" fill="#fff" stroke="#111" stroke-width="1.15"/>
<rect x="1066.4" y="640.8" width="17.1" height="2.9" fill="#cfcfcf"/>
<line x1="1065.9" y1="640.6" x2="1084.0" y2="640.6" stroke="#111" stroke-width="0.8"/>
<text x="1064.4" y="655.2" font-size="8.8" fill="#111" stroke="#111" stroke-width="0.15">0</text>
<text x="1077.6" y="655.2" font-size="8.8" fill="#111" stroke="#111" stroke-width="0.15" textLength="13.8" lengthAdjust="spacingAndGlyphs">100</text>
</g>
<text x="65" y="35.5" font-size="32.5" fill="#111" stroke="#111" stroke-width="0.5" textLength="762.5" lengthAdjust="spacingAndGlyphs">Proportion of women scientists and engineers, 2021</text>
<text x="65.6" y="75.5" font-size="32.5" fill="#111" stroke="#111" stroke-width="0.5" textLength="316.5" lengthAdjust="spacingAndGlyphs">(%, by NUTS 1 regions)</text>
<rect x="71.6" y="266.6" width="37.6" height="19" fill="#dde228" stroke="#444" stroke-opacity="0.6" stroke-width="0.9"/>
<text x="120" y="281.3" font-size="16.8" fill="#111" stroke="#111" stroke-width="0.2" textLength="44" lengthAdjust="spacingAndGlyphs">> 50%</text>
<rect x="71.6" y="292.2" width="37.6" height="19" fill="#5ec962" stroke="#444" stroke-opacity="0.6" stroke-width="0.9"/>
<text x="120" y="306.9" font-size="16.8" fill="#111" stroke="#111" stroke-width="0.2" textLength="91" lengthAdjust="spacingAndGlyphs">45% – < 50%</text>
<rect x="71.6" y="317.9" width="37.6" height="19" fill="#21a385" stroke="#444" stroke-opacity="0.6" stroke-width="0.9"/>
<text x="120" y="332.6" font-size="16.8" fill="#111" stroke="#111" stroke-width="0.2" textLength="91" lengthAdjust="spacingAndGlyphs">41% – < 45%</text>
<rect x="71.6" y="343.6" width="37.6" height="19" fill="#27858f" stroke="#444" stroke-opacity="0.6" stroke-width="0.9"/>
<text x="120" y="358.2" font-size="16.8" fill="#111" stroke="#111" stroke-width="0.2" textLength="91" lengthAdjust="spacingAndGlyphs">35% – < 41%</text>
<rect x="71.6" y="369.2" width="37.6" height="19" fill="#440154" stroke="#444" stroke-opacity="0.6" stroke-width="0.9"/>
<text x="120" y="383.9" font-size="16.8" fill="#111" stroke="#111" stroke-width="0.2" textLength="44" lengthAdjust="spacingAndGlyphs">< 35%</text>
<text x="65" y="1015" font-size="16.2" fill="#111" stroke="#111" stroke-width="0.22" textLength="484" lengthAdjust="spacingAndGlyphs">Regional data for Croatia, Cyprus, Czechia, Denmark, Estonia, Ireland,</text>
<text x="65" y="1037" font-size="16.2" fill="#111" stroke="#111" stroke-width="0.22" textLength="528" lengthAdjust="spacingAndGlyphs">Lithuania, Luxembourg, Latvia, Malta, Slovenia and Slovakia: Single regions</text>
<text x="65" y="1059" font-size="16.2" fill="#111" stroke="#111" stroke-width="0.22" textLength="464" lengthAdjust="spacingAndGlyphs">at this level of detail. Bremen (DE5), Saarland (DEC), Corsica (FRM),</text>
<text x="65" y="1081" font-size="16.2" fill="#111" stroke="#111" stroke-width="0.22" textLength="383" lengthAdjust="spacingAndGlyphs">Åland Islands (FI12): Break in time series, low reliability</text>
<text x="703" y="1015" font-size="16.2" fill="#111" stroke="#111" stroke-width="0.22" textLength="484" lengthAdjust="spacingAndGlyphs">Administrative boundaries: © EuroGeographics © UN–FAO © Turkstat</text>
<text x="703" y="1037" font-size="16.2" fill="#111" stroke="#111" stroke-width="0.22" textLength="282" lengthAdjust="spacingAndGlyphs">Cartography: Eurostat – IMAGE, 02/2023</text>
<text x="1104" y="1081" font-size="16.5" font-weight="bold" fill="#8c8f9b" textLength="66" lengthAdjust="spacingAndGlyphs">eurostat</text>
<rect x="1172" y="1069.8" width="15.3" height="10.5" fill="#0c3aa0"/>
<g fill="#8f9fd0"><circle cx="1179.65" cy="1071.75" r="0.4"/><circle cx="1181.30" cy="1072.19" r="0.4"/><circle cx="1182.51" cy="1073.40" r="0.4"/><circle cx="1182.95" cy="1075.05" r="0.4"/><circle cx="1182.51" cy="1076.70" r="0.4"/><circle cx="1181.30" cy="1077.91" r="0.4"/><circle cx="1179.65" cy="1078.35" r="0.4"/><circle cx="1178.00" cy="1077.91" r="0.4"/><circle cx="1176.79" cy="1076.70" r="0.4"/><circle cx="1176.35" cy="1075.05" r="0.4"/><circle cx="1176.79" cy="1073.40" r="0.4"/><circle cx="1178.00" cy="1072.19" r="0.4"/></g>
</svg></body></html>
